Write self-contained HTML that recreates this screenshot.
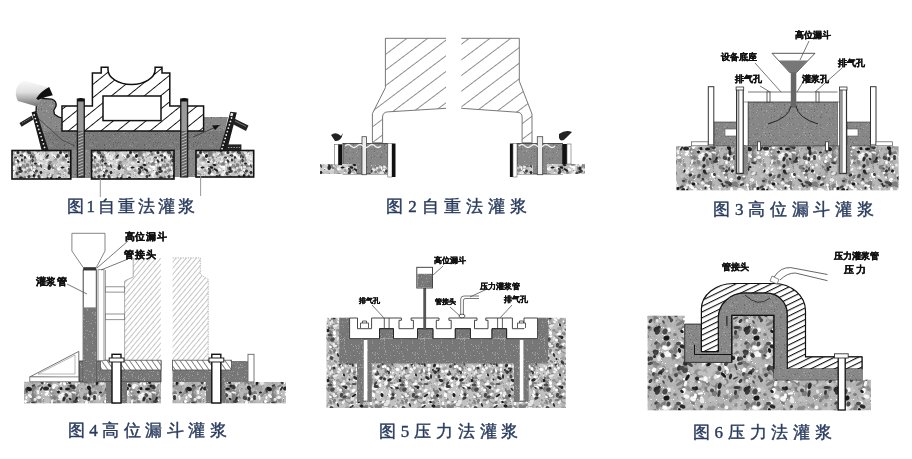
<!DOCTYPE html>
<html><head><meta charset="utf-8"><style>
html,body{margin:0;padding:0;background:#fff;}
#wrap{position:relative;width:912px;height:459px;overflow:hidden;background:#fff;filter:blur(0.6px);}
.cap{position:absolute;font-family:"Liberation Serif",serif;color:#2a3c5e;font-weight:normal;-webkit-text-stroke:0.4px #2a3c5e;white-space:nowrap;line-height:1;display:flex;justify-content:space-between;}
.cap span{display:inline-block}
.lab{position:absolute;font-family:"Liberation Sans",sans-serif;color:#111;font-weight:bold;-webkit-text-stroke:0.3px #111;white-space:nowrap;line-height:1;}
</style></head><body><div id="wrap">
<svg width="912" height="459" viewBox="0 0 912 459" style="position:absolute;left:0;top:0"><defs><pattern id="con" patternUnits="userSpaceOnUse" width="70" height="50"><rect width="70" height="50" fill="#cfcfcf"/><path fill="#eee" d="M16 15h1v1h-1zM28 28h1v1h-1zM0 10h1v1h-1zM54 13h1v1h-1zM23 15h1v1h-1zM42 21h1v1h-1zM49 48h1v1h-1zM42 4h1v1h-1zM51 16h1v1h-1zM25 34h1v1h-1zM61 21h1v1h-1zM46 19h1v1h-1zM2 48h1v1h-1zM35 42h1v1h-1zM32 4h1v1h-1zM10 23h1v1h-1zM56 49h1v1h-1zM45 18h1v1h-1zM23 49h1v1h-1zM18 36h1v1h-1zM34 1h1v1h-1zM29 6h1v1h-1zM42 1h1v1h-1zM49 49h1v1h-1zM28 34h1v1h-1zM64 48h1v1h-1zM56 24h1v1h-1zM69 46h1v1h-1zM30 30h1v1h-1zM12 26h1v1h-1zM28 36h1v1h-1zM56 15h1v1h-1zM42 38h1v1h-1zM29 6h1v1h-1zM51 12h1v1h-1zM64 44h1v1h-1zM30 31h1v1h-1zM16 14h1v1h-1zM52 42h1v1h-1zM21 39h1v1h-1zM62 14h1v1h-1zM38 39h1v1h-1zM23 14h1v1h-1zM20 48h1v1h-1zM64 38h1v1h-1zM41 45h1v1h-1zM56 39h1v1h-1zM46 12h1v1h-1zM38 25h1v1h-1zM52 39h1v1h-1zM39 23h1v1h-1zM6 7h1v1h-1zM46 30h1v1h-1zM42 6h1v1h-1zM13 27h1v1h-1zM28 25h1v1h-1zM58 6h1v1h-1zM36 21h1v1h-1z"/><path fill="#999" d="M32 43h1v1h-1zM4 2h1v1h-1zM50 16h1v1h-1zM29 28h1v1h-1zM53 6h1v1h-1zM8 21h1v1h-1zM21 44h1v1h-1zM45 5h1v1h-1zM13 8h1v1h-1zM57 12h1v1h-1zM5 11h1v1h-1zM31 3h1v1h-1zM20 27h1v1h-1zM65 25h1v1h-1zM23 33h1v1h-1zM44 40h1v1h-1zM64 10h1v1h-1zM54 13h1v1h-1zM37 2h1v1h-1zM66 25h1v1h-1zM28 40h1v1h-1zM27 23h1v1h-1zM65 6h1v1h-1zM23 39h1v1h-1zM37 29h1v1h-1zM9 5h1v1h-1zM19 24h1v1h-1zM43 46h1v1h-1zM20 36h1v1h-1zM29 26h1v1h-1zM43 43h1v1h-1zM62 10h1v1h-1zM62 7h1v1h-1zM38 35h1v1h-1zM35 34h1v1h-1zM63 24h1v1h-1zM13 10h1v1h-1zM44 2h1v1h-1zM49 38h1v1h-1zM15 20h1v1h-1zM28 3h1v1h-1zM21 1h1v1h-1zM66 4h1v1h-1zM30 24h1v1h-1zM64 7h1v1h-1zM41 32h1v1h-1zM64 8h1v1h-1zM30 13h1v1h-1zM53 16h1v1h-1zM28 19h1v1h-1zM15 3h1v1h-1zM64 12h1v1h-1zM69 19h1v1h-1zM45 39h1v1h-1zM13 14h1v1h-1zM54 5h1v1h-1zM28 11h1v1h-1zM19 27h1v1h-1zM40 9h1v1h-1zM57 42h1v1h-1zM6 41h1v1h-1zM5 4h1v1h-1zM39 4h1v1h-1zM9 32h1v1h-1zM41 5h1v1h-1zM65 7h1v1h-1zM22 39h1v1h-1zM58 31h1v1h-1zM36 29h1v1h-1zM66 31h1v1h-1zM20 45h1v1h-1zM53 18h1v1h-1zM56 1h1v1h-1zM27 28h1v1h-1zM24 7h1v1h-1zM55 36h1v1h-1zM62 44h1v1h-1z"/><path fill="#fff" d="M42 39h1v1h-1zM46 23h1v1h-1zM54 20h1v1h-1zM17 30h1v1h-1zM8 26h1v1h-1zM17 35h1v1h-1zM2 1h1v1h-1zM49 40h1v1h-1zM18 1h1v1h-1zM50 48h1v1h-1zM50 29h1v1h-1zM63 49h1v1h-1zM38 40h1v1h-1zM24 21h1v1h-1zM64 31h1v1h-1zM63 16h1v1h-1zM7 28h1v1h-1zM49 32h1v1h-1zM32 38h1v1h-1zM27 21h1v1h-1zM69 40h1v1h-1zM63 2h1v1h-1zM66 33h1v1h-1zM45 1h1v1h-1zM53 19h1v1h-1zM25 8h1v1h-1zM57 7h1v1h-1zM44 18h1v1h-1zM44 0h1v1h-1zM26 5h1v1h-1zM15 33h1v1h-1zM64 22h1v1h-1zM63 12h1v1h-1zM28 17h1v1h-1zM33 37h1v1h-1zM22 10h1v1h-1zM61 21h1v1h-1zM11 42h1v1h-1zM50 24h1v1h-1zM14 31h1v1h-1zM14 37h1v1h-1zM18 9h1v1h-1zM14 17h1v1h-1zM18 27h1v1h-1zM40 35h1v1h-1zM6 44h1v1h-1zM38 3h1v1h-1zM12 37h1v1h-1zM42 38h1v1h-1z"/><path fill="#888" d="M32 28h1v1h-1zM43 9h1v1h-1zM44 30h1v1h-1zM33 49h1v1h-1zM22 1h1v1h-1zM49 1h1v1h-1zM54 21h1v1h-1zM34 29h1v1h-1zM14 48h1v1h-1zM29 45h1v1h-1zM68 6h1v1h-1zM52 3h1v1h-1zM6 7h1v1h-1zM8 13h1v1h-1zM49 23h1v1h-1zM2 30h1v1h-1zM35 31h1v1h-1zM58 6h1v1h-1zM19 11h1v1h-1zM48 10h1v1h-1zM18 36h1v1h-1zM44 45h1v1h-1zM56 47h1v1h-1zM24 4h1v1h-1zM36 34h1v1h-1zM5 27h1v1h-1zM64 40h1v1h-1zM24 45h1v1h-1zM37 5h1v1h-1zM9 4h1v1h-1zM7 42h1v1h-1zM61 45h1v1h-1zM54 41h1v1h-1zM37 19h1v1h-1zM45 35h1v1h-1zM8 12h1v1h-1zM27 47h1v1h-1zM33 8h1v1h-1zM38 30h1v1h-1zM41 32h1v1h-1zM31 33h1v1h-1zM44 19h1v1h-1zM25 17h1v1h-1zM59 38h1v1h-1zM40 41h1v1h-1zM52 18h1v1h-1zM12 4h1v1h-1zM30 36h1v1h-1zM54 26h1v1h-1zM24 0h1v1h-1zM1 5h1v1h-1zM33 25h1v1h-1zM38 41h1v1h-1zM60 24h1v1h-1zM61 45h1v1h-1zM3 21h1v1h-1zM7 20h1v1h-1zM46 1h1v1h-1zM21 17h1v1h-1zM22 14h1v1h-1zM51 17h1v1h-1zM13 20h1v1h-1zM2 49h1v1h-1zM28 4h1v1h-1zM54 41h1v1h-1zM46 5h1v1h-1zM54 7h1v1h-1zM64 28h1v1h-1zM53 24h1v1h-1zM59 43h1v1h-1zM43 22h1v1h-1zM61 49h1v1h-1z"/><path fill="#aaa" d="M68 33h1v1h-1zM46 31h1v1h-1zM31 42h1v1h-1zM36 1h1v1h-1zM56 9h1v1h-1zM0 43h1v1h-1zM13 50h1v1h-1zM15 13h1v1h-1zM44 6h1v1h-1zM11 31h1v1h-1zM39 43h1v1h-1zM37 47h1v1h-1zM60 29h1v1h-1zM59 4h1v1h-1zM10 31h1v1h-1zM62 19h1v1h-1zM22 42h1v1h-1zM39 33h1v1h-1zM30 2h1v1h-1zM6 11h1v1h-1zM39 42h1v1h-1zM45 26h1v1h-1zM18 34h1v1h-1zM15 43h1v1h-1zM36 20h1v1h-1zM41 43h1v1h-1zM18 10h1v1h-1zM38 43h1v1h-1zM45 26h1v1h-1zM3 28h1v1h-1zM26 46h1v1h-1zM40 10h1v1h-1zM9 16h1v1h-1zM69 1h1v1h-1zM18 45h1v1h-1zM38 21h1v1h-1zM31 32h1v1h-1zM66 21h1v1h-1zM28 16h1v1h-1zM20 33h1v1h-1zM42 6h1v1h-1zM29 39h1v1h-1zM35 15h1v1h-1zM56 22h1v1h-1zM26 33h1v1h-1zM5 4h1v1h-1zM22 46h1v1h-1zM38 42h1v1h-1zM59 21h1v1h-1zM47 25h1v1h-1zM56 4h1v1h-1zM58 44h1v1h-1zM22 19h1v1h-1zM64 17h1v1h-1zM56 19h1v1h-1zM56 36h1v1h-1zM10 45h1v1h-1zM9 37h1v1h-1zM33 48h1v1h-1zM22 20h1v1h-1zM34 46h1v1h-1zM38 18h1v1h-1zM49 47h1v1h-1zM9 45h1v1h-1zM29 2h1v1h-1zM33 21h1v1h-1zM63 26h1v1h-1zM9 22h1v1h-1z"/><path fill="#ddd" d="M13 26h1v1h-1zM21 5h1v1h-1zM27 48h1v1h-1zM13 25h1v1h-1zM5 10h1v1h-1zM21 9h1v1h-1zM69 33h1v1h-1zM5 27h1v1h-1zM3 47h1v1h-1zM43 4h1v1h-1zM51 19h1v1h-1zM12 45h1v1h-1zM27 26h1v1h-1zM19 30h1v1h-1zM45 28h1v1h-1zM31 31h1v1h-1zM19 17h1v1h-1zM6 47h1v1h-1zM51 41h1v1h-1zM33 50h1v1h-1zM66 25h1v1h-1zM14 11h1v1h-1zM43 5h1v1h-1zM62 1h1v1h-1zM41 7h1v1h-1zM13 23h1v1h-1zM23 4h1v1h-1zM20 6h1v1h-1zM1 18h1v1h-1zM40 50h1v1h-1zM65 33h1v1h-1zM52 3h1v1h-1zM3 5h1v1h-1zM42 32h1v1h-1zM43 36h1v1h-1zM13 12h1v1h-1zM23 27h1v1h-1zM58 9h1v1h-1zM6 15h1v1h-1zM26 6h1v1h-1zM31 30h1v1h-1zM32 11h1v1h-1zM58 1h1v1h-1zM40 48h1v1h-1zM63 4h1v1h-1zM46 5h1v1h-1zM64 21h1v1h-1zM45 26h1v1h-1zM15 12h1v1h-1zM64 47h1v1h-1zM6 13h1v1h-1zM37 44h1v1h-1zM55 21h1v1h-1zM21 23h1v1h-1zM60 42h1v1h-1zM44 47h1v1h-1zM1 20h1v1h-1zM69 26h1v1h-1zM32 6h1v1h-1zM32 20h1v1h-1zM10 38h1v1h-1zM63 31h1v1h-1zM40 17h1v1h-1zM22 3h1v1h-1z"/><g fill="#8f8f8f"><ellipse cx="29.5" cy="40.5" rx="2.5" ry="1.5" transform="rotate(40,29.5,40.5)"/><ellipse cx="7" cy="39.5" rx="2" ry="2" transform="rotate(22,7,39.5)"/><ellipse cx="57" cy="20" rx="2" ry="1" transform="rotate(64,57,20)"/><ellipse cx="14" cy="31.5" rx="2.5" ry="1" transform="rotate(34,14,31.5)"/><ellipse cx="-1.5" cy="-5" rx="1.5" ry="1" transform="rotate(33,-1.5,-5)"/><ellipse cx="-1.5" cy="45" rx="1.5" ry="1" transform="rotate(33,-1.5,45)"/><ellipse cx="68.5" cy="-5" rx="1.5" ry="1" transform="rotate(33,68.5,-5)"/><ellipse cx="68.5" cy="45" rx="1.5" ry="1" transform="rotate(33,68.5,45)"/><ellipse cx="32.5" cy="4" rx="1.5" ry="1.5" transform="rotate(165,32.5,4)"/><ellipse cx="32.5" cy="54" rx="1.5" ry="1.5" transform="rotate(165,32.5,54)"/><ellipse cx="42.5" cy="30.5" rx="2" ry="1.5" transform="rotate(145,42.5,30.5)"/><ellipse cx="18" cy="8" rx="2.5" ry="1.5" transform="rotate(124,18,8)"/><ellipse cx="34.5" cy="38" rx="1.5" ry="1.5" transform="rotate(178,34.5,38)"/><ellipse cx="-0.5" cy="34" rx="1.5" ry="1" transform="rotate(155,-0.5,34)"/><ellipse cx="69.5" cy="34" rx="1.5" ry="1" transform="rotate(155,69.5,34)"/><ellipse cx="36" cy="28.5" rx="1.5" ry="1" transform="rotate(117,36,28.5)"/><ellipse cx="10.5" cy="-3" rx="2.5" ry="1.5" transform="rotate(65,10.5,-3)"/><ellipse cx="10.5" cy="47" rx="2.5" ry="1.5" transform="rotate(65,10.5,47)"/><ellipse cx="46" cy="3.5" rx="2" ry="1" transform="rotate(154,46,3.5)"/><ellipse cx="46" cy="53.5" rx="2" ry="1" transform="rotate(154,46,53.5)"/><ellipse cx="24" cy="-5" rx="2.5" ry="1" transform="rotate(6,24,-5)"/><ellipse cx="24" cy="45" rx="2.5" ry="1" transform="rotate(6,24,45)"/><ellipse cx="62" cy="34.5" rx="1.5" ry="1" transform="rotate(143,62,34.5)"/><ellipse cx="38.5" cy="28" rx="1" ry="1.5" transform="rotate(27,38.5,28)"/><ellipse cx="-0.5" cy="22" rx="2.5" ry="1" transform="rotate(150,-0.5,22)"/><ellipse cx="69.5" cy="22" rx="2.5" ry="1" transform="rotate(150,69.5,22)"/><ellipse cx="21.5" cy="25.5" rx="1.5" ry="2" transform="rotate(2,21.5,25.5)"/><ellipse cx="58" cy="40" rx="3" ry="1" transform="rotate(92,58,40)"/><ellipse cx="61.5" cy="3.5" rx="1.5" ry="1.5" transform="rotate(89,61.5,3.5)"/><ellipse cx="61.5" cy="53.5" rx="1.5" ry="1.5" transform="rotate(89,61.5,53.5)"/><ellipse cx="-3" cy="11" rx="2" ry="1.5" transform="rotate(52,-3,11)"/><ellipse cx="67" cy="11" rx="2" ry="1.5" transform="rotate(52,67,11)"/><ellipse cx="14.5" cy="10.5" rx="1.5" ry="1.5" transform="rotate(138,14.5,10.5)"/><ellipse cx="34.5" cy="6" rx="2.5" ry="2" transform="rotate(22,34.5,6)"/><ellipse cx="34.5" cy="56" rx="2.5" ry="2" transform="rotate(22,34.5,56)"/><ellipse cx="7.5" cy="33" rx="1.5" ry="1.5" transform="rotate(82,7.5,33)"/><ellipse cx="26" cy="36" rx="2" ry="1.5" transform="rotate(120,26,36)"/><ellipse cx="54.5" cy="6" rx="1" ry="1.5" transform="rotate(84,54.5,6)"/><ellipse cx="54.5" cy="56" rx="1" ry="1.5" transform="rotate(84,54.5,56)"/><ellipse cx="7.5" cy="20.5" rx="3" ry="1.5" transform="rotate(101,7.5,20.5)"/><ellipse cx="21" cy="25.5" rx="2" ry="1" transform="rotate(22,21,25.5)"/><ellipse cx="4" cy="11" rx="2" ry="1.5" transform="rotate(81,4,11)"/><ellipse cx="74" cy="11" rx="2" ry="1.5" transform="rotate(81,74,11)"/><ellipse cx="2" cy="5.5" rx="2.5" ry="1.5" transform="rotate(54,2,5.5)"/><ellipse cx="2" cy="55.5" rx="2.5" ry="1.5" transform="rotate(54,2,55.5)"/><ellipse cx="72" cy="5.5" rx="2.5" ry="1.5" transform="rotate(54,72,5.5)"/><ellipse cx="72" cy="55.5" rx="2.5" ry="1.5" transform="rotate(54,72,55.5)"/><ellipse cx="-2.5" cy="34.5" rx="1.5" ry="1.5" transform="rotate(151,-2.5,34.5)"/><ellipse cx="67.5" cy="34.5" rx="1.5" ry="1.5" transform="rotate(151,67.5,34.5)"/><ellipse cx="22" cy="25" rx="2.5" ry="1" transform="rotate(93,22,25)"/><ellipse cx="23" cy="16" rx="2.5" ry="1.5" transform="rotate(147,23,16)"/><ellipse cx="44.5" cy="1" rx="2.5" ry="1.5" transform="rotate(168,44.5,1)"/><ellipse cx="44.5" cy="51" rx="2.5" ry="1.5" transform="rotate(168,44.5,51)"/><ellipse cx="57.5" cy="24" rx="2" ry="2" transform="rotate(60,57.5,24)"/><ellipse cx="8" cy="43.5" rx="1.5" ry="1" transform="rotate(17,8,43.5)"/><ellipse cx="55" cy="11" rx="2" ry="1.5" transform="rotate(36,55,11)"/><ellipse cx="-2.5" cy="10" rx="2" ry="1" transform="rotate(66,-2.5,10)"/><ellipse cx="67.5" cy="10" rx="2" ry="1" transform="rotate(66,67.5,10)"/><ellipse cx="35" cy="10" rx="2" ry="1.5" transform="rotate(127,35,10)"/><ellipse cx="43" cy="30.5" rx="1.5" ry="1.5" transform="rotate(168,43,30.5)"/><ellipse cx="58" cy="34.5" rx="2" ry="1.5" transform="rotate(94,58,34.5)"/><ellipse cx="24.5" cy="11" rx="2.5" ry="1" transform="rotate(71,24.5,11)"/><ellipse cx="23" cy="36.5" rx="2.5" ry="1.5" transform="rotate(121,23,36.5)"/><ellipse cx="39.5" cy="-3" rx="3" ry="1.5" transform="rotate(12,39.5,-3)"/><ellipse cx="39.5" cy="47" rx="3" ry="1.5" transform="rotate(12,39.5,47)"/><ellipse cx="62" cy="36.5" rx="2" ry="1" transform="rotate(171,62,36.5)"/><ellipse cx="-5.5" cy="7.5" rx="3" ry="1.5" transform="rotate(157,-5.5,7.5)"/><ellipse cx="64.5" cy="7.5" rx="3" ry="1.5" transform="rotate(157,64.5,7.5)"/><ellipse cx="31" cy="40" rx="1.5" ry="1.5" transform="rotate(47,31,40)"/><ellipse cx="56" cy="25" rx="2" ry="1" transform="rotate(118,56,25)"/><ellipse cx="28.5" cy="35" rx="2" ry="1.5" transform="rotate(61,28.5,35)"/><ellipse cx="32.5" cy="4.5" rx="2" ry="1.5" transform="rotate(90,32.5,4.5)"/><ellipse cx="32.5" cy="54.5" rx="2" ry="1.5" transform="rotate(90,32.5,54.5)"/><ellipse cx="56" cy="9" rx="1.5" ry="1" transform="rotate(147,56,9)"/><ellipse cx="17.5" cy="10" rx="1.5" ry="1" transform="rotate(105,17.5,10)"/><ellipse cx="29" cy="20.5" rx="2" ry="2" transform="rotate(42,29,20.5)"/><ellipse cx="4.5" cy="-1" rx="1.5" ry="1" transform="rotate(171,4.5,-1)"/><ellipse cx="4.5" cy="49" rx="1.5" ry="1" transform="rotate(171,4.5,49)"/><ellipse cx="74.5" cy="-1" rx="1.5" ry="1" transform="rotate(171,74.5,-1)"/><ellipse cx="74.5" cy="49" rx="1.5" ry="1" transform="rotate(171,74.5,49)"/><ellipse cx="59.5" cy="24.5" rx="1.5" ry="2" transform="rotate(106,59.5,24.5)"/><ellipse cx="46" cy="33.5" rx="2" ry="1" transform="rotate(78,46,33.5)"/><ellipse cx="40.5" cy="12.5" rx="2" ry="1.5" transform="rotate(127,40.5,12.5)"/><ellipse cx="58" cy="19" rx="2" ry="1.5" transform="rotate(49,58,19)"/></g><g fill="#a0a0a0"><ellipse cx="48.5" cy="26.5" rx="1.5" ry="1" transform="rotate(43,48.5,26.5)"/><ellipse cx="21.5" cy="41" rx="1.5" ry="1" transform="rotate(173,21.5,41)"/><ellipse cx="55.5" cy="18.5" rx="2.5" ry="1.5" transform="rotate(119,55.5,18.5)"/><ellipse cx="-1" cy="9.5" rx="2.5" ry="1" transform="rotate(32,-1,9.5)"/><ellipse cx="69" cy="9.5" rx="2.5" ry="1" transform="rotate(32,69,9.5)"/><ellipse cx="16.5" cy="22" rx="2.5" ry="1.5" transform="rotate(139,16.5,22)"/><ellipse cx="18" cy="27" rx="2" ry="1" transform="rotate(153,18,27)"/><ellipse cx="42" cy="35.5" rx="2.5" ry="1" transform="rotate(103,42,35.5)"/><ellipse cx="5" cy="-4.5" rx="2" ry="1.5" transform="rotate(102,5,-4.5)"/><ellipse cx="5" cy="45.5" rx="2" ry="1.5" transform="rotate(102,5,45.5)"/><ellipse cx="75" cy="-4.5" rx="2" ry="1.5" transform="rotate(102,75,-4.5)"/><ellipse cx="75" cy="45.5" rx="2" ry="1.5" transform="rotate(102,75,45.5)"/><ellipse cx="22" cy="23.5" rx="2.5" ry="2" transform="rotate(126,22,23.5)"/><ellipse cx="16" cy="12.5" rx="1.5" ry="1.5" transform="rotate(99,16,12.5)"/><ellipse cx="54.5" cy="11" rx="1.5" ry="1.5" transform="rotate(63,54.5,11)"/><ellipse cx="15.5" cy="-3.5" rx="2.5" ry="1" transform="rotate(36,15.5,-3.5)"/><ellipse cx="15.5" cy="46.5" rx="2.5" ry="1" transform="rotate(36,15.5,46.5)"/><ellipse cx="22" cy="36" rx="2.5" ry="2" transform="rotate(125,22,36)"/><ellipse cx="25.5" cy="33.5" rx="2" ry="1" transform="rotate(90,25.5,33.5)"/><ellipse cx="17.5" cy="31.5" rx="2.5" ry="1" transform="rotate(66,17.5,31.5)"/><ellipse cx="16" cy="9" rx="2" ry="2" transform="rotate(2,16,9)"/><ellipse cx="19" cy="13.5" rx="2.5" ry="1" transform="rotate(45,19,13.5)"/><ellipse cx="12" cy="3.5" rx="2.5" ry="1.5" transform="rotate(79,12,3.5)"/><ellipse cx="12" cy="53.5" rx="2.5" ry="1.5" transform="rotate(79,12,53.5)"/><ellipse cx="27.5" cy="31" rx="3" ry="1" transform="rotate(138,27.5,31)"/><ellipse cx="43" cy="41.5" rx="1.5" ry="1" transform="rotate(45,43,41.5)"/><ellipse cx="21.5" cy="10.5" rx="1.5" ry="1" transform="rotate(63,21.5,10.5)"/><ellipse cx="51.5" cy="15.5" rx="3" ry="1" transform="rotate(133,51.5,15.5)"/><ellipse cx="52.5" cy="-5" rx="1.5" ry="2" transform="rotate(20,52.5,-5)"/><ellipse cx="52.5" cy="45" rx="1.5" ry="2" transform="rotate(20,52.5,45)"/><ellipse cx="59.5" cy="31" rx="1.5" ry="2" transform="rotate(162,59.5,31)"/><ellipse cx="9" cy="6" rx="2" ry="1" transform="rotate(169,9,6)"/><ellipse cx="9" cy="56" rx="2" ry="1" transform="rotate(169,9,56)"/><ellipse cx="32" cy="25.5" rx="2" ry="1.5" transform="rotate(169,32,25.5)"/><ellipse cx="20.5" cy="34.5" rx="1.5" ry="1" transform="rotate(121,20.5,34.5)"/><ellipse cx="26" cy="7" rx="2.5" ry="1" transform="rotate(71,26,7)"/><ellipse cx="43" cy="43" rx="2" ry="1" transform="rotate(173,43,43)"/><ellipse cx="11" cy="13.5" rx="2.5" ry="2" transform="rotate(73,11,13.5)"/><ellipse cx="3" cy="-4" rx="1.5" ry="1" transform="rotate(144,3,-4)"/><ellipse cx="3" cy="46" rx="1.5" ry="1" transform="rotate(144,3,46)"/><ellipse cx="73" cy="-4" rx="1.5" ry="1" transform="rotate(144,73,-4)"/><ellipse cx="73" cy="46" rx="1.5" ry="1" transform="rotate(144,73,46)"/><ellipse cx="34.5" cy="22.5" rx="2" ry="1" transform="rotate(175,34.5,22.5)"/><ellipse cx="-4" cy="7.5" rx="2.5" ry="1.5" transform="rotate(70,-4,7.5)"/><ellipse cx="66" cy="7.5" rx="2.5" ry="1.5" transform="rotate(70,66,7.5)"/><ellipse cx="18" cy="11" rx="1.5" ry="1.5" transform="rotate(49,18,11)"/><ellipse cx="7.5" cy="15" rx="3" ry="1" transform="rotate(54,7.5,15)"/><ellipse cx="41" cy="26.5" rx="2.5" ry="1.5" transform="rotate(60,41,26.5)"/><ellipse cx="-5" cy="20.5" rx="1.5" ry="1.5" transform="rotate(36,-5,20.5)"/><ellipse cx="65" cy="20.5" rx="1.5" ry="1.5" transform="rotate(36,65,20.5)"/><ellipse cx="48" cy="25" rx="1.5" ry="1.5" transform="rotate(79,48,25)"/><ellipse cx="26" cy="18" rx="3" ry="1" transform="rotate(164,26,18)"/><ellipse cx="35" cy="19" rx="2.5" ry="1" transform="rotate(12,35,19)"/><ellipse cx="11" cy="24.5" rx="1.5" ry="1" transform="rotate(41,11,24.5)"/><ellipse cx="10" cy="35.5" rx="1.5" ry="1" transform="rotate(170,10,35.5)"/><ellipse cx="5.5" cy="15.5" rx="2.5" ry="1.5" transform="rotate(137,5.5,15.5)"/><ellipse cx="75.5" cy="15.5" rx="2.5" ry="1.5" transform="rotate(137,75.5,15.5)"/><ellipse cx="-1.5" cy="1" rx="2" ry="1" transform="rotate(137,-1.5,1)"/><ellipse cx="-1.5" cy="51" rx="2" ry="1" transform="rotate(137,-1.5,51)"/><ellipse cx="68.5" cy="1" rx="2" ry="1" transform="rotate(137,68.5,1)"/><ellipse cx="68.5" cy="51" rx="2" ry="1" transform="rotate(137,68.5,51)"/><ellipse cx="29" cy="27" rx="1.5" ry="2" transform="rotate(83,29,27)"/><ellipse cx="15.5" cy="35.5" rx="2.5" ry="1.5" transform="rotate(7,15.5,35.5)"/><ellipse cx="63" cy="12.5" rx="3" ry="1.5" transform="rotate(97,63,12.5)"/><ellipse cx="1" cy="3.5" rx="2" ry="1" transform="rotate(70,1,3.5)"/><ellipse cx="1" cy="53.5" rx="2" ry="1" transform="rotate(70,1,53.5)"/><ellipse cx="71" cy="3.5" rx="2" ry="1" transform="rotate(70,71,3.5)"/><ellipse cx="71" cy="53.5" rx="2" ry="1" transform="rotate(70,71,53.5)"/><ellipse cx="61" cy="9.5" rx="1.5" ry="1" transform="rotate(6,61,9.5)"/><ellipse cx="-0.5" cy="10" rx="1.5" ry="1.5" transform="rotate(164,-0.5,10)"/><ellipse cx="69.5" cy="10" rx="1.5" ry="1.5" transform="rotate(164,69.5,10)"/><ellipse cx="17.5" cy="9" rx="1.5" ry="1.5" transform="rotate(21,17.5,9)"/><ellipse cx="15" cy="35" rx="1.5" ry="1.5" transform="rotate(126,15,35)"/><ellipse cx="42.5" cy="-0.5" rx="1.5" ry="1.5" transform="rotate(40,42.5,-0.5)"/><ellipse cx="42.5" cy="49.5" rx="1.5" ry="1.5" transform="rotate(40,42.5,49.5)"/><ellipse cx="45.5" cy="-4" rx="2.5" ry="1" transform="rotate(142,45.5,-4)"/><ellipse cx="45.5" cy="46" rx="2.5" ry="1" transform="rotate(142,45.5,46)"/><ellipse cx="-6" cy="34" rx="2" ry="1.5" transform="rotate(31,-6,34)"/><ellipse cx="64" cy="34" rx="2" ry="1.5" transform="rotate(31,64,34)"/><ellipse cx="21" cy="0.5" rx="2" ry="1" transform="rotate(66,21,0.5)"/><ellipse cx="21" cy="50.5" rx="2" ry="1" transform="rotate(66,21,50.5)"/><ellipse cx="35.5" cy="23.5" rx="2" ry="1.5" transform="rotate(95,35.5,23.5)"/></g><g fill="#b3b3b3"><ellipse cx="61.5" cy="10" rx="2.5" ry="1" transform="rotate(155,61.5,10)"/><ellipse cx="23.5" cy="-2" rx="2" ry="1" transform="rotate(140,23.5,-2)"/><ellipse cx="23.5" cy="48" rx="2" ry="1" transform="rotate(140,23.5,48)"/><ellipse cx="8.5" cy="34.5" rx="2.5" ry="1.5" transform="rotate(48,8.5,34.5)"/><ellipse cx="42" cy="14" rx="2.5" ry="1" transform="rotate(45,42,14)"/><ellipse cx="3.5" cy="14" rx="2" ry="1.5" transform="rotate(171,3.5,14)"/><ellipse cx="73.5" cy="14" rx="2" ry="1.5" transform="rotate(171,73.5,14)"/><ellipse cx="1.5" cy="16" rx="1.5" ry="1.5" transform="rotate(69,1.5,16)"/><ellipse cx="71.5" cy="16" rx="1.5" ry="1.5" transform="rotate(69,71.5,16)"/><ellipse cx="15" cy="2" rx="2" ry="1.5" transform="rotate(4,15,2)"/><ellipse cx="15" cy="52" rx="2" ry="1.5" transform="rotate(4,15,52)"/><ellipse cx="8.5" cy="24.5" rx="2.5" ry="1" transform="rotate(88,8.5,24.5)"/><ellipse cx="36.5" cy="37" rx="2.5" ry="1.5" transform="rotate(163,36.5,37)"/><ellipse cx="49" cy="27.5" rx="1" ry="1" transform="rotate(126,49,27.5)"/><ellipse cx="63.5" cy="-4.5" rx="2" ry="1.5" transform="rotate(49,63.5,-4.5)"/><ellipse cx="63.5" cy="45.5" rx="2" ry="1.5" transform="rotate(49,63.5,45.5)"/><ellipse cx="33" cy="16.5" rx="1" ry="1" transform="rotate(46,33,16.5)"/><ellipse cx="19" cy="25" rx="1" ry="1.5" transform="rotate(85,19,25)"/><ellipse cx="11" cy="31" rx="2" ry="1" transform="rotate(88,11,31)"/><ellipse cx="-6" cy="37" rx="3" ry="1.5" transform="rotate(158,-6,37)"/><ellipse cx="64" cy="37" rx="3" ry="1.5" transform="rotate(158,64,37)"/><ellipse cx="52" cy="13.5" rx="1.5" ry="1.5" transform="rotate(29,52,13.5)"/><ellipse cx="38" cy="40" rx="1.5" ry="1" transform="rotate(26,38,40)"/><ellipse cx="10" cy="31.5" rx="1.5" ry="1.5" transform="rotate(49,10,31.5)"/><ellipse cx="53.5" cy="13" rx="2.5" ry="1.5" transform="rotate(44,53.5,13)"/><ellipse cx="10" cy="16" rx="2" ry="1" transform="rotate(130,10,16)"/><ellipse cx="54.5" cy="-5.5" rx="1.5" ry="1" transform="rotate(146,54.5,-5.5)"/><ellipse cx="54.5" cy="44.5" rx="1.5" ry="1" transform="rotate(146,54.5,44.5)"/><ellipse cx="3" cy="2.5" rx="2" ry="1" transform="rotate(58,3,2.5)"/><ellipse cx="3" cy="52.5" rx="2" ry="1" transform="rotate(58,3,52.5)"/><ellipse cx="73" cy="2.5" rx="2" ry="1" transform="rotate(58,73,2.5)"/><ellipse cx="73" cy="52.5" rx="2" ry="1" transform="rotate(58,73,52.5)"/><ellipse cx="56" cy="7.5" rx="1.5" ry="1" transform="rotate(66,56,7.5)"/><ellipse cx="14" cy="3.5" rx="2" ry="1.5" transform="rotate(48,14,3.5)"/><ellipse cx="14" cy="53.5" rx="2" ry="1.5" transform="rotate(48,14,53.5)"/><ellipse cx="15.5" cy="32" rx="1.5" ry="1.5" transform="rotate(66,15.5,32)"/><ellipse cx="38.5" cy="20" rx="1.5" ry="1" transform="rotate(40,38.5,20)"/><ellipse cx="25" cy="-2.5" rx="2" ry="1.5" transform="rotate(94,25,-2.5)"/><ellipse cx="25" cy="47.5" rx="2" ry="1.5" transform="rotate(94,25,47.5)"/><ellipse cx="28.5" cy="-1.5" rx="2" ry="2" transform="rotate(1,28.5,-1.5)"/><ellipse cx="28.5" cy="48.5" rx="2" ry="2" transform="rotate(1,28.5,48.5)"/><ellipse cx="15" cy="29.5" rx="2.5" ry="1.5" transform="rotate(145,15,29.5)"/><ellipse cx="28" cy="14.5" rx="1.5" ry="2" transform="rotate(122,28,14.5)"/><ellipse cx="0" cy="24.5" rx="1.5" ry="1" transform="rotate(71,0,24.5)"/><ellipse cx="70" cy="24.5" rx="1.5" ry="1" transform="rotate(71,70,24.5)"/><ellipse cx="56" cy="22.5" rx="2.5" ry="1.5" transform="rotate(162,56,22.5)"/><ellipse cx="7.5" cy="37" rx="2" ry="1" transform="rotate(30,7.5,37)"/><ellipse cx="59.5" cy="2" rx="2" ry="1.5" transform="rotate(126,59.5,2)"/><ellipse cx="59.5" cy="52" rx="2" ry="1.5" transform="rotate(126,59.5,52)"/><ellipse cx="11.5" cy="9.5" rx="3" ry="1" transform="rotate(30,11.5,9.5)"/><ellipse cx="25.5" cy="-2.5" rx="1.5" ry="1.5" transform="rotate(129,25.5,-2.5)"/><ellipse cx="25.5" cy="47.5" rx="1.5" ry="1.5" transform="rotate(129,25.5,47.5)"/><ellipse cx="7.5" cy="18" rx="2.5" ry="1.5" transform="rotate(31,7.5,18)"/><ellipse cx="17.5" cy="6.5" rx="1.5" ry="1" transform="rotate(87,17.5,6.5)"/><ellipse cx="48.5" cy="1.5" rx="2.5" ry="1" transform="rotate(169,48.5,1.5)"/><ellipse cx="48.5" cy="51.5" rx="2.5" ry="1" transform="rotate(169,48.5,51.5)"/><ellipse cx="29.5" cy="33.5" rx="3" ry="1" transform="rotate(42,29.5,33.5)"/><ellipse cx="35" cy="-3.5" rx="2.5" ry="1.5" transform="rotate(116,35,-3.5)"/><ellipse cx="35" cy="46.5" rx="2.5" ry="1.5" transform="rotate(116,35,46.5)"/><ellipse cx="-1.5" cy="-4" rx="2.5" ry="1.5" transform="rotate(123,-1.5,-4)"/><ellipse cx="-1.5" cy="46" rx="2.5" ry="1.5" transform="rotate(123,-1.5,46)"/><ellipse cx="68.5" cy="-4" rx="2.5" ry="1.5" transform="rotate(123,68.5,-4)"/><ellipse cx="68.5" cy="46" rx="2.5" ry="1.5" transform="rotate(123,68.5,46)"/><ellipse cx="-4.5" cy="32" rx="2.5" ry="1" transform="rotate(12,-4.5,32)"/><ellipse cx="65.5" cy="32" rx="2.5" ry="1" transform="rotate(12,65.5,32)"/><ellipse cx="19" cy="9.5" rx="2.5" ry="2" transform="rotate(117,19,9.5)"/><ellipse cx="23" cy="2.5" rx="2" ry="1.5" transform="rotate(5,23,2.5)"/><ellipse cx="23" cy="52.5" rx="2" ry="1.5" transform="rotate(5,23,52.5)"/><ellipse cx="24" cy="21.5" rx="2" ry="1.5" transform="rotate(16,24,21.5)"/><ellipse cx="58.5" cy="19.5" rx="2.5" ry="1.5" transform="rotate(106,58.5,19.5)"/><ellipse cx="9.5" cy="39" rx="2.5" ry="2" transform="rotate(58,9.5,39)"/><ellipse cx="3.5" cy="23" rx="2" ry="1" transform="rotate(100,3.5,23)"/><ellipse cx="73.5" cy="23" rx="2" ry="1" transform="rotate(100,73.5,23)"/><ellipse cx="24.5" cy="38" rx="1.5" ry="1.5" transform="rotate(14,24.5,38)"/><ellipse cx="18.5" cy="24.5" rx="1" ry="1.5" transform="rotate(125,18.5,24.5)"/><ellipse cx="59" cy="35" rx="2.5" ry="1.5" transform="rotate(5,59,35)"/><ellipse cx="54.5" cy="11" rx="1.5" ry="1" transform="rotate(4,54.5,11)"/><ellipse cx="56" cy="22" rx="1.5" ry="1.5" transform="rotate(129,56,22)"/></g><g fill="#7d7d7d"><ellipse cx="20.5" cy="36.5" rx="1.5" ry="1.5" transform="rotate(4,20.5,36.5)"/><ellipse cx="32" cy="15.5" rx="1.5" ry="1.5" transform="rotate(58,32,15.5)"/><ellipse cx="-1" cy="1.5" rx="2.5" ry="1" transform="rotate(83,-1,1.5)"/><ellipse cx="-1" cy="51.5" rx="2.5" ry="1" transform="rotate(83,-1,51.5)"/><ellipse cx="69" cy="1.5" rx="2.5" ry="1" transform="rotate(83,69,1.5)"/><ellipse cx="69" cy="51.5" rx="2.5" ry="1" transform="rotate(83,69,51.5)"/><ellipse cx="4" cy="3" rx="2.5" ry="1" transform="rotate(140,4,3)"/><ellipse cx="4" cy="53" rx="2.5" ry="1" transform="rotate(140,4,53)"/><ellipse cx="74" cy="3" rx="2.5" ry="1" transform="rotate(140,74,3)"/><ellipse cx="74" cy="53" rx="2.5" ry="1" transform="rotate(140,74,53)"/><ellipse cx="52" cy="26.5" rx="2.5" ry="1" transform="rotate(107,52,26.5)"/><ellipse cx="54.5" cy="38.5" rx="2" ry="1.5" transform="rotate(90,54.5,38.5)"/><ellipse cx="0" cy="20.5" rx="1.5" ry="1.5" transform="rotate(95,0,20.5)"/><ellipse cx="70" cy="20.5" rx="1.5" ry="1.5" transform="rotate(95,70,20.5)"/><ellipse cx="25.5" cy="17" rx="2" ry="1" transform="rotate(177,25.5,17)"/><ellipse cx="-5.5" cy="9" rx="2.5" ry="1" transform="rotate(155,-5.5,9)"/><ellipse cx="64.5" cy="9" rx="2.5" ry="1" transform="rotate(155,64.5,9)"/><ellipse cx="33.5" cy="20" rx="2.5" ry="1.5" transform="rotate(107,33.5,20)"/><ellipse cx="18" cy="44" rx="1.5" ry="1.5" transform="rotate(120,18,44)"/><ellipse cx="3" cy="7.5" rx="1.5" ry="1" transform="rotate(107,3,7.5)"/><ellipse cx="73" cy="7.5" rx="1.5" ry="1" transform="rotate(107,73,7.5)"/><ellipse cx="33.5" cy="34.5" rx="2" ry="1" transform="rotate(93,33.5,34.5)"/><ellipse cx="46.5" cy="7.5" rx="1.5" ry="1.5" transform="rotate(37,46.5,7.5)"/><ellipse cx="-3" cy="43.5" rx="2" ry="1" transform="rotate(42,-3,43.5)"/><ellipse cx="67" cy="43.5" rx="2" ry="1" transform="rotate(42,67,43.5)"/><ellipse cx="44" cy="31" rx="2" ry="1" transform="rotate(74,44,31)"/><ellipse cx="16" cy="34" rx="1" ry="1.5" transform="rotate(42,16,34)"/><ellipse cx="8" cy="22.5" rx="2" ry="1" transform="rotate(139,8,22.5)"/><ellipse cx="61" cy="2.5" rx="2" ry="1.5" transform="rotate(46,61,2.5)"/><ellipse cx="61" cy="52.5" rx="2" ry="1.5" transform="rotate(46,61,52.5)"/><ellipse cx="-0.5" cy="6" rx="1" ry="1.5" transform="rotate(59,-0.5,6)"/><ellipse cx="69.5" cy="6" rx="1" ry="1.5" transform="rotate(59,69.5,6)"/><ellipse cx="0.5" cy="17" rx="2.5" ry="2" transform="rotate(25,0.5,17)"/><ellipse cx="70.5" cy="17" rx="2.5" ry="2" transform="rotate(25,70.5,17)"/><ellipse cx="56" cy="41.5" rx="3" ry="1" transform="rotate(138,56,41.5)"/><ellipse cx="7.5" cy="-0.5" rx="2.5" ry="1" transform="rotate(77,7.5,-0.5)"/><ellipse cx="7.5" cy="49.5" rx="2.5" ry="1" transform="rotate(77,7.5,49.5)"/><ellipse cx="61.5" cy="39" rx="1" ry="1.5" transform="rotate(95,61.5,39)"/><ellipse cx="64" cy="3" rx="2" ry="1.5" transform="rotate(111,64,3)"/><ellipse cx="64" cy="53" rx="2" ry="1.5" transform="rotate(111,64,53)"/><ellipse cx="35.5" cy="28.5" rx="2.5" ry="1.5" transform="rotate(21,35.5,28.5)"/><ellipse cx="50" cy="12.5" rx="2" ry="1.5" transform="rotate(145,50,12.5)"/><ellipse cx="13.5" cy="14" rx="1.5" ry="1.5" transform="rotate(116,13.5,14)"/><ellipse cx="37.5" cy="16" rx="3" ry="1.5" transform="rotate(172,37.5,16)"/><ellipse cx="0.5" cy="3.5" rx="2.5" ry="1.5" transform="rotate(37,0.5,3.5)"/><ellipse cx="0.5" cy="53.5" rx="2.5" ry="1.5" transform="rotate(37,0.5,53.5)"/><ellipse cx="70.5" cy="3.5" rx="2.5" ry="1.5" transform="rotate(37,70.5,3.5)"/><ellipse cx="70.5" cy="53.5" rx="2.5" ry="1.5" transform="rotate(37,70.5,53.5)"/><ellipse cx="47" cy="8" rx="1.5" ry="1.5" transform="rotate(13,47,8)"/><ellipse cx="47" cy="30.5" rx="3" ry="2" transform="rotate(175,47,30.5)"/><ellipse cx="30.5" cy="11.5" rx="1.5" ry="1" transform="rotate(97,30.5,11.5)"/><ellipse cx="46" cy="39.5" rx="2" ry="1.5" transform="rotate(168,46,39.5)"/><ellipse cx="-3" cy="35" rx="2.5" ry="1.5" transform="rotate(142,-3,35)"/><ellipse cx="67" cy="35" rx="2.5" ry="1.5" transform="rotate(142,67,35)"/><ellipse cx="35.5" cy="15.5" rx="1.5" ry="1.5" transform="rotate(63,35.5,15.5)"/><ellipse cx="27.5" cy="15" rx="2" ry="1.5" transform="rotate(39,27.5,15)"/><ellipse cx="18" cy="18.5" rx="2" ry="1" transform="rotate(77,18,18.5)"/><ellipse cx="23.5" cy="6" rx="2" ry="1" transform="rotate(56,23.5,6)"/><ellipse cx="23.5" cy="56" rx="2" ry="1" transform="rotate(56,23.5,56)"/><ellipse cx="12" cy="4" rx="1.5" ry="1.5" transform="rotate(123,12,4)"/><ellipse cx="12" cy="54" rx="1.5" ry="1.5" transform="rotate(123,12,54)"/><ellipse cx="47" cy="-3.5" rx="2.5" ry="1" transform="rotate(89,47,-3.5)"/><ellipse cx="47" cy="46.5" rx="2.5" ry="1" transform="rotate(89,47,46.5)"/><ellipse cx="57.5" cy="32.5" rx="2.5" ry="1.5" transform="rotate(68,57.5,32.5)"/><ellipse cx="40" cy="42" rx="2" ry="1.5" transform="rotate(64,40,42)"/><ellipse cx="30.5" cy="31" rx="3" ry="1.5" transform="rotate(101,30.5,31)"/><ellipse cx="0" cy="3.5" rx="3" ry="1.5" transform="rotate(143,0,3.5)"/><ellipse cx="0" cy="53.5" rx="3" ry="1.5" transform="rotate(143,0,53.5)"/><ellipse cx="70" cy="3.5" rx="3" ry="1.5" transform="rotate(143,70,3.5)"/><ellipse cx="70" cy="53.5" rx="3" ry="1.5" transform="rotate(143,70,53.5)"/><ellipse cx="32" cy="30" rx="2" ry="1" transform="rotate(152,32,30)"/><ellipse cx="3" cy="20" rx="2.5" ry="1" transform="rotate(148,3,20)"/><ellipse cx="73" cy="20" rx="2.5" ry="1" transform="rotate(148,73,20)"/><ellipse cx="11.5" cy="-1.5" rx="2.5" ry="1.5" transform="rotate(61,11.5,-1.5)"/><ellipse cx="11.5" cy="48.5" rx="2.5" ry="1.5" transform="rotate(61,11.5,48.5)"/><ellipse cx="24.5" cy="28" rx="2.5" ry="1.5" transform="rotate(90,24.5,28)"/><ellipse cx="19.5" cy="22" rx="2.5" ry="1" transform="rotate(15,19.5,22)"/><ellipse cx="-3" cy="33" rx="2" ry="1.5" transform="rotate(85,-3,33)"/><ellipse cx="67" cy="33" rx="2" ry="1.5" transform="rotate(85,67,33)"/><ellipse cx="45.5" cy="37.5" rx="2" ry="1" transform="rotate(120,45.5,37.5)"/><ellipse cx="55" cy="43.5" rx="2.5" ry="1.5" transform="rotate(102,55,43.5)"/><ellipse cx="16" cy="31" rx="1.5" ry="1" transform="rotate(21,16,31)"/><ellipse cx="-2.5" cy="38.5" rx="1.5" ry="1.5" transform="rotate(60,-2.5,38.5)"/><ellipse cx="67.5" cy="38.5" rx="1.5" ry="1.5" transform="rotate(60,67.5,38.5)"/><ellipse cx="51" cy="16" rx="2" ry="1.5" transform="rotate(138,51,16)"/><ellipse cx="38.5" cy="0" rx="2" ry="1.5" transform="rotate(84,38.5,0)"/><ellipse cx="38.5" cy="50" rx="2" ry="1.5" transform="rotate(84,38.5,50)"/><ellipse cx="28.5" cy="4.5" rx="1.5" ry="1.5" transform="rotate(102,28.5,4.5)"/><ellipse cx="28.5" cy="54.5" rx="1.5" ry="1.5" transform="rotate(102,28.5,54.5)"/><ellipse cx="23.5" cy="1" rx="2.5" ry="1.5" transform="rotate(150,23.5,1)"/><ellipse cx="23.5" cy="51" rx="2.5" ry="1.5" transform="rotate(150,23.5,51)"/><ellipse cx="25.5" cy="22" rx="1.5" ry="1.5" transform="rotate(82,25.5,22)"/><ellipse cx="32" cy="19" rx="3" ry="1.5" transform="rotate(162,32,19)"/><ellipse cx="37.5" cy="-1" rx="2.5" ry="1" transform="rotate(62,37.5,-1)"/><ellipse cx="37.5" cy="49" rx="2.5" ry="1" transform="rotate(62,37.5,49)"/><ellipse cx="53" cy="17" rx="1.5" ry="2" transform="rotate(172,53,17)"/><ellipse cx="54" cy="16" rx="2" ry="1" transform="rotate(154,54,16)"/><ellipse cx="-4" cy="1" rx="2" ry="1.5" transform="rotate(58,-4,1)"/><ellipse cx="-4" cy="51" rx="2" ry="1.5" transform="rotate(58,-4,51)"/><ellipse cx="66" cy="1" rx="2" ry="1.5" transform="rotate(58,66,1)"/><ellipse cx="66" cy="51" rx="2" ry="1.5" transform="rotate(58,66,51)"/><ellipse cx="12.5" cy="13.5" rx="2.5" ry="1" transform="rotate(120,12.5,13.5)"/></g><g fill="#c0c0c0"><ellipse cx="61.5" cy="0" rx="2.5" ry="1" transform="rotate(132,61.5,0)"/><ellipse cx="61.5" cy="50" rx="2.5" ry="1" transform="rotate(132,61.5,50)"/><ellipse cx="58.5" cy="17.5" rx="1.5" ry="1.5" transform="rotate(85,58.5,17.5)"/><ellipse cx="55" cy="26" rx="2.5" ry="1.5" transform="rotate(91,55,26)"/><ellipse cx="43.5" cy="2.5" rx="2.5" ry="1.5" transform="rotate(77,43.5,2.5)"/><ellipse cx="43.5" cy="52.5" rx="2.5" ry="1.5" transform="rotate(77,43.5,52.5)"/><ellipse cx="29.5" cy="4" rx="3" ry="1.5" transform="rotate(6,29.5,4)"/><ellipse cx="29.5" cy="54" rx="3" ry="1.5" transform="rotate(6,29.5,54)"/><ellipse cx="41" cy="-0.5" rx="2" ry="1.5" transform="rotate(133,41,-0.5)"/><ellipse cx="41" cy="49.5" rx="2" ry="1.5" transform="rotate(133,41,49.5)"/><ellipse cx="9.5" cy="26" rx="1.5" ry="1" transform="rotate(64,9.5,26)"/><ellipse cx="39.5" cy="13" rx="1.5" ry="1.5" transform="rotate(120,39.5,13)"/><ellipse cx="61.5" cy="19" rx="1.5" ry="1" transform="rotate(164,61.5,19)"/><ellipse cx="0" cy="27.5" rx="2.5" ry="1" transform="rotate(153,0,27.5)"/><ellipse cx="70" cy="27.5" rx="2.5" ry="1" transform="rotate(153,70,27.5)"/><ellipse cx="59" cy="41.5" rx="2" ry="1.5" transform="rotate(102,59,41.5)"/><ellipse cx="3.5" cy="35.5" rx="1.5" ry="1" transform="rotate(21,3.5,35.5)"/><ellipse cx="73.5" cy="35.5" rx="1.5" ry="1" transform="rotate(21,73.5,35.5)"/><ellipse cx="61.5" cy="21.5" rx="2.5" ry="1" transform="rotate(27,61.5,21.5)"/><ellipse cx="34" cy="20.5" rx="2" ry="1" transform="rotate(145,34,20.5)"/><ellipse cx="-4" cy="27" rx="1.5" ry="1" transform="rotate(121,-4,27)"/><ellipse cx="66" cy="27" rx="1.5" ry="1" transform="rotate(121,66,27)"/><ellipse cx="28" cy="35.5" rx="2.5" ry="1" transform="rotate(45,28,35.5)"/><ellipse cx="44" cy="22.5" rx="1.5" ry="1.5" transform="rotate(56,44,22.5)"/><ellipse cx="6.5" cy="16.5" rx="1.5" ry="1.5" transform="rotate(133,6.5,16.5)"/><ellipse cx="30" cy="0.5" rx="2" ry="1" transform="rotate(90,30,0.5)"/><ellipse cx="30" cy="50.5" rx="2" ry="1" transform="rotate(90,30,50.5)"/><ellipse cx="59" cy="38" rx="1.5" ry="1" transform="rotate(4,59,38)"/><ellipse cx="30.5" cy="23.5" rx="2" ry="1" transform="rotate(151,30.5,23.5)"/><ellipse cx="40" cy="26" rx="2" ry="1.5" transform="rotate(6,40,26)"/><ellipse cx="26.5" cy="41" rx="2.5" ry="2" transform="rotate(126,26.5,41)"/><ellipse cx="47.5" cy="22.5" rx="2" ry="1.5" transform="rotate(168,47.5,22.5)"/><ellipse cx="41.5" cy="43.5" rx="1.5" ry="1" transform="rotate(70,41.5,43.5)"/><ellipse cx="56.5" cy="25" rx="2" ry="1" transform="rotate(26,56.5,25)"/><ellipse cx="56" cy="5.5" rx="2" ry="1" transform="rotate(133,56,5.5)"/><ellipse cx="56" cy="55.5" rx="2" ry="1" transform="rotate(133,56,55.5)"/><ellipse cx="23" cy="24.5" rx="2.5" ry="2" transform="rotate(118,23,24.5)"/><ellipse cx="-1.5" cy="-3.5" rx="2" ry="1" transform="rotate(17,-1.5,-3.5)"/><ellipse cx="-1.5" cy="46.5" rx="2" ry="1" transform="rotate(17,-1.5,46.5)"/><ellipse cx="68.5" cy="-3.5" rx="2" ry="1" transform="rotate(17,68.5,-3.5)"/><ellipse cx="68.5" cy="46.5" rx="2" ry="1" transform="rotate(17,68.5,46.5)"/><ellipse cx="46.5" cy="27.5" rx="1.5" ry="1" transform="rotate(20,46.5,27.5)"/><ellipse cx="23" cy="35" rx="1.5" ry="1.5" transform="rotate(42,23,35)"/><ellipse cx="27" cy="6" rx="2" ry="1.5" transform="rotate(34,27,6)"/><ellipse cx="27" cy="56" rx="2" ry="1.5" transform="rotate(34,27,56)"/><ellipse cx="42.5" cy="27" rx="2" ry="1.5" transform="rotate(132,42.5,27)"/><ellipse cx="54.5" cy="13" rx="2.5" ry="1" transform="rotate(10,54.5,13)"/><ellipse cx="16.5" cy="22.5" rx="2.5" ry="2" transform="rotate(67,16.5,22.5)"/><ellipse cx="19" cy="36.5" rx="1.5" ry="1.5" transform="rotate(159,19,36.5)"/><ellipse cx="-4" cy="33" rx="2.5" ry="1" transform="rotate(13,-4,33)"/><ellipse cx="66" cy="33" rx="2.5" ry="1" transform="rotate(13,66,33)"/><ellipse cx="10" cy="20.5" rx="2.5" ry="2" transform="rotate(26,10,20.5)"/><ellipse cx="38" cy="22" rx="1.5" ry="1.5" transform="rotate(122,38,22)"/><ellipse cx="60" cy="-3.5" rx="2" ry="1.5" transform="rotate(4,60,-3.5)"/><ellipse cx="60" cy="46.5" rx="2" ry="1.5" transform="rotate(4,60,46.5)"/><ellipse cx="55" cy="16.5" rx="2" ry="1" transform="rotate(43,55,16.5)"/><ellipse cx="40" cy="28.5" rx="1.5" ry="1" transform="rotate(4,40,28.5)"/><ellipse cx="8.5" cy="16" rx="1.5" ry="1.5" transform="rotate(105,8.5,16)"/><ellipse cx="-2.5" cy="32" rx="2" ry="1.5" transform="rotate(19,-2.5,32)"/><ellipse cx="67.5" cy="32" rx="2" ry="1.5" transform="rotate(19,67.5,32)"/><ellipse cx="17.5" cy="37" rx="1.5" ry="1.5" transform="rotate(30,17.5,37)"/><ellipse cx="47.5" cy="31" rx="2.5" ry="1.5" transform="rotate(160,47.5,31)"/><ellipse cx="-1" cy="14.5" rx="2.5" ry="1" transform="rotate(31,-1,14.5)"/><ellipse cx="69" cy="14.5" rx="2.5" ry="1" transform="rotate(31,69,14.5)"/><ellipse cx="48" cy="33" rx="2" ry="1.5" transform="rotate(72,48,33)"/><ellipse cx="56" cy="12.5" rx="2" ry="1" transform="rotate(163,56,12.5)"/><ellipse cx="4" cy="3.5" rx="1.5" ry="1" transform="rotate(155,4,3.5)"/><ellipse cx="4" cy="53.5" rx="1.5" ry="1" transform="rotate(155,4,53.5)"/><ellipse cx="74" cy="3.5" rx="1.5" ry="1" transform="rotate(155,74,3.5)"/><ellipse cx="74" cy="53.5" rx="1.5" ry="1" transform="rotate(155,74,53.5)"/><ellipse cx="61" cy="15.5" rx="2.5" ry="1.5" transform="rotate(33,61,15.5)"/><ellipse cx="4.5" cy="5" rx="1.5" ry="1.5" transform="rotate(127,4.5,5)"/><ellipse cx="4.5" cy="55" rx="1.5" ry="1.5" transform="rotate(127,4.5,55)"/><ellipse cx="74.5" cy="5" rx="1.5" ry="1.5" transform="rotate(127,74.5,5)"/><ellipse cx="74.5" cy="55" rx="1.5" ry="1.5" transform="rotate(127,74.5,55)"/><ellipse cx="24" cy="-2" rx="2.5" ry="1.5" transform="rotate(53,24,-2)"/><ellipse cx="24" cy="48" rx="2.5" ry="1.5" transform="rotate(53,24,48)"/><ellipse cx="30" cy="24" rx="2" ry="1.5" transform="rotate(75,30,24)"/><ellipse cx="12.5" cy="-0.5" rx="1.5" ry="2" transform="rotate(111,12.5,-0.5)"/><ellipse cx="12.5" cy="49.5" rx="1.5" ry="2" transform="rotate(111,12.5,49.5)"/><ellipse cx="35" cy="39" rx="2.5" ry="1" transform="rotate(44,35,39)"/><ellipse cx="61" cy="31" rx="2.5" ry="1.5" transform="rotate(16,61,31)"/><ellipse cx="62" cy="3.5" rx="1.5" ry="1.5" transform="rotate(41,62,3.5)"/><ellipse cx="62" cy="53.5" rx="1.5" ry="1.5" transform="rotate(41,62,53.5)"/><ellipse cx="46.5" cy="14.5" rx="2" ry="1" transform="rotate(145,46.5,14.5)"/><ellipse cx="38" cy="20" rx="2.5" ry="1.5" transform="rotate(73,38,20)"/><ellipse cx="50.5" cy="2.5" rx="1.5" ry="1.5" transform="rotate(125,50.5,2.5)"/><ellipse cx="50.5" cy="52.5" rx="1.5" ry="1.5" transform="rotate(125,50.5,52.5)"/><ellipse cx="42" cy="43" rx="1.5" ry="1" transform="rotate(11,42,43)"/><ellipse cx="8" cy="42.5" rx="2" ry="1" transform="rotate(84,8,42.5)"/></g><g fill="#f5f5f5"><ellipse cx="38" cy="25.5" rx="2" ry="1" transform="rotate(56,38,25.5)"/><ellipse cx="37" cy="5.5" rx="2" ry="1.5" transform="rotate(156,37,5.5)"/><ellipse cx="37" cy="55.5" rx="2" ry="1.5" transform="rotate(156,37,55.5)"/><ellipse cx="31.5" cy="-0.5" rx="1.5" ry="1" transform="rotate(161,31.5,-0.5)"/><ellipse cx="31.5" cy="49.5" rx="1.5" ry="1" transform="rotate(161,31.5,49.5)"/><ellipse cx="41" cy="8.5" rx="2" ry="1.5" transform="rotate(84,41,8.5)"/><ellipse cx="-2" cy="12" rx="2" ry="1.5" transform="rotate(50,-2,12)"/><ellipse cx="68" cy="12" rx="2" ry="1.5" transform="rotate(50,68,12)"/><ellipse cx="17.5" cy="35" rx="2" ry="1.5" transform="rotate(69,17.5,35)"/><ellipse cx="0.5" cy="20.5" rx="1" ry="1" transform="rotate(106,0.5,20.5)"/><ellipse cx="70.5" cy="20.5" rx="1" ry="1" transform="rotate(106,70.5,20.5)"/><ellipse cx="39.5" cy="12" rx="2" ry="0.5" transform="rotate(34,39.5,12)"/><ellipse cx="9" cy="19" rx="1.5" ry="1" transform="rotate(41,9,19)"/><ellipse cx="53.5" cy="36" rx="2" ry="1" transform="rotate(9,53.5,36)"/><ellipse cx="3.5" cy="42.5" rx="2" ry="0.5" transform="rotate(108,3.5,42.5)"/><ellipse cx="73.5" cy="42.5" rx="2" ry="0.5" transform="rotate(108,73.5,42.5)"/><ellipse cx="52.5" cy="5" rx="1" ry="1.5" transform="rotate(1,52.5,5)"/><ellipse cx="52.5" cy="55" rx="1" ry="1.5" transform="rotate(1,52.5,55)"/><ellipse cx="-5.5" cy="5.5" rx="1" ry="1" transform="rotate(118,-5.5,5.5)"/><ellipse cx="-5.5" cy="55.5" rx="1" ry="1" transform="rotate(118,-5.5,55.5)"/><ellipse cx="64.5" cy="5.5" rx="1" ry="1" transform="rotate(118,64.5,5.5)"/><ellipse cx="64.5" cy="55.5" rx="1" ry="1" transform="rotate(118,64.5,55.5)"/><ellipse cx="10" cy="20" rx="1" ry="1.5" transform="rotate(102,10,20)"/><ellipse cx="32.5" cy="23.5" rx="1" ry="1" transform="rotate(121,32.5,23.5)"/><ellipse cx="47" cy="36.5" rx="1.5" ry="1" transform="rotate(159,47,36.5)"/><ellipse cx="15" cy="22" rx="1.5" ry="1.5" transform="rotate(153,15,22)"/><ellipse cx="34" cy="20" rx="1.5" ry="1.5" transform="rotate(86,34,20)"/><ellipse cx="27" cy="-4.5" rx="1" ry="1" transform="rotate(131,27,-4.5)"/><ellipse cx="27" cy="45.5" rx="1" ry="1" transform="rotate(131,27,45.5)"/><ellipse cx="11" cy="16.5" rx="2" ry="1" transform="rotate(33,11,16.5)"/><ellipse cx="12.5" cy="24.5" rx="1.5" ry="1.5" transform="rotate(55,12.5,24.5)"/><ellipse cx="36" cy="27.5" rx="1" ry="1" transform="rotate(51,36,27.5)"/><ellipse cx="26.5" cy="6" rx="1.5" ry="1.5" transform="rotate(26,26.5,6)"/><ellipse cx="26.5" cy="56" rx="1.5" ry="1.5" transform="rotate(26,26.5,56)"/><ellipse cx="33.5" cy="10.5" rx="2" ry="1" transform="rotate(103,33.5,10.5)"/><ellipse cx="-2" cy="18" rx="2" ry="1" transform="rotate(166,-2,18)"/><ellipse cx="68" cy="18" rx="2" ry="1" transform="rotate(166,68,18)"/><ellipse cx="24" cy="31.5" rx="1.5" ry="1" transform="rotate(32,24,31.5)"/><ellipse cx="28.5" cy="8" rx="1.5" ry="1.5" transform="rotate(179,28.5,8)"/><ellipse cx="53" cy="32.5" rx="2" ry="1.5" transform="rotate(85,53,32.5)"/><ellipse cx="40" cy="39.5" rx="1" ry="1" transform="rotate(149,40,39.5)"/><ellipse cx="60.5" cy="-2" rx="1" ry="1" transform="rotate(140,60.5,-2)"/><ellipse cx="60.5" cy="48" rx="1" ry="1" transform="rotate(140,60.5,48)"/><ellipse cx="14" cy="23" rx="2" ry="0.5" transform="rotate(46,14,23)"/><ellipse cx="41.5" cy="28.5" rx="1.5" ry="1.5" transform="rotate(97,41.5,28.5)"/><ellipse cx="58.5" cy="19" rx="2" ry="1.5" transform="rotate(29,58.5,19)"/><ellipse cx="11.5" cy="11.5" rx="2" ry="1" transform="rotate(162,11.5,11.5)"/><ellipse cx="27" cy="18" rx="1" ry="1" transform="rotate(6,27,18)"/><ellipse cx="58.5" cy="1.5" rx="1.5" ry="1" transform="rotate(57,58.5,1.5)"/><ellipse cx="58.5" cy="51.5" rx="1.5" ry="1" transform="rotate(57,58.5,51.5)"/><ellipse cx="1" cy="38.5" rx="2" ry="1.5" transform="rotate(42,1,38.5)"/><ellipse cx="71" cy="38.5" rx="2" ry="1.5" transform="rotate(42,71,38.5)"/><ellipse cx="14" cy="19" rx="1" ry="1.5" transform="rotate(85,14,19)"/><ellipse cx="31.5" cy="18" rx="2" ry="1" transform="rotate(85,31.5,18)"/><ellipse cx="47.5" cy="10" rx="2" ry="1" transform="rotate(162,47.5,10)"/><ellipse cx="5" cy="12.5" rx="1.5" ry="1" transform="rotate(132,5,12.5)"/><ellipse cx="75" cy="12.5" rx="1.5" ry="1" transform="rotate(132,75,12.5)"/><ellipse cx="6.5" cy="31" rx="2" ry="1" transform="rotate(1,6.5,31)"/><ellipse cx="37.5" cy="28" rx="1.5" ry="1" transform="rotate(160,37.5,28)"/><ellipse cx="-3.5" cy="-3" rx="1" ry="1" transform="rotate(119,-3.5,-3)"/><ellipse cx="-3.5" cy="47" rx="1" ry="1" transform="rotate(119,-3.5,47)"/><ellipse cx="66.5" cy="-3" rx="1" ry="1" transform="rotate(119,66.5,-3)"/><ellipse cx="66.5" cy="47" rx="1" ry="1" transform="rotate(119,66.5,47)"/><ellipse cx="42" cy="35" rx="1" ry="1" transform="rotate(134,42,35)"/></g><g fill="#ffffff"><ellipse cx="20" cy="15" rx="1.5" ry="0.5" transform="rotate(70,20,15)"/><ellipse cx="-0.5" cy="-4" rx="1" ry="1" transform="rotate(150,-0.5,-4)"/><ellipse cx="-0.5" cy="46" rx="1" ry="1" transform="rotate(150,-0.5,46)"/><ellipse cx="69.5" cy="-4" rx="1" ry="1" transform="rotate(150,69.5,-4)"/><ellipse cx="69.5" cy="46" rx="1" ry="1" transform="rotate(150,69.5,46)"/><ellipse cx="1" cy="11" rx="1" ry="0.5" transform="rotate(118,1,11)"/><ellipse cx="71" cy="11" rx="1" ry="0.5" transform="rotate(118,71,11)"/><ellipse cx="23.5" cy="-2" rx="1" ry="1.5" transform="rotate(101,23.5,-2)"/><ellipse cx="23.5" cy="48" rx="1" ry="1.5" transform="rotate(101,23.5,48)"/><ellipse cx="56" cy="7" rx="1" ry="1" transform="rotate(36,56,7)"/><ellipse cx="45" cy="-1" rx="2" ry="1.5" transform="rotate(145,45,-1)"/><ellipse cx="45" cy="49" rx="2" ry="1.5" transform="rotate(145,45,49)"/><ellipse cx="44.5" cy="31" rx="1" ry="1" transform="rotate(168,44.5,31)"/><ellipse cx="-1.5" cy="33.5" rx="1.5" ry="1.5" transform="rotate(113,-1.5,33.5)"/><ellipse cx="68.5" cy="33.5" rx="1.5" ry="1.5" transform="rotate(113,68.5,33.5)"/><ellipse cx="13.5" cy="17" rx="2" ry="1" transform="rotate(2,13.5,17)"/><ellipse cx="20.5" cy="14.5" rx="1" ry="1.5" transform="rotate(120,20.5,14.5)"/><ellipse cx="52.5" cy="39" rx="2" ry="1" transform="rotate(126,52.5,39)"/><ellipse cx="60.5" cy="17" rx="1.5" ry="1" transform="rotate(45,60.5,17)"/><ellipse cx="30.5" cy="29" rx="2" ry="1" transform="rotate(38,30.5,29)"/><ellipse cx="-2.5" cy="10" rx="1" ry="0.5" transform="rotate(111,-2.5,10)"/><ellipse cx="67.5" cy="10" rx="1" ry="0.5" transform="rotate(111,67.5,10)"/><ellipse cx="24.5" cy="4.5" rx="2" ry="1.5" transform="rotate(126,24.5,4.5)"/><ellipse cx="24.5" cy="54.5" rx="2" ry="1.5" transform="rotate(126,24.5,54.5)"/><ellipse cx="47.5" cy="-1.5" rx="2" ry="1" transform="rotate(52,47.5,-1.5)"/><ellipse cx="47.5" cy="48.5" rx="2" ry="1" transform="rotate(52,47.5,48.5)"/><ellipse cx="29.5" cy="30" rx="1.5" ry="1" transform="rotate(137,29.5,30)"/><ellipse cx="29.5" cy="8" rx="1" ry="0.5" transform="rotate(82,29.5,8)"/><ellipse cx="15.5" cy="3" rx="1" ry="1" transform="rotate(92,15.5,3)"/><ellipse cx="15.5" cy="53" rx="1" ry="1" transform="rotate(92,15.5,53)"/><ellipse cx="55.5" cy="39" rx="1" ry="1.5" transform="rotate(78,55.5,39)"/><ellipse cx="54.5" cy="6" rx="1.5" ry="1" transform="rotate(45,54.5,6)"/><ellipse cx="56" cy="34" rx="1.5" ry="1.5" transform="rotate(152,56,34)"/><ellipse cx="8.5" cy="4" rx="1.5" ry="0.5" transform="rotate(143,8.5,4)"/><ellipse cx="8.5" cy="54" rx="1.5" ry="0.5" transform="rotate(143,8.5,54)"/><ellipse cx="32.5" cy="24.5" rx="1.5" ry="1" transform="rotate(57,32.5,24.5)"/><ellipse cx="39.5" cy="14" rx="1.5" ry="1.5" transform="rotate(140,39.5,14)"/><ellipse cx="0" cy="27.5" rx="2" ry="0.5" transform="rotate(17,0,27.5)"/><ellipse cx="70" cy="27.5" rx="2" ry="0.5" transform="rotate(17,70,27.5)"/><ellipse cx="49" cy="43.5" rx="1.5" ry="1.5" transform="rotate(89,49,43.5)"/><ellipse cx="63.5" cy="4.5" rx="2" ry="1" transform="rotate(51,63.5,4.5)"/><ellipse cx="63.5" cy="54.5" rx="2" ry="1" transform="rotate(51,63.5,54.5)"/><ellipse cx="4" cy="34.5" rx="1.5" ry="1" transform="rotate(111,4,34.5)"/><ellipse cx="74" cy="34.5" rx="1.5" ry="1" transform="rotate(111,74,34.5)"/><ellipse cx="-5.5" cy="30" rx="2" ry="1" transform="rotate(173,-5.5,30)"/><ellipse cx="64.5" cy="30" rx="2" ry="1" transform="rotate(173,64.5,30)"/><ellipse cx="20.5" cy="-4.5" rx="1.5" ry="0.5" transform="rotate(145,20.5,-4.5)"/><ellipse cx="20.5" cy="45.5" rx="1.5" ry="0.5" transform="rotate(145,20.5,45.5)"/><ellipse cx="20.5" cy="1" rx="1.5" ry="1" transform="rotate(121,20.5,1)"/><ellipse cx="20.5" cy="51" rx="1.5" ry="1" transform="rotate(121,20.5,51)"/><ellipse cx="2" cy="24" rx="2" ry="1" transform="rotate(4,2,24)"/><ellipse cx="72" cy="24" rx="2" ry="1" transform="rotate(4,72,24)"/><ellipse cx="-3.5" cy="8" rx="1" ry="1.5" transform="rotate(101,-3.5,8)"/><ellipse cx="66.5" cy="8" rx="1" ry="1.5" transform="rotate(101,66.5,8)"/><ellipse cx="26.5" cy="34.5" rx="2" ry="1" transform="rotate(140,26.5,34.5)"/><ellipse cx="51" cy="3" rx="1.5" ry="0.5" transform="rotate(168,51,3)"/><ellipse cx="51" cy="53" rx="1.5" ry="0.5" transform="rotate(168,51,53)"/><ellipse cx="17.5" cy="8.5" rx="1.5" ry="1" transform="rotate(104,17.5,8.5)"/><ellipse cx="16" cy="12" rx="1.5" ry="1" transform="rotate(83,16,12)"/><ellipse cx="12" cy="37" rx="1" ry="1.5" transform="rotate(21,12,37)"/></g><g fill="#e8e8e8"><ellipse cx="20" cy="9.5" rx="2" ry="1.5" transform="rotate(156,20,9.5)"/><ellipse cx="26" cy="-3" rx="1.5" ry="1" transform="rotate(16,26,-3)"/><ellipse cx="26" cy="47" rx="1.5" ry="1" transform="rotate(16,26,47)"/><ellipse cx="-4.5" cy="32.5" rx="2" ry="1.5" transform="rotate(146,-4.5,32.5)"/><ellipse cx="65.5" cy="32.5" rx="2" ry="1.5" transform="rotate(146,65.5,32.5)"/><ellipse cx="13" cy="40" rx="1" ry="1" transform="rotate(40,13,40)"/><ellipse cx="61.5" cy="33" rx="1.5" ry="1" transform="rotate(70,61.5,33)"/><ellipse cx="2" cy="-1" rx="1.5" ry="1" transform="rotate(67,2,-1)"/><ellipse cx="2" cy="49" rx="1.5" ry="1" transform="rotate(67,2,49)"/><ellipse cx="72" cy="-1" rx="1.5" ry="1" transform="rotate(67,72,-1)"/><ellipse cx="72" cy="49" rx="1.5" ry="1" transform="rotate(67,72,49)"/><ellipse cx="45" cy="30.5" rx="1" ry="1.5" transform="rotate(37,45,30.5)"/><ellipse cx="43" cy="-5" rx="1.5" ry="1" transform="rotate(43,43,-5)"/><ellipse cx="43" cy="45" rx="1.5" ry="1" transform="rotate(43,43,45)"/><ellipse cx="16" cy="9" rx="1.5" ry="0.5" transform="rotate(81,16,9)"/><ellipse cx="12" cy="8.5" rx="1.5" ry="1" transform="rotate(96,12,8.5)"/><ellipse cx="60.5" cy="18" rx="2" ry="1.5" transform="rotate(109,60.5,18)"/><ellipse cx="62.5" cy="14" rx="1.5" ry="1" transform="rotate(42,62.5,14)"/><ellipse cx="31.5" cy="43" rx="1" ry="1" transform="rotate(178,31.5,43)"/><ellipse cx="42.5" cy="27" rx="1.5" ry="1" transform="rotate(47,42.5,27)"/><ellipse cx="0" cy="0" rx="1.5" ry="1" transform="rotate(0,0,0)"/><ellipse cx="0" cy="50" rx="1.5" ry="1" transform="rotate(0,0,50)"/><ellipse cx="70" cy="0" rx="1.5" ry="1" transform="rotate(0,70,0)"/><ellipse cx="70" cy="50" rx="1.5" ry="1" transform="rotate(0,70,50)"/><ellipse cx="44.5" cy="3.5" rx="1" ry="1" transform="rotate(129,44.5,3.5)"/><ellipse cx="44.5" cy="53.5" rx="1" ry="1" transform="rotate(129,44.5,53.5)"/><ellipse cx="22" cy="37" rx="2" ry="1" transform="rotate(83,22,37)"/><ellipse cx="59" cy="27.5" rx="2" ry="1" transform="rotate(35,59,27.5)"/><ellipse cx="4" cy="5" rx="1.5" ry="1.5" transform="rotate(6,4,5)"/><ellipse cx="4" cy="55" rx="1.5" ry="1.5" transform="rotate(6,4,55)"/><ellipse cx="74" cy="5" rx="1.5" ry="1.5" transform="rotate(6,74,5)"/><ellipse cx="74" cy="55" rx="1.5" ry="1.5" transform="rotate(6,74,55)"/><ellipse cx="18" cy="23" rx="2" ry="0.5" transform="rotate(151,18,23)"/><ellipse cx="2" cy="11.5" rx="1" ry="0.5" transform="rotate(5,2,11.5)"/><ellipse cx="72" cy="11.5" rx="1" ry="0.5" transform="rotate(5,72,11.5)"/><ellipse cx="35.5" cy="3" rx="1.5" ry="1.5" transform="rotate(24,35.5,3)"/><ellipse cx="35.5" cy="53" rx="1.5" ry="1.5" transform="rotate(24,35.5,53)"/><ellipse cx="20.5" cy="23" rx="2" ry="1" transform="rotate(91,20.5,23)"/><ellipse cx="49" cy="26.5" rx="2" ry="1" transform="rotate(173,49,26.5)"/><ellipse cx="9.5" cy="7" rx="2" ry="0.5" transform="rotate(160,9.5,7)"/><ellipse cx="23.5" cy="7" rx="1" ry="0.5" transform="rotate(140,23.5,7)"/><ellipse cx="23.5" cy="20" rx="2" ry="1.5" transform="rotate(166,23.5,20)"/><ellipse cx="63" cy="39.5" rx="1.5" ry="1" transform="rotate(7,63,39.5)"/><ellipse cx="41.5" cy="13" rx="2" ry="1.5" transform="rotate(44,41.5,13)"/><ellipse cx="34.5" cy="32" rx="1.5" ry="1" transform="rotate(66,34.5,32)"/><ellipse cx="42.5" cy="6.5" rx="1.5" ry="1" transform="rotate(126,42.5,6.5)"/><ellipse cx="27" cy="28.5" rx="1" ry="1.5" transform="rotate(174,27,28.5)"/><ellipse cx="37.5" cy="39" rx="1" ry="0.5" transform="rotate(88,37.5,39)"/><ellipse cx="33" cy="10" rx="1.5" ry="1" transform="rotate(52,33,10)"/><ellipse cx="36.5" cy="43.5" rx="2" ry="1.5" transform="rotate(145,36.5,43.5)"/><ellipse cx="45.5" cy="33.5" rx="1" ry="1" transform="rotate(137,45.5,33.5)"/><ellipse cx="30.5" cy="23" rx="1.5" ry="1" transform="rotate(84,30.5,23)"/><ellipse cx="-3.5" cy="44" rx="2" ry="1" transform="rotate(175,-3.5,44)"/><ellipse cx="66.5" cy="44" rx="2" ry="1" transform="rotate(175,66.5,44)"/><ellipse cx="14" cy="40" rx="1" ry="1" transform="rotate(22,14,40)"/><ellipse cx="54" cy="15.5" rx="1" ry="1.5" transform="rotate(49,54,15.5)"/><ellipse cx="37.5" cy="8" rx="1.5" ry="1.5" transform="rotate(75,37.5,8)"/><ellipse cx="34.5" cy="17" rx="1.5" ry="1.5" transform="rotate(135,34.5,17)"/><ellipse cx="62.5" cy="36.5" rx="1.5" ry="1" transform="rotate(121,62.5,36.5)"/><ellipse cx="58.5" cy="26" rx="2" ry="1.5" transform="rotate(178,58.5,26)"/><ellipse cx="8" cy="31.5" rx="1.5" ry="1" transform="rotate(148,8,31.5)"/><ellipse cx="9" cy="27.5" rx="1" ry="1" transform="rotate(90,9,27.5)"/><ellipse cx="33" cy="22" rx="2" ry="1.5" transform="rotate(107,33,22)"/><ellipse cx="46" cy="14.5" rx="1" ry="1.5" transform="rotate(118,46,14.5)"/><ellipse cx="63" cy="13" rx="2" ry="1.5" transform="rotate(18,63,13)"/><ellipse cx="40.5" cy="6.5" rx="2" ry="1.5" transform="rotate(63,40.5,6.5)"/><ellipse cx="59.5" cy="41" rx="1" ry="1.5" transform="rotate(102,59.5,41)"/><ellipse cx="58.5" cy="2" rx="2" ry="1" transform="rotate(11,58.5,2)"/><ellipse cx="58.5" cy="52" rx="2" ry="1" transform="rotate(11,58.5,52)"/></g><g fill="#1a1a1a"><ellipse cx="32.5" cy="10.5" rx="2" ry="1" transform="rotate(81,32.5,10.5)"/><ellipse cx="51" cy="30.5" rx="1.5" ry="1" transform="rotate(64,51,30.5)"/><ellipse cx="59.5" cy="27.5" rx="1.5" ry="1" transform="rotate(9,59.5,27.5)"/><ellipse cx="63" cy="31.5" rx="2" ry="1.5" transform="rotate(128,63,31.5)"/><ellipse cx="52" cy="37" rx="1.5" ry="1" transform="rotate(17,52,37)"/><ellipse cx="24" cy="-1" rx="1.5" ry="1" transform="rotate(35,24,-1)"/><ellipse cx="24" cy="49" rx="1.5" ry="1" transform="rotate(35,24,49)"/><ellipse cx="35.5" cy="13.5" rx="1.5" ry="1" transform="rotate(177,35.5,13.5)"/><ellipse cx="62" cy="-4" rx="2" ry="1" transform="rotate(46,62,-4)"/><ellipse cx="62" cy="46" rx="2" ry="1" transform="rotate(46,62,46)"/><ellipse cx="34" cy="25.5" rx="1.5" ry="1.5" transform="rotate(124,34,25.5)"/><ellipse cx="6" cy="20" rx="2.5" ry="1" transform="rotate(37,6,20)"/><ellipse cx="76" cy="20" rx="2.5" ry="1" transform="rotate(37,76,20)"/><ellipse cx="52.5" cy="-1" rx="1" ry="1" transform="rotate(106,52.5,-1)"/><ellipse cx="52.5" cy="49" rx="1" ry="1" transform="rotate(106,52.5,49)"/><ellipse cx="49.5" cy="16.5" rx="2.5" ry="1" transform="rotate(70,49.5,16.5)"/><ellipse cx="4.5" cy="15" rx="2" ry="1" transform="rotate(8,4.5,15)"/><ellipse cx="74.5" cy="15" rx="2" ry="1" transform="rotate(8,74.5,15)"/><ellipse cx="-1.5" cy="12" rx="1.5" ry="1" transform="rotate(11,-1.5,12)"/><ellipse cx="68.5" cy="12" rx="1.5" ry="1" transform="rotate(11,68.5,12)"/><ellipse cx="57" cy="37" rx="1.5" ry="1" transform="rotate(154,57,37)"/><ellipse cx="-3.5" cy="6" rx="2" ry="1.5" transform="rotate(112,-3.5,6)"/><ellipse cx="66.5" cy="6" rx="2" ry="1.5" transform="rotate(112,66.5,6)"/><ellipse cx="9.5" cy="25.5" rx="1" ry="1" transform="rotate(118,9.5,25.5)"/><ellipse cx="42.5" cy="43.5" rx="1" ry="1" transform="rotate(100,42.5,43.5)"/><ellipse cx="1.5" cy="17.5" rx="2" ry="1" transform="rotate(17,1.5,17.5)"/><ellipse cx="71.5" cy="17.5" rx="2" ry="1" transform="rotate(17,71.5,17.5)"/><ellipse cx="62.5" cy="17.5" rx="2" ry="1" transform="rotate(172,62.5,17.5)"/><ellipse cx="21.5" cy="5.5" rx="2" ry="1" transform="rotate(7,21.5,5.5)"/><ellipse cx="21.5" cy="55.5" rx="2" ry="1" transform="rotate(7,21.5,55.5)"/><ellipse cx="13.5" cy="33.5" rx="1.5" ry="1" transform="rotate(161,13.5,33.5)"/><ellipse cx="9.5" cy="40.5" rx="2" ry="1.5" transform="rotate(53,9.5,40.5)"/></g><g fill="#2a2a2a"><ellipse cx="57.5" cy="29.5" rx="2" ry="1.5" transform="rotate(24,57.5,29.5)"/><ellipse cx="-3" cy="40.5" rx="1.5" ry="0.5" transform="rotate(178,-3,40.5)"/><ellipse cx="67" cy="40.5" rx="1.5" ry="0.5" transform="rotate(178,67,40.5)"/><ellipse cx="49" cy="18" rx="2" ry="1.5" transform="rotate(73,49,18)"/><ellipse cx="60.5" cy="37" rx="1" ry="1.5" transform="rotate(10,60.5,37)"/><ellipse cx="18" cy="11" rx="2" ry="1" transform="rotate(54,18,11)"/><ellipse cx="47.5" cy="6" rx="2" ry="1" transform="rotate(130,47.5,6)"/><ellipse cx="47.5" cy="56" rx="2" ry="1" transform="rotate(130,47.5,56)"/><ellipse cx="2" cy="30.5" rx="1" ry="1.5" transform="rotate(157,2,30.5)"/><ellipse cx="72" cy="30.5" rx="1" ry="1.5" transform="rotate(157,72,30.5)"/><ellipse cx="-6" cy="-4" rx="1" ry="1" transform="rotate(97,-6,-4)"/><ellipse cx="-6" cy="46" rx="1" ry="1" transform="rotate(97,-6,46)"/><ellipse cx="64" cy="-4" rx="1" ry="1" transform="rotate(97,64,-4)"/><ellipse cx="64" cy="46" rx="1" ry="1" transform="rotate(97,64,46)"/><ellipse cx="60.5" cy="2.5" rx="1.5" ry="1.5" transform="rotate(171,60.5,2.5)"/><ellipse cx="60.5" cy="52.5" rx="1.5" ry="1.5" transform="rotate(171,60.5,52.5)"/><ellipse cx="37.5" cy="35.5" rx="2" ry="1" transform="rotate(171,37.5,35.5)"/><ellipse cx="8" cy="32" rx="1" ry="1" transform="rotate(25,8,32)"/><ellipse cx="41" cy="22.5" rx="1.5" ry="1.5" transform="rotate(72,41,22.5)"/><ellipse cx="47.5" cy="40.5" rx="2.5" ry="1.5" transform="rotate(88,47.5,40.5)"/><ellipse cx="22" cy="10" rx="1.5" ry="1" transform="rotate(80,22,10)"/><ellipse cx="21" cy="27.5" rx="2" ry="1" transform="rotate(178,21,27.5)"/><ellipse cx="18" cy="2.5" rx="1.5" ry="1.5" transform="rotate(101,18,2.5)"/><ellipse cx="18" cy="52.5" rx="1.5" ry="1.5" transform="rotate(101,18,52.5)"/><ellipse cx="51" cy="28" rx="1" ry="1.5" transform="rotate(47,51,28)"/><ellipse cx="58" cy="41.5" rx="2" ry="1.5" transform="rotate(176,58,41.5)"/><ellipse cx="33" cy="-2" rx="2" ry="1.5" transform="rotate(110,33,-2)"/><ellipse cx="33" cy="48" rx="2" ry="1.5" transform="rotate(110,33,48)"/><ellipse cx="51.5" cy="29.5" rx="2" ry="1" transform="rotate(175,51.5,29.5)"/><ellipse cx="20" cy="18.5" rx="2" ry="1.5" transform="rotate(78,20,18.5)"/><ellipse cx="25" cy="7.5" rx="1.5" ry="1" transform="rotate(91,25,7.5)"/></g><g fill="#3a3a3a"><ellipse cx="-0.5" cy="22.5" rx="2" ry="1.5" transform="rotate(122,-0.5,22.5)"/><ellipse cx="69.5" cy="22.5" rx="2" ry="1.5" transform="rotate(122,69.5,22.5)"/><ellipse cx="-0.5" cy="19.5" rx="2" ry="1" transform="rotate(49,-0.5,19.5)"/><ellipse cx="69.5" cy="19.5" rx="2" ry="1" transform="rotate(49,69.5,19.5)"/><ellipse cx="36.5" cy="21" rx="1.5" ry="1.5" transform="rotate(124,36.5,21)"/><ellipse cx="58" cy="5.5" rx="1.5" ry="1" transform="rotate(79,58,5.5)"/><ellipse cx="58" cy="55.5" rx="1.5" ry="1" transform="rotate(79,58,55.5)"/><ellipse cx="29" cy="26.5" rx="1.5" ry="1.5" transform="rotate(50,29,26.5)"/><ellipse cx="15.5" cy="7.5" rx="1.5" ry="1" transform="rotate(5,15.5,7.5)"/><ellipse cx="7" cy="26.5" rx="1.5" ry="1.5" transform="rotate(10,7,26.5)"/><ellipse cx="8.5" cy="42.5" rx="2.5" ry="1" transform="rotate(40,8.5,42.5)"/><ellipse cx="20.5" cy="21.5" rx="2.5" ry="1.5" transform="rotate(156,20.5,21.5)"/><ellipse cx="11" cy="1" rx="1.5" ry="1.5" transform="rotate(104,11,1)"/><ellipse cx="11" cy="51" rx="1.5" ry="1.5" transform="rotate(104,11,51)"/><ellipse cx="33" cy="7" rx="1.5" ry="1" transform="rotate(91,33,7)"/></g><g fill="#4a4a4a"><ellipse cx="4" cy="-0.5" rx="1.5" ry="1.5" transform="rotate(137,4,-0.5)"/><ellipse cx="4" cy="49.5" rx="1.5" ry="1.5" transform="rotate(137,4,49.5)"/><ellipse cx="74" cy="-0.5" rx="1.5" ry="1.5" transform="rotate(137,74,-0.5)"/><ellipse cx="74" cy="49.5" rx="1.5" ry="1.5" transform="rotate(137,74,49.5)"/><ellipse cx="11" cy="-0.5" rx="2" ry="1" transform="rotate(165,11,-0.5)"/><ellipse cx="11" cy="49.5" rx="2" ry="1" transform="rotate(165,11,49.5)"/><ellipse cx="60.5" cy="30.5" rx="1" ry="1.5" transform="rotate(65,60.5,30.5)"/><ellipse cx="-1" cy="29.5" rx="2" ry="1.5" transform="rotate(153,-1,29.5)"/><ellipse cx="69" cy="29.5" rx="2" ry="1.5" transform="rotate(153,69,29.5)"/><ellipse cx="58" cy="6.5" rx="2" ry="1.5" transform="rotate(152,58,6.5)"/><ellipse cx="34.5" cy="22.5" rx="2" ry="0.5" transform="rotate(48,34.5,22.5)"/><ellipse cx="38.5" cy="-6" rx="1" ry="1" transform="rotate(55,38.5,-6)"/><ellipse cx="38.5" cy="44" rx="1" ry="1" transform="rotate(55,38.5,44)"/><ellipse cx="22.5" cy="42.5" rx="1.5" ry="1" transform="rotate(145,22.5,42.5)"/><ellipse cx="31" cy="6" rx="2" ry="1" transform="rotate(104,31,6)"/><ellipse cx="29" cy="2.5" rx="2.5" ry="1.5" transform="rotate(22,29,2.5)"/><ellipse cx="29" cy="52.5" rx="2.5" ry="1.5" transform="rotate(22,29,52.5)"/><ellipse cx="17" cy="23.5" rx="2" ry="1.5" transform="rotate(62,17,23.5)"/><ellipse cx="39" cy="27" rx="2.5" ry="1.5" transform="rotate(66,39,27)"/><ellipse cx="33" cy="10.5" rx="1" ry="1.5" transform="rotate(74,33,10.5)"/><ellipse cx="41" cy="16" rx="2" ry="1" transform="rotate(68,41,16)"/><ellipse cx="60.5" cy="36" rx="1" ry="1" transform="rotate(41,60.5,36)"/><ellipse cx="47.5" cy="28" rx="1.5" ry="1" transform="rotate(99,47.5,28)"/><ellipse cx="22" cy="5.5" rx="1" ry="1" transform="rotate(169,22,5.5)"/><ellipse cx="22" cy="55.5" rx="1" ry="1" transform="rotate(169,22,55.5)"/><ellipse cx="0.5" cy="33" rx="2" ry="1" transform="rotate(32,0.5,33)"/><ellipse cx="70.5" cy="33" rx="2" ry="1" transform="rotate(32,70.5,33)"/></g></pattern><pattern id="con2" patternUnits="userSpaceOnUse" width="80" height="60"><rect width="80" height="60" fill="#b8b8b8"/><path fill="#eee" d="M74 57h1v1h-1zM36 1h1v1h-1zM79 30h1v1h-1zM62 12h1v1h-1zM16 7h1v1h-1zM22 35h1v1h-1zM21 6h1v1h-1zM76 13h1v1h-1zM8 10h1v1h-1zM20 57h1v1h-1zM27 41h1v1h-1zM24 54h1v1h-1zM1 2h1v1h-1zM38 24h1v1h-1zM64 3h1v1h-1zM58 9h1v1h-1zM43 7h1v1h-1zM64 7h1v1h-1zM24 58h1v1h-1zM6 5h1v1h-1zM61 25h1v1h-1zM51 8h1v1h-1zM45 59h1v1h-1zM23 43h1v1h-1zM67 12h1v1h-1zM9 26h1v1h-1zM30 2h1v1h-1zM62 20h1v1h-1zM64 55h1v1h-1zM70 57h1v1h-1zM58 44h1v1h-1zM9 4h1v1h-1zM69 21h1v1h-1zM43 38h1v1h-1zM53 11h1v1h-1zM24 12h1v1h-1zM72 4h1v1h-1zM0 4h1v1h-1zM57 48h1v1h-1zM40 37h1v1h-1zM34 39h1v1h-1zM72 13h1v1h-1zM34 7h1v1h-1zM21 23h1v1h-1zM62 23h1v1h-1zM6 4h1v1h-1zM18 36h1v1h-1zM37 30h1v1h-1zM55 21h1v1h-1zM76 42h1v1h-1zM64 13h1v1h-1zM54 26h1v1h-1zM40 16h1v1h-1zM66 51h1v1h-1zM31 54h1v1h-1zM72 47h1v1h-1zM4 14h1v1h-1zM25 54h1v1h-1zM2 17h1v1h-1zM48 47h1v1h-1zM11 53h1v1h-1zM25 34h1v1h-1zM78 16h1v1h-1zM29 22h1v1h-1zM3 49h1v1h-1zM13 28h1v1h-1zM43 10h1v1h-1zM72 7h1v1h-1zM79 35h1v1h-1zM47 41h1v1h-1zM56 44h1v1h-1zM9 42h1v1h-1zM39 28h1v1h-1zM41 18h1v1h-1zM2 0h1v1h-1zM69 42h1v1h-1zM79 30h1v1h-1zM16 15h1v1h-1zM6 31h1v1h-1zM64 52h1v1h-1zM5 9h1v1h-1zM77 48h1v1h-1zM39 2h1v1h-1zM34 6h1v1h-1zM78 51h1v1h-1zM69 48h1v1h-1zM26 45h1v1h-1zM49 15h1v1h-1zM15 32h1v1h-1zM48 11h1v1h-1zM57 25h1v1h-1zM5 8h1v1h-1z"/><path fill="#999" d="M42 8h1v1h-1zM51 11h1v1h-1zM72 27h1v1h-1zM57 50h1v1h-1zM47 57h1v1h-1zM33 1h1v1h-1zM0 23h1v1h-1zM17 16h1v1h-1zM22 22h1v1h-1zM50 47h1v1h-1zM73 39h1v1h-1zM2 21h1v1h-1zM79 45h1v1h-1zM53 32h1v1h-1zM3 18h1v1h-1zM51 49h1v1h-1zM12 41h1v1h-1zM66 11h1v1h-1zM39 44h1v1h-1zM60 12h1v1h-1zM48 54h1v1h-1zM8 35h1v1h-1zM61 6h1v1h-1zM47 59h1v1h-1zM21 57h1v1h-1zM73 60h1v1h-1zM3 39h1v1h-1zM62 33h1v1h-1zM22 48h1v1h-1zM20 31h1v1h-1zM63 7h1v1h-1zM14 50h1v1h-1zM77 25h1v1h-1zM61 53h1v1h-1zM22 46h1v1h-1zM7 15h1v1h-1zM25 47h1v1h-1zM72 10h1v1h-1zM42 52h1v1h-1zM3 48h1v1h-1zM76 12h1v1h-1zM69 47h1v1h-1zM77 58h1v1h-1zM15 32h1v1h-1zM46 55h1v1h-1zM57 55h1v1h-1zM43 16h1v1h-1zM48 24h1v1h-1zM15 52h1v1h-1zM80 45h1v1h-1zM6 34h1v1h-1zM22 7h1v1h-1zM6 25h1v1h-1zM30 35h1v1h-1zM41 12h1v1h-1zM30 36h1v1h-1zM37 17h1v1h-1zM4 56h1v1h-1zM20 48h1v1h-1zM33 52h1v1h-1zM7 26h1v1h-1zM63 29h1v1h-1zM69 33h1v1h-1zM4 58h1v1h-1zM22 46h1v1h-1zM2 13h1v1h-1zM36 35h1v1h-1zM53 14h1v1h-1zM6 51h1v1h-1zM37 46h1v1h-1zM12 47h1v1h-1zM46 2h1v1h-1zM31 49h1v1h-1zM20 2h1v1h-1zM47 22h1v1h-1zM53 0h1v1h-1zM10 12h1v1h-1zM59 26h1v1h-1zM12 42h1v1h-1zM27 39h1v1h-1zM20 44h1v1h-1zM11 37h1v1h-1zM18 35h1v1h-1zM9 38h1v1h-1zM32 4h1v1h-1z"/><path fill="#fff" d="M41 44h1v1h-1zM30 17h1v1h-1zM39 2h1v1h-1zM43 49h1v1h-1zM49 3h1v1h-1zM9 38h1v1h-1zM64 59h1v1h-1zM48 17h1v1h-1zM33 48h1v1h-1zM38 33h1v1h-1zM55 56h1v1h-1zM48 35h1v1h-1zM60 56h1v1h-1zM10 23h1v1h-1zM74 22h1v1h-1zM54 59h1v1h-1zM52 51h1v1h-1zM53 7h1v1h-1zM68 5h1v1h-1zM16 30h1v1h-1zM36 3h1v1h-1zM3 56h1v1h-1zM53 39h1v1h-1zM6 29h1v1h-1zM53 51h1v1h-1zM15 52h1v1h-1zM72 22h1v1h-1zM10 1h1v1h-1zM71 0h1v1h-1zM10 44h1v1h-1zM44 10h1v1h-1zM29 12h1v1h-1zM67 42h1v1h-1zM60 56h1v1h-1zM36 6h1v1h-1zM27 45h1v1h-1zM77 41h1v1h-1zM70 12h1v1h-1zM3 45h1v1h-1zM16 32h1v1h-1zM25 16h1v1h-1zM12 25h1v1h-1zM60 8h1v1h-1zM56 1h1v1h-1zM51 35h1v1h-1zM61 43h1v1h-1zM26 60h1v1h-1zM66 50h1v1h-1zM19 27h1v1h-1zM8 49h1v1h-1zM72 38h1v1h-1zM63 9h1v1h-1zM38 0h1v1h-1zM78 40h1v1h-1zM62 20h1v1h-1zM26 51h1v1h-1zM49 2h1v1h-1zM42 20h1v1h-1zM71 52h1v1h-1zM47 23h1v1h-1zM22 17h1v1h-1zM13 36h1v1h-1zM59 32h1v1h-1zM12 44h1v1h-1zM41 33h1v1h-1zM29 10h1v1h-1zM2 15h1v1h-1zM72 23h1v1h-1zM50 45h1v1h-1zM61 9h1v1h-1zM69 5h1v1h-1zM40 24h1v1h-1zM38 58h1v1h-1zM68 48h1v1h-1zM62 20h1v1h-1zM41 29h1v1h-1zM52 32h1v1h-1zM35 25h1v1h-1zM21 24h1v1h-1zM80 36h1v1h-1zM55 24h1v1h-1zM44 42h1v1h-1zM79 31h1v1h-1zM9 3h1v1h-1zM40 51h1v1h-1zM74 14h1v1h-1zM21 59h1v1h-1zM21 46h1v1h-1z"/><path fill="#888" d="M1 18h1v1h-1zM76 32h1v1h-1zM60 21h1v1h-1zM37 12h1v1h-1zM36 21h1v1h-1zM60 33h1v1h-1zM77 44h1v1h-1zM19 34h1v1h-1zM18 4h1v1h-1zM30 1h1v1h-1zM77 20h1v1h-1zM43 41h1v1h-1zM40 7h1v1h-1zM79 17h1v1h-1zM69 12h1v1h-1zM43 52h1v1h-1zM66 2h1v1h-1zM43 13h1v1h-1zM32 22h1v1h-1zM62 59h1v1h-1zM67 23h1v1h-1zM20 44h1v1h-1zM60 49h1v1h-1zM21 17h1v1h-1zM54 7h1v1h-1zM12 38h1v1h-1zM32 40h1v1h-1zM59 36h1v1h-1zM57 3h1v1h-1zM18 59h1v1h-1zM26 46h1v1h-1zM46 45h1v1h-1zM58 51h1v1h-1zM73 51h1v1h-1zM68 59h1v1h-1zM75 58h1v1h-1zM68 42h1v1h-1zM68 49h1v1h-1zM4 52h1v1h-1zM50 23h1v1h-1zM36 40h1v1h-1zM69 36h1v1h-1zM51 57h1v1h-1zM14 43h1v1h-1zM57 37h1v1h-1zM80 44h1v1h-1zM28 13h1v1h-1zM73 23h1v1h-1zM9 34h1v1h-1zM65 25h1v1h-1zM4 22h1v1h-1zM1 60h1v1h-1zM24 3h1v1h-1zM32 42h1v1h-1zM70 8h1v1h-1zM69 8h1v1h-1zM71 52h1v1h-1zM40 35h1v1h-1zM49 16h1v1h-1zM62 21h1v1h-1zM43 39h1v1h-1zM13 23h1v1h-1zM50 29h1v1h-1zM60 5h1v1h-1zM21 26h1v1h-1zM58 57h1v1h-1zM66 43h1v1h-1zM72 46h1v1h-1zM1 45h1v1h-1zM40 10h1v1h-1zM22 13h1v1h-1zM40 42h1v1h-1zM20 20h1v1h-1zM1 28h1v1h-1zM27 42h1v1h-1zM28 35h1v1h-1zM39 31h1v1h-1zM37 17h1v1h-1zM69 52h1v1h-1zM16 12h1v1h-1zM5 11h1v1h-1zM61 49h1v1h-1zM62 29h1v1h-1zM61 1h1v1h-1zM77 22h1v1h-1zM31 57h1v1h-1zM29 25h1v1h-1zM41 6h1v1h-1z"/><path fill="#aaa" d="M21 1h1v1h-1zM47 39h1v1h-1zM17 44h1v1h-1zM61 22h1v1h-1zM23 58h1v1h-1zM43 40h1v1h-1zM34 34h1v1h-1zM33 46h1v1h-1zM22 36h1v1h-1zM58 11h1v1h-1zM29 59h1v1h-1zM15 1h1v1h-1zM38 43h1v1h-1zM34 49h1v1h-1zM77 32h1v1h-1zM60 36h1v1h-1zM73 56h1v1h-1zM18 40h1v1h-1zM78 7h1v1h-1zM3 16h1v1h-1zM21 56h1v1h-1zM65 46h1v1h-1zM28 35h1v1h-1zM11 8h1v1h-1zM42 32h1v1h-1zM67 16h1v1h-1zM37 10h1v1h-1zM63 20h1v1h-1zM59 9h1v1h-1zM51 1h1v1h-1zM12 18h1v1h-1zM22 33h1v1h-1zM51 37h1v1h-1zM71 47h1v1h-1zM14 1h1v1h-1zM72 50h1v1h-1zM78 41h1v1h-1zM27 33h1v1h-1zM68 46h1v1h-1zM60 17h1v1h-1zM9 59h1v1h-1zM73 3h1v1h-1zM42 30h1v1h-1zM46 15h1v1h-1zM46 2h1v1h-1zM44 40h1v1h-1zM37 55h1v1h-1zM15 48h1v1h-1zM65 27h1v1h-1zM45 27h1v1h-1zM19 5h1v1h-1zM20 20h1v1h-1zM48 11h1v1h-1zM31 28h1v1h-1zM65 0h1v1h-1zM67 31h1v1h-1zM58 13h1v1h-1zM28 28h1v1h-1zM52 31h1v1h-1zM64 41h1v1h-1zM52 40h1v1h-1zM55 45h1v1h-1zM33 50h1v1h-1zM40 19h1v1h-1zM19 40h1v1h-1zM48 43h1v1h-1zM61 2h1v1h-1zM58 9h1v1h-1zM68 54h1v1h-1zM68 1h1v1h-1zM54 58h1v1h-1zM18 31h1v1h-1zM12 23h1v1h-1zM32 10h1v1h-1zM69 43h1v1h-1zM70 49h1v1h-1zM46 41h1v1h-1zM27 13h1v1h-1zM12 50h1v1h-1zM79 33h1v1h-1zM23 27h1v1h-1zM40 19h1v1h-1zM62 6h1v1h-1zM67 35h1v1h-1zM58 30h1v1h-1zM74 57h1v1h-1zM33 27h1v1h-1zM76 29h1v1h-1zM31 51h1v1h-1zM6 30h1v1h-1zM38 1h1v1h-1zM72 33h1v1h-1zM59 56h1v1h-1zM2 15h1v1h-1zM70 22h1v1h-1zM77 9h1v1h-1z"/><path fill="#ddd" d="M7 28h1v1h-1zM39 47h1v1h-1zM26 9h1v1h-1zM36 2h1v1h-1zM55 58h1v1h-1zM45 39h1v1h-1zM65 54h1v1h-1zM65 4h1v1h-1zM60 24h1v1h-1zM2 39h1v1h-1zM34 5h1v1h-1zM3 53h1v1h-1zM20 59h1v1h-1zM59 24h1v1h-1zM3 7h1v1h-1zM37 40h1v1h-1zM28 13h1v1h-1zM34 2h1v1h-1zM74 59h1v1h-1zM31 58h1v1h-1zM34 41h1v1h-1zM58 57h1v1h-1zM46 60h1v1h-1zM1 55h1v1h-1zM53 41h1v1h-1zM28 12h1v1h-1zM55 6h1v1h-1zM76 38h1v1h-1zM51 31h1v1h-1zM7 38h1v1h-1zM79 9h1v1h-1zM34 45h1v1h-1zM30 19h1v1h-1zM17 0h1v1h-1zM0 22h1v1h-1zM46 31h1v1h-1zM26 29h1v1h-1zM51 40h1v1h-1zM43 23h1v1h-1zM65 22h1v1h-1zM20 28h1v1h-1zM55 6h1v1h-1zM25 40h1v1h-1zM28 23h1v1h-1zM31 8h1v1h-1zM50 5h1v1h-1zM59 52h1v1h-1zM10 13h1v1h-1zM25 1h1v1h-1zM27 35h1v1h-1zM28 59h1v1h-1zM34 54h1v1h-1zM15 17h1v1h-1zM60 27h1v1h-1zM48 33h1v1h-1zM78 26h1v1h-1zM42 39h1v1h-1zM75 29h1v1h-1zM5 8h1v1h-1zM68 20h1v1h-1zM69 22h1v1h-1zM29 7h1v1h-1zM51 1h1v1h-1zM14 11h1v1h-1zM24 5h1v1h-1zM65 6h1v1h-1zM1 12h1v1h-1zM1 45h1v1h-1zM64 50h1v1h-1zM37 33h1v1h-1zM19 58h1v1h-1zM49 28h1v1h-1zM66 58h1v1h-1zM24 12h1v1h-1zM61 35h1v1h-1zM36 37h1v1h-1zM32 55h1v1h-1zM47 39h1v1h-1zM28 46h1v1h-1zM15 53h1v1h-1zM0 57h1v1h-1zM0 9h1v1h-1zM79 56h1v1h-1zM71 28h1v1h-1z"/><g fill="#8f8f8f"><ellipse cx="71.5" cy="40.5" rx="3" ry="2" transform="rotate(43,71.5,40.5)"/><ellipse cx="24.5" cy="20.5" rx="2" ry="1" transform="rotate(174,24.5,20.5)"/><ellipse cx="44" cy="0.5" rx="3" ry="2" transform="rotate(79,44,0.5)"/><ellipse cx="44" cy="60.5" rx="3" ry="2" transform="rotate(79,44,60.5)"/><ellipse cx="12.5" cy="16.5" rx="2.5" ry="1.5" transform="rotate(107,12.5,16.5)"/><ellipse cx="43.5" cy="-1" rx="2" ry="1.5" transform="rotate(132,43.5,-1)"/><ellipse cx="43.5" cy="59" rx="2" ry="1.5" transform="rotate(132,43.5,59)"/><ellipse cx="22.5" cy="34.5" rx="3" ry="1.5" transform="rotate(129,22.5,34.5)"/><ellipse cx="-3.5" cy="25.5" rx="2.5" ry="2" transform="rotate(10,-3.5,25.5)"/><ellipse cx="76.5" cy="25.5" rx="2.5" ry="2" transform="rotate(10,76.5,25.5)"/><ellipse cx="3" cy="12" rx="2.5" ry="1.5" transform="rotate(50,3,12)"/><ellipse cx="83" cy="12" rx="2.5" ry="1.5" transform="rotate(50,83,12)"/><ellipse cx="10.5" cy="24.5" rx="2.5" ry="1.5" transform="rotate(133,10.5,24.5)"/><ellipse cx="13.5" cy="20" rx="2.5" ry="1" transform="rotate(154,13.5,20)"/><ellipse cx="29.5" cy="13.5" rx="2" ry="1.5" transform="rotate(56,29.5,13.5)"/><ellipse cx="5.5" cy="23.5" rx="2.5" ry="1.5" transform="rotate(82,5.5,23.5)"/><ellipse cx="85.5" cy="23.5" rx="2.5" ry="1.5" transform="rotate(82,85.5,23.5)"/><ellipse cx="25.5" cy="31" rx="3.5" ry="1.5" transform="rotate(124,25.5,31)"/><ellipse cx="14" cy="19.5" rx="2.5" ry="2.5" transform="rotate(140,14,19.5)"/><ellipse cx="26.5" cy="31.5" rx="3" ry="1.5" transform="rotate(113,26.5,31.5)"/><ellipse cx="32.5" cy="53" rx="2.5" ry="2" transform="rotate(73,32.5,53)"/><ellipse cx="72.5" cy="54" rx="2.5" ry="1" transform="rotate(47,72.5,54)"/><ellipse cx="67.5" cy="7" rx="2" ry="2" transform="rotate(39,67.5,7)"/><ellipse cx="7.5" cy="51.5" rx="2" ry="2" transform="rotate(143,7.5,51.5)"/><ellipse cx="-2.5" cy="31.5" rx="2" ry="2" transform="rotate(65,-2.5,31.5)"/><ellipse cx="77.5" cy="31.5" rx="2" ry="2" transform="rotate(65,77.5,31.5)"/><ellipse cx="55" cy="37" rx="2.5" ry="2" transform="rotate(16,55,37)"/><ellipse cx="33.5" cy="5" rx="3" ry="1.5" transform="rotate(150,33.5,5)"/><ellipse cx="33.5" cy="65" rx="3" ry="1.5" transform="rotate(150,33.5,65)"/><ellipse cx="48" cy="9" rx="3" ry="1" transform="rotate(110,48,9)"/><ellipse cx="70.5" cy="24" rx="2.5" ry="1" transform="rotate(71,70.5,24)"/><ellipse cx="8.5" cy="45" rx="1.5" ry="2" transform="rotate(147,8.5,45)"/><ellipse cx="59" cy="53.5" rx="2.5" ry="2" transform="rotate(32,59,53.5)"/><ellipse cx="21" cy="12.5" rx="1.5" ry="2" transform="rotate(177,21,12.5)"/><ellipse cx="56" cy="52.5" rx="1.5" ry="1.5" transform="rotate(88,56,52.5)"/><ellipse cx="35" cy="13" rx="3" ry="2" transform="rotate(179,35,13)"/><ellipse cx="23.5" cy="42" rx="3" ry="2" transform="rotate(33,23.5,42)"/><ellipse cx="51.5" cy="32.5" rx="3" ry="1.5" transform="rotate(37,51.5,32.5)"/><ellipse cx="36.5" cy="45.5" rx="2.5" ry="1.5" transform="rotate(79,36.5,45.5)"/><ellipse cx="23.5" cy="-5.5" rx="3.5" ry="1.5" transform="rotate(118,23.5,-5.5)"/><ellipse cx="23.5" cy="54.5" rx="3.5" ry="1.5" transform="rotate(118,23.5,54.5)"/><ellipse cx="39.5" cy="40" rx="2.5" ry="2" transform="rotate(35,39.5,40)"/><ellipse cx="63.5" cy="53.5" rx="2" ry="1.5" transform="rotate(32,63.5,53.5)"/><ellipse cx="19" cy="14" rx="2" ry="1.5" transform="rotate(106,19,14)"/><ellipse cx="11" cy="6.5" rx="3" ry="1" transform="rotate(9,11,6.5)"/><ellipse cx="6" cy="6" rx="2" ry="1.5" transform="rotate(174,6,6)"/><ellipse cx="86" cy="6" rx="2" ry="1.5" transform="rotate(174,86,6)"/><ellipse cx="35" cy="35" rx="2" ry="1" transform="rotate(62,35,35)"/><ellipse cx="23.5" cy="17.5" rx="2" ry="1.5" transform="rotate(178,23.5,17.5)"/><ellipse cx="73.5" cy="47.5" rx="2" ry="1" transform="rotate(75,73.5,47.5)"/><ellipse cx="67" cy="4" rx="2.5" ry="2" transform="rotate(64,67,4)"/><ellipse cx="67" cy="64" rx="2.5" ry="2" transform="rotate(64,67,64)"/><ellipse cx="30" cy="43" rx="1.5" ry="2.5" transform="rotate(175,30,43)"/><ellipse cx="-3" cy="38.5" rx="1.5" ry="1.5" transform="rotate(51,-3,38.5)"/><ellipse cx="77" cy="38.5" rx="1.5" ry="1.5" transform="rotate(51,77,38.5)"/><ellipse cx="65" cy="-4.5" rx="3.5" ry="2" transform="rotate(168,65,-4.5)"/><ellipse cx="65" cy="55.5" rx="3.5" ry="2" transform="rotate(168,65,55.5)"/><ellipse cx="1" cy="51" rx="2" ry="1.5" transform="rotate(179,1,51)"/><ellipse cx="81" cy="51" rx="2" ry="1.5" transform="rotate(179,81,51)"/><ellipse cx="38" cy="12" rx="3" ry="1.5" transform="rotate(40,38,12)"/><ellipse cx="50.5" cy="23" rx="2" ry="2" transform="rotate(30,50.5,23)"/><ellipse cx="20" cy="15.5" rx="2.5" ry="1.5" transform="rotate(74,20,15.5)"/><ellipse cx="42.5" cy="30" rx="3.5" ry="1.5" transform="rotate(35,42.5,30)"/><ellipse cx="66" cy="53.5" rx="3" ry="2" transform="rotate(120,66,53.5)"/><ellipse cx="14" cy="45" rx="3.5" ry="1.5" transform="rotate(95,14,45)"/><ellipse cx="4.5" cy="52.5" rx="3" ry="1" transform="rotate(57,4.5,52.5)"/><ellipse cx="84.5" cy="52.5" rx="3" ry="1" transform="rotate(57,84.5,52.5)"/><ellipse cx="59" cy="39" rx="2.5" ry="1.5" transform="rotate(165,59,39)"/><ellipse cx="29" cy="6" rx="3" ry="1.5" transform="rotate(69,29,6)"/><ellipse cx="3.5" cy="10" rx="2" ry="1" transform="rotate(66,3.5,10)"/><ellipse cx="83.5" cy="10" rx="2" ry="1" transform="rotate(66,83.5,10)"/><ellipse cx="72.5" cy="40" rx="2" ry="1" transform="rotate(11,72.5,40)"/><ellipse cx="4" cy="30" rx="3.5" ry="2" transform="rotate(174,4,30)"/><ellipse cx="84" cy="30" rx="3.5" ry="2" transform="rotate(174,84,30)"/><ellipse cx="70" cy="20.5" rx="2" ry="2" transform="rotate(31,70,20.5)"/><ellipse cx="-5" cy="21.5" rx="2.5" ry="1.5" transform="rotate(137,-5,21.5)"/><ellipse cx="75" cy="21.5" rx="2.5" ry="1.5" transform="rotate(137,75,21.5)"/><ellipse cx="53" cy="30" rx="3" ry="2" transform="rotate(31,53,30)"/><ellipse cx="72.5" cy="4.5" rx="2" ry="1.5" transform="rotate(180,72.5,4.5)"/><ellipse cx="72.5" cy="64.5" rx="2" ry="1.5" transform="rotate(180,72.5,64.5)"/><ellipse cx="5.5" cy="34.5" rx="2.5" ry="2" transform="rotate(133,5.5,34.5)"/><ellipse cx="85.5" cy="34.5" rx="2.5" ry="2" transform="rotate(133,85.5,34.5)"/><ellipse cx="3.5" cy="47.5" rx="3" ry="2" transform="rotate(114,3.5,47.5)"/><ellipse cx="83.5" cy="47.5" rx="3" ry="2" transform="rotate(114,83.5,47.5)"/><ellipse cx="40" cy="19.5" rx="2" ry="2.5" transform="rotate(111,40,19.5)"/><ellipse cx="35.5" cy="10.5" rx="2" ry="1.5" transform="rotate(177,35.5,10.5)"/><ellipse cx="51.5" cy="37.5" rx="2" ry="1.5" transform="rotate(36,51.5,37.5)"/><ellipse cx="53" cy="37" rx="2.5" ry="1.5" transform="rotate(122,53,37)"/><ellipse cx="5.5" cy="41" rx="1.5" ry="2" transform="rotate(130,5.5,41)"/><ellipse cx="85.5" cy="41" rx="1.5" ry="2" transform="rotate(130,85.5,41)"/><ellipse cx="45" cy="45" rx="2.5" ry="2" transform="rotate(51,45,45)"/></g><g fill="#a0a0a0"><ellipse cx="61" cy="50.5" rx="3" ry="2" transform="rotate(167,61,50.5)"/><ellipse cx="44.5" cy="30" rx="2" ry="2" transform="rotate(81,44.5,30)"/><ellipse cx="32.5" cy="31" rx="1.5" ry="2" transform="rotate(86,32.5,31)"/><ellipse cx="51" cy="-1" rx="2.5" ry="2" transform="rotate(24,51,-1)"/><ellipse cx="51" cy="59" rx="2.5" ry="2" transform="rotate(24,51,59)"/><ellipse cx="4.5" cy="39" rx="2" ry="2" transform="rotate(104,4.5,39)"/><ellipse cx="84.5" cy="39" rx="2" ry="2" transform="rotate(104,84.5,39)"/><ellipse cx="46" cy="8.5" rx="1.5" ry="2" transform="rotate(79,46,8.5)"/><ellipse cx="34" cy="50.5" rx="3" ry="1" transform="rotate(173,34,50.5)"/><ellipse cx="58.5" cy="19.5" rx="1.5" ry="2" transform="rotate(21,58.5,19.5)"/><ellipse cx="56.5" cy="45" rx="3" ry="1.5" transform="rotate(158,56.5,45)"/><ellipse cx="21.5" cy="7.5" rx="3" ry="1.5" transform="rotate(158,21.5,7.5)"/><ellipse cx="34.5" cy="4" rx="2.5" ry="1" transform="rotate(60,34.5,4)"/><ellipse cx="34.5" cy="64" rx="2.5" ry="1" transform="rotate(60,34.5,64)"/><ellipse cx="27.5" cy="47.5" rx="2" ry="2" transform="rotate(93,27.5,47.5)"/><ellipse cx="66" cy="54" rx="2.5" ry="2.5" transform="rotate(61,66,54)"/><ellipse cx="25" cy="-5.5" rx="3" ry="2.5" transform="rotate(132,25,-5.5)"/><ellipse cx="25" cy="54.5" rx="3" ry="2.5" transform="rotate(132,25,54.5)"/><ellipse cx="72.5" cy="4.5" rx="1.5" ry="1.5" transform="rotate(11,72.5,4.5)"/><ellipse cx="72.5" cy="64.5" rx="1.5" ry="1.5" transform="rotate(11,72.5,64.5)"/><ellipse cx="52" cy="52" rx="2" ry="1.5" transform="rotate(84,52,52)"/><ellipse cx="7" cy="0.5" rx="2.5" ry="1" transform="rotate(134,7,0.5)"/><ellipse cx="7" cy="60.5" rx="2.5" ry="1" transform="rotate(134,7,60.5)"/><ellipse cx="16.5" cy="27.5" rx="3" ry="2" transform="rotate(109,16.5,27.5)"/><ellipse cx="11" cy="41" rx="1.5" ry="2" transform="rotate(22,11,41)"/><ellipse cx="63" cy="37" rx="3" ry="2" transform="rotate(26,63,37)"/><ellipse cx="4" cy="43" rx="2.5" ry="1" transform="rotate(59,4,43)"/><ellipse cx="84" cy="43" rx="2.5" ry="1" transform="rotate(59,84,43)"/><ellipse cx="64" cy="34" rx="3" ry="1.5" transform="rotate(150,64,34)"/><ellipse cx="-3" cy="30.5" rx="2" ry="1.5" transform="rotate(134,-3,30.5)"/><ellipse cx="77" cy="30.5" rx="2" ry="1.5" transform="rotate(134,77,30.5)"/><ellipse cx="24" cy="-2.5" rx="2" ry="1" transform="rotate(141,24,-2.5)"/><ellipse cx="24" cy="57.5" rx="2" ry="1" transform="rotate(141,24,57.5)"/><ellipse cx="23.5" cy="2" rx="3" ry="2" transform="rotate(3,23.5,2)"/><ellipse cx="23.5" cy="62" rx="3" ry="2" transform="rotate(3,23.5,62)"/><ellipse cx="68.5" cy="4" rx="2" ry="1" transform="rotate(114,68.5,4)"/><ellipse cx="68.5" cy="64" rx="2" ry="1" transform="rotate(114,68.5,64)"/><ellipse cx="63" cy="-0.5" rx="1.5" ry="1" transform="rotate(120,63,-0.5)"/><ellipse cx="63" cy="59.5" rx="1.5" ry="1" transform="rotate(120,63,59.5)"/><ellipse cx="56.5" cy="7" rx="1.5" ry="2" transform="rotate(155,56.5,7)"/><ellipse cx="64" cy="7.5" rx="2.5" ry="2" transform="rotate(100,64,7.5)"/><ellipse cx="43.5" cy="31" rx="1.5" ry="1.5" transform="rotate(144,43.5,31)"/><ellipse cx="58.5" cy="43" rx="3.5" ry="2.5" transform="rotate(39,58.5,43)"/><ellipse cx="33.5" cy="22.5" rx="3" ry="1.5" transform="rotate(133,33.5,22.5)"/><ellipse cx="49.5" cy="12.5" rx="3" ry="2" transform="rotate(37,49.5,12.5)"/><ellipse cx="15.5" cy="-5.5" rx="2" ry="1.5" transform="rotate(160,15.5,-5.5)"/><ellipse cx="15.5" cy="54.5" rx="2" ry="1.5" transform="rotate(160,15.5,54.5)"/><ellipse cx="38.5" cy="18" rx="3" ry="2" transform="rotate(156,38.5,18)"/><ellipse cx="13.5" cy="27" rx="2.5" ry="1.5" transform="rotate(150,13.5,27)"/><ellipse cx="67.5" cy="-3" rx="3" ry="1.5" transform="rotate(129,67.5,-3)"/><ellipse cx="67.5" cy="57" rx="3" ry="1.5" transform="rotate(129,67.5,57)"/><ellipse cx="15.5" cy="-2.5" rx="1.5" ry="2" transform="rotate(3,15.5,-2.5)"/><ellipse cx="15.5" cy="57.5" rx="1.5" ry="2" transform="rotate(3,15.5,57.5)"/><ellipse cx="41.5" cy="12" rx="2.5" ry="1.5" transform="rotate(16,41.5,12)"/><ellipse cx="29.5" cy="19" rx="3.5" ry="1.5" transform="rotate(115,29.5,19)"/><ellipse cx="53" cy="31" rx="1.5" ry="2" transform="rotate(55,53,31)"/><ellipse cx="41" cy="-0.5" rx="2.5" ry="2" transform="rotate(23,41,-0.5)"/><ellipse cx="41" cy="59.5" rx="2.5" ry="2" transform="rotate(23,41,59.5)"/><ellipse cx="51" cy="25.5" rx="1.5" ry="1" transform="rotate(7,51,25.5)"/><ellipse cx="19.5" cy="29.5" rx="3" ry="2" transform="rotate(167,19.5,29.5)"/><ellipse cx="-3.5" cy="-4" rx="2" ry="1" transform="rotate(100,-3.5,-4)"/><ellipse cx="-3.5" cy="56" rx="2" ry="1" transform="rotate(100,-3.5,56)"/><ellipse cx="76.5" cy="-4" rx="2" ry="1" transform="rotate(100,76.5,-4)"/><ellipse cx="76.5" cy="56" rx="2" ry="1" transform="rotate(100,76.5,56)"/><ellipse cx="13" cy="39" rx="2" ry="1.5" transform="rotate(83,13,39)"/><ellipse cx="15" cy="26" rx="3.5" ry="1" transform="rotate(167,15,26)"/><ellipse cx="24" cy="23" rx="3" ry="2" transform="rotate(117,24,23)"/><ellipse cx="35" cy="31.5" rx="2.5" ry="2" transform="rotate(101,35,31.5)"/><ellipse cx="43.5" cy="4.5" rx="2" ry="1.5" transform="rotate(15,43.5,4.5)"/><ellipse cx="43.5" cy="64.5" rx="2" ry="1.5" transform="rotate(15,43.5,64.5)"/><ellipse cx="18.5" cy="0" rx="3" ry="1.5" transform="rotate(92,18.5,0)"/><ellipse cx="18.5" cy="60" rx="3" ry="1.5" transform="rotate(92,18.5,60)"/><ellipse cx="17" cy="-4.5" rx="2.5" ry="1.5" transform="rotate(108,17,-4.5)"/><ellipse cx="17" cy="55.5" rx="2.5" ry="1.5" transform="rotate(108,17,55.5)"/><ellipse cx="36.5" cy="14.5" rx="3" ry="1.5" transform="rotate(85,36.5,14.5)"/><ellipse cx="15" cy="53" rx="2.5" ry="1.5" transform="rotate(161,15,53)"/><ellipse cx="26" cy="39" rx="2.5" ry="1.5" transform="rotate(53,26,39)"/><ellipse cx="30" cy="36" rx="2.5" ry="1" transform="rotate(158,30,36)"/><ellipse cx="47.5" cy="4.5" rx="2.5" ry="1.5" transform="rotate(138,47.5,4.5)"/><ellipse cx="47.5" cy="64.5" rx="2.5" ry="1.5" transform="rotate(138,47.5,64.5)"/><ellipse cx="55.5" cy="33" rx="3" ry="1.5" transform="rotate(93,55.5,33)"/><ellipse cx="52.5" cy="4.5" rx="2" ry="2" transform="rotate(34,52.5,4.5)"/><ellipse cx="52.5" cy="64.5" rx="2" ry="2" transform="rotate(34,52.5,64.5)"/><ellipse cx="8" cy="12" rx="3" ry="1.5" transform="rotate(49,8,12)"/><ellipse cx="57.5" cy="14.5" rx="2" ry="1.5" transform="rotate(179,57.5,14.5)"/><ellipse cx="20.5" cy="28" rx="3" ry="1.5" transform="rotate(55,20.5,28)"/><ellipse cx="33" cy="54" rx="2" ry="2.5" transform="rotate(74,33,54)"/><ellipse cx="5" cy="1.5" rx="1.5" ry="1" transform="rotate(107,5,1.5)"/><ellipse cx="5" cy="61.5" rx="1.5" ry="1" transform="rotate(107,5,61.5)"/><ellipse cx="85" cy="1.5" rx="1.5" ry="1" transform="rotate(107,85,1.5)"/><ellipse cx="85" cy="61.5" rx="1.5" ry="1" transform="rotate(107,85,61.5)"/><ellipse cx="60" cy="-3" rx="1.5" ry="2.5" transform="rotate(3,60,-3)"/><ellipse cx="60" cy="57" rx="1.5" ry="2.5" transform="rotate(3,60,57)"/><ellipse cx="2" cy="21" rx="2.5" ry="2" transform="rotate(137,2,21)"/><ellipse cx="82" cy="21" rx="2.5" ry="2" transform="rotate(137,82,21)"/><ellipse cx="50.5" cy="54" rx="3" ry="2" transform="rotate(168,50.5,54)"/><ellipse cx="9" cy="53" rx="3.5" ry="1.5" transform="rotate(46,9,53)"/><ellipse cx="60" cy="14.5" rx="2.5" ry="2" transform="rotate(161,60,14.5)"/><ellipse cx="9.5" cy="50.5" rx="3" ry="1" transform="rotate(153,9.5,50.5)"/><ellipse cx="10" cy="32" rx="2.5" ry="1.5" transform="rotate(139,10,32)"/><ellipse cx="-1.5" cy="13.5" rx="3.5" ry="1.5" transform="rotate(56,-1.5,13.5)"/><ellipse cx="78.5" cy="13.5" rx="3.5" ry="1.5" transform="rotate(56,78.5,13.5)"/><ellipse cx="20.5" cy="53" rx="3.5" ry="1" transform="rotate(145,20.5,53)"/><ellipse cx="61" cy="6" rx="2" ry="1.5" transform="rotate(23,61,6)"/><ellipse cx="56.5" cy="49.5" rx="3" ry="1" transform="rotate(70,56.5,49.5)"/><ellipse cx="63" cy="46.5" rx="2.5" ry="1.5" transform="rotate(106,63,46.5)"/><ellipse cx="68" cy="43.5" rx="3" ry="2" transform="rotate(128,68,43.5)"/><ellipse cx="53" cy="14.5" rx="2.5" ry="2.5" transform="rotate(180,53,14.5)"/><ellipse cx="22.5" cy="-1.5" rx="2.5" ry="2" transform="rotate(100,22.5,-1.5)"/><ellipse cx="22.5" cy="58.5" rx="2.5" ry="2" transform="rotate(100,22.5,58.5)"/></g><g fill="#b3b3b3"><ellipse cx="1" cy="25" rx="3" ry="1" transform="rotate(7,1,25)"/><ellipse cx="81" cy="25" rx="3" ry="1" transform="rotate(7,81,25)"/><ellipse cx="23" cy="52" rx="3" ry="2" transform="rotate(91,23,52)"/><ellipse cx="47" cy="5.5" rx="3" ry="1.5" transform="rotate(122,47,5.5)"/><ellipse cx="47" cy="65.5" rx="3" ry="1.5" transform="rotate(122,47,65.5)"/><ellipse cx="59.5" cy="18" rx="2.5" ry="2" transform="rotate(41,59.5,18)"/><ellipse cx="63.5" cy="33.5" rx="1.5" ry="1.5" transform="rotate(113,63.5,33.5)"/><ellipse cx="41" cy="50.5" rx="2" ry="1.5" transform="rotate(44,41,50.5)"/><ellipse cx="30" cy="11" rx="2" ry="1.5" transform="rotate(146,30,11)"/><ellipse cx="26.5" cy="36.5" rx="3" ry="2" transform="rotate(8,26.5,36.5)"/><ellipse cx="29.5" cy="23.5" rx="2" ry="2" transform="rotate(98,29.5,23.5)"/><ellipse cx="35" cy="21.5" rx="3" ry="2" transform="rotate(105,35,21.5)"/><ellipse cx="13" cy="8.5" rx="2" ry="2" transform="rotate(156,13,8.5)"/><ellipse cx="44.5" cy="20" rx="3" ry="2" transform="rotate(98,44.5,20)"/><ellipse cx="26.5" cy="16" rx="3" ry="1" transform="rotate(174,26.5,16)"/><ellipse cx="4" cy="31" rx="3" ry="2" transform="rotate(21,4,31)"/><ellipse cx="84" cy="31" rx="3" ry="2" transform="rotate(21,84,31)"/><ellipse cx="11.5" cy="16" rx="3" ry="2" transform="rotate(76,11.5,16)"/><ellipse cx="4" cy="28.5" rx="1.5" ry="1" transform="rotate(107,4,28.5)"/><ellipse cx="84" cy="28.5" rx="1.5" ry="1" transform="rotate(107,84,28.5)"/><ellipse cx="2" cy="8.5" rx="2" ry="1" transform="rotate(19,2,8.5)"/><ellipse cx="82" cy="8.5" rx="2" ry="1" transform="rotate(19,82,8.5)"/><ellipse cx="39.5" cy="0" rx="3" ry="2" transform="rotate(73,39.5,0)"/><ellipse cx="39.5" cy="60" rx="3" ry="2" transform="rotate(73,39.5,60)"/><ellipse cx="47" cy="19" rx="2" ry="2" transform="rotate(98,47,19)"/><ellipse cx="35" cy="51" rx="2.5" ry="1" transform="rotate(11,35,51)"/><ellipse cx="1" cy="42.5" rx="1.5" ry="2" transform="rotate(76,1,42.5)"/><ellipse cx="81" cy="42.5" rx="1.5" ry="2" transform="rotate(76,81,42.5)"/><ellipse cx="-3.5" cy="49.5" rx="2" ry="1.5" transform="rotate(64,-3.5,49.5)"/><ellipse cx="76.5" cy="49.5" rx="2" ry="1.5" transform="rotate(64,76.5,49.5)"/><ellipse cx="57.5" cy="51.5" rx="3" ry="1.5" transform="rotate(99,57.5,51.5)"/><ellipse cx="30.5" cy="50" rx="2" ry="1.5" transform="rotate(168,30.5,50)"/><ellipse cx="62.5" cy="23.5" rx="3.5" ry="2" transform="rotate(179,62.5,23.5)"/><ellipse cx="65.5" cy="26" rx="3" ry="1.5" transform="rotate(163,65.5,26)"/><ellipse cx="67.5" cy="48.5" rx="3" ry="1.5" transform="rotate(45,67.5,48.5)"/><ellipse cx="3.5" cy="17.5" rx="2" ry="1.5" transform="rotate(154,3.5,17.5)"/><ellipse cx="83.5" cy="17.5" rx="2" ry="1.5" transform="rotate(154,83.5,17.5)"/><ellipse cx="16" cy="52.5" rx="3.5" ry="2" transform="rotate(1,16,52.5)"/><ellipse cx="36.5" cy="26" rx="2" ry="1" transform="rotate(92,36.5,26)"/><ellipse cx="16.5" cy="44.5" rx="3" ry="2" transform="rotate(79,16.5,44.5)"/><ellipse cx="69" cy="8.5" rx="3" ry="2" transform="rotate(157,69,8.5)"/><ellipse cx="21.5" cy="40.5" rx="2.5" ry="2" transform="rotate(131,21.5,40.5)"/><ellipse cx="40" cy="27" rx="3.5" ry="2" transform="rotate(37,40,27)"/><ellipse cx="-0.5" cy="3.5" rx="3.5" ry="2" transform="rotate(89,-0.5,3.5)"/><ellipse cx="-0.5" cy="63.5" rx="3.5" ry="2" transform="rotate(89,-0.5,63.5)"/><ellipse cx="79.5" cy="3.5" rx="3.5" ry="2" transform="rotate(89,79.5,3.5)"/><ellipse cx="79.5" cy="63.5" rx="3.5" ry="2" transform="rotate(89,79.5,63.5)"/><ellipse cx="6.5" cy="45.5" rx="3.5" ry="2" transform="rotate(174,6.5,45.5)"/><ellipse cx="40" cy="34.5" rx="1.5" ry="1" transform="rotate(118,40,34.5)"/><ellipse cx="11" cy="31" rx="3.5" ry="1" transform="rotate(68,11,31)"/><ellipse cx="2" cy="-5.5" rx="2.5" ry="1.5" transform="rotate(7,2,-5.5)"/><ellipse cx="2" cy="54.5" rx="2.5" ry="1.5" transform="rotate(7,2,54.5)"/><ellipse cx="82" cy="-5.5" rx="2.5" ry="1.5" transform="rotate(7,82,-5.5)"/><ellipse cx="82" cy="54.5" rx="2.5" ry="1.5" transform="rotate(7,82,54.5)"/><ellipse cx="28.5" cy="-1" rx="3.5" ry="1.5" transform="rotate(56,28.5,-1)"/><ellipse cx="28.5" cy="59" rx="3.5" ry="1.5" transform="rotate(56,28.5,59)"/><ellipse cx="11.5" cy="4" rx="3.5" ry="2" transform="rotate(175,11.5,4)"/><ellipse cx="11.5" cy="64" rx="3.5" ry="2" transform="rotate(175,11.5,64)"/><ellipse cx="61.5" cy="5.5" rx="3" ry="2" transform="rotate(176,61.5,5.5)"/><ellipse cx="61.5" cy="65.5" rx="3" ry="2" transform="rotate(176,61.5,65.5)"/><ellipse cx="-0.5" cy="14.5" rx="3.5" ry="2" transform="rotate(41,-0.5,14.5)"/><ellipse cx="79.5" cy="14.5" rx="3.5" ry="2" transform="rotate(41,79.5,14.5)"/><ellipse cx="41.5" cy="25.5" rx="2.5" ry="2" transform="rotate(180,41.5,25.5)"/><ellipse cx="36" cy="15.5" rx="3" ry="1" transform="rotate(167,36,15.5)"/><ellipse cx="14.5" cy="43" rx="2" ry="2" transform="rotate(19,14.5,43)"/><ellipse cx="3.5" cy="8.5" rx="1.5" ry="2" transform="rotate(119,3.5,8.5)"/><ellipse cx="83.5" cy="8.5" rx="1.5" ry="2" transform="rotate(119,83.5,8.5)"/><ellipse cx="-4" cy="11" rx="2.5" ry="2" transform="rotate(130,-4,11)"/><ellipse cx="76" cy="11" rx="2.5" ry="2" transform="rotate(130,76,11)"/><ellipse cx="36.5" cy="29.5" rx="2.5" ry="1.5" transform="rotate(167,36.5,29.5)"/><ellipse cx="36" cy="22" rx="2" ry="2" transform="rotate(18,36,22)"/><ellipse cx="28" cy="0" rx="3.5" ry="1.5" transform="rotate(55,28,0)"/><ellipse cx="28" cy="60" rx="3.5" ry="1.5" transform="rotate(55,28,60)"/><ellipse cx="56.5" cy="2.5" rx="3" ry="1.5" transform="rotate(145,56.5,2.5)"/><ellipse cx="56.5" cy="62.5" rx="3" ry="1.5" transform="rotate(145,56.5,62.5)"/><ellipse cx="73.5" cy="3.5" rx="1.5" ry="1" transform="rotate(148,73.5,3.5)"/><ellipse cx="73.5" cy="63.5" rx="1.5" ry="1" transform="rotate(148,73.5,63.5)"/><ellipse cx="70" cy="28.5" rx="2.5" ry="1.5" transform="rotate(87,70,28.5)"/><ellipse cx="66.5" cy="50" rx="2.5" ry="1.5" transform="rotate(93,66.5,50)"/><ellipse cx="71" cy="4.5" rx="2" ry="1" transform="rotate(58,71,4.5)"/><ellipse cx="71" cy="64.5" rx="2" ry="1" transform="rotate(58,71,64.5)"/><ellipse cx="36" cy="6" rx="2.5" ry="1" transform="rotate(72,36,6)"/><ellipse cx="36" cy="66" rx="2.5" ry="1" transform="rotate(72,36,66)"/><ellipse cx="72" cy="16.5" rx="2" ry="1.5" transform="rotate(149,72,16.5)"/><ellipse cx="26" cy="25" rx="1.5" ry="1.5" transform="rotate(122,26,25)"/></g><g fill="#7d7d7d"><ellipse cx="64" cy="20.5" rx="2.5" ry="1.5" transform="rotate(14,64,20.5)"/><ellipse cx="46.5" cy="20" rx="3" ry="1" transform="rotate(89,46.5,20)"/><ellipse cx="27.5" cy="45" rx="2.5" ry="2" transform="rotate(142,27.5,45)"/><ellipse cx="66.5" cy="53.5" rx="3" ry="1.5" transform="rotate(2,66.5,53.5)"/><ellipse cx="27.5" cy="11" rx="3.5" ry="1" transform="rotate(159,27.5,11)"/><ellipse cx="-1.5" cy="36.5" rx="3" ry="1" transform="rotate(44,-1.5,36.5)"/><ellipse cx="78.5" cy="36.5" rx="3" ry="1" transform="rotate(44,78.5,36.5)"/><ellipse cx="71" cy="4.5" rx="2.5" ry="1" transform="rotate(100,71,4.5)"/><ellipse cx="71" cy="64.5" rx="2.5" ry="1" transform="rotate(100,71,64.5)"/><ellipse cx="34" cy="41" rx="3.5" ry="2" transform="rotate(20,34,41)"/><ellipse cx="49.5" cy="2" rx="2" ry="1.5" transform="rotate(86,49.5,2)"/><ellipse cx="49.5" cy="62" rx="2" ry="1.5" transform="rotate(86,49.5,62)"/><ellipse cx="2" cy="0.5" rx="2.5" ry="1.5" transform="rotate(167,2,0.5)"/><ellipse cx="2" cy="60.5" rx="2.5" ry="1.5" transform="rotate(167,2,60.5)"/><ellipse cx="82" cy="0.5" rx="2.5" ry="1.5" transform="rotate(167,82,0.5)"/><ellipse cx="82" cy="60.5" rx="2.5" ry="1.5" transform="rotate(167,82,60.5)"/><ellipse cx="-2.5" cy="35.5" rx="3" ry="2" transform="rotate(130,-2.5,35.5)"/><ellipse cx="77.5" cy="35.5" rx="3" ry="2" transform="rotate(130,77.5,35.5)"/><ellipse cx="5.5" cy="39" rx="1.5" ry="1.5" transform="rotate(167,5.5,39)"/><ellipse cx="85.5" cy="39" rx="1.5" ry="1.5" transform="rotate(167,85.5,39)"/><ellipse cx="62.5" cy="12.5" rx="1.5" ry="2.5" transform="rotate(8,62.5,12.5)"/><ellipse cx="34" cy="41" rx="3" ry="1" transform="rotate(15,34,41)"/><ellipse cx="54" cy="-3.5" rx="2.5" ry="1.5" transform="rotate(115,54,-3.5)"/><ellipse cx="54" cy="56.5" rx="2.5" ry="1.5" transform="rotate(115,54,56.5)"/><ellipse cx="56.5" cy="4.5" rx="3" ry="2" transform="rotate(173,56.5,4.5)"/><ellipse cx="56.5" cy="64.5" rx="3" ry="2" transform="rotate(173,56.5,64.5)"/><ellipse cx="73.5" cy="34.5" rx="3" ry="1.5" transform="rotate(82,73.5,34.5)"/><ellipse cx="35.5" cy="53.5" rx="1.5" ry="2" transform="rotate(180,35.5,53.5)"/><ellipse cx="13.5" cy="20" rx="1.5" ry="1.5" transform="rotate(8,13.5,20)"/><ellipse cx="33" cy="27" rx="1.5" ry="2" transform="rotate(176,33,27)"/><ellipse cx="32" cy="34.5" rx="2.5" ry="2" transform="rotate(93,32,34.5)"/><ellipse cx="13.5" cy="5" rx="1.5" ry="1.5" transform="rotate(175,13.5,5)"/><ellipse cx="13.5" cy="65" rx="1.5" ry="1.5" transform="rotate(175,13.5,65)"/><ellipse cx="53.5" cy="43" rx="2.5" ry="1.5" transform="rotate(179,53.5,43)"/><ellipse cx="-6" cy="39" rx="2.5" ry="2" transform="rotate(81,-6,39)"/><ellipse cx="74" cy="39" rx="2.5" ry="2" transform="rotate(81,74,39)"/><ellipse cx="70.5" cy="29.5" rx="3" ry="2" transform="rotate(105,70.5,29.5)"/><ellipse cx="48" cy="17.5" rx="2.5" ry="1.5" transform="rotate(27,48,17.5)"/><ellipse cx="23" cy="46.5" rx="1.5" ry="2" transform="rotate(133,23,46.5)"/><ellipse cx="44.5" cy="30" rx="2" ry="1.5" transform="rotate(65,44.5,30)"/><ellipse cx="45.5" cy="0.5" rx="2" ry="1.5" transform="rotate(112,45.5,0.5)"/><ellipse cx="45.5" cy="60.5" rx="2" ry="1.5" transform="rotate(112,45.5,60.5)"/><ellipse cx="13" cy="26" rx="2" ry="1.5" transform="rotate(1,13,26)"/><ellipse cx="24" cy="-2" rx="2" ry="1.5" transform="rotate(158,24,-2)"/><ellipse cx="24" cy="58" rx="2" ry="1.5" transform="rotate(158,24,58)"/><ellipse cx="71" cy="16.5" rx="3" ry="2" transform="rotate(115,71,16.5)"/><ellipse cx="69" cy="26" rx="2" ry="1" transform="rotate(13,69,26)"/><ellipse cx="31.5" cy="30.5" rx="3.5" ry="2" transform="rotate(150,31.5,30.5)"/><ellipse cx="6.5" cy="6.5" rx="2.5" ry="2" transform="rotate(131,6.5,6.5)"/><ellipse cx="70.5" cy="8" rx="2" ry="1.5" transform="rotate(49,70.5,8)"/><ellipse cx="15" cy="33.5" rx="2.5" ry="2" transform="rotate(94,15,33.5)"/><ellipse cx="58.5" cy="41.5" rx="3" ry="1.5" transform="rotate(90,58.5,41.5)"/><ellipse cx="39.5" cy="26" rx="2.5" ry="1" transform="rotate(157,39.5,26)"/><ellipse cx="6" cy="-4" rx="2.5" ry="2.5" transform="rotate(12,6,-4)"/><ellipse cx="6" cy="56" rx="2.5" ry="2.5" transform="rotate(12,6,56)"/><ellipse cx="62.5" cy="1" rx="2" ry="2" transform="rotate(155,62.5,1)"/><ellipse cx="62.5" cy="61" rx="2" ry="2" transform="rotate(155,62.5,61)"/><ellipse cx="11.5" cy="33.5" rx="3" ry="1.5" transform="rotate(4,11.5,33.5)"/><ellipse cx="73" cy="32" rx="2.5" ry="2" transform="rotate(148,73,32)"/><ellipse cx="71" cy="17.5" rx="1.5" ry="1.5" transform="rotate(153,71,17.5)"/><ellipse cx="66" cy="22" rx="2" ry="2" transform="rotate(154,66,22)"/><ellipse cx="67.5" cy="42.5" rx="3.5" ry="1.5" transform="rotate(82,67.5,42.5)"/><ellipse cx="30" cy="33" rx="2.5" ry="2" transform="rotate(70,30,33)"/><ellipse cx="30" cy="11" rx="3" ry="1.5" transform="rotate(64,30,11)"/><ellipse cx="17.5" cy="24.5" rx="2.5" ry="1.5" transform="rotate(154,17.5,24.5)"/><ellipse cx="32.5" cy="37.5" rx="3" ry="2" transform="rotate(159,32.5,37.5)"/><ellipse cx="8" cy="23.5" rx="2.5" ry="1" transform="rotate(34,8,23.5)"/><ellipse cx="1.5" cy="47" rx="3" ry="2" transform="rotate(166,1.5,47)"/><ellipse cx="81.5" cy="47" rx="3" ry="2" transform="rotate(166,81.5,47)"/><ellipse cx="51.5" cy="43" rx="1.5" ry="1.5" transform="rotate(122,51.5,43)"/><ellipse cx="1.5" cy="5" rx="2" ry="1" transform="rotate(41,1.5,5)"/><ellipse cx="1.5" cy="65" rx="2" ry="1" transform="rotate(41,1.5,65)"/><ellipse cx="81.5" cy="5" rx="2" ry="1" transform="rotate(41,81.5,5)"/><ellipse cx="81.5" cy="65" rx="2" ry="1" transform="rotate(41,81.5,65)"/><ellipse cx="69.5" cy="3" rx="3" ry="2" transform="rotate(156,69.5,3)"/><ellipse cx="69.5" cy="63" rx="3" ry="2" transform="rotate(156,69.5,63)"/><ellipse cx="16.5" cy="6" rx="1.5" ry="2" transform="rotate(106,16.5,6)"/><ellipse cx="16.5" cy="66" rx="1.5" ry="2" transform="rotate(106,16.5,66)"/><ellipse cx="34" cy="7" rx="3.5" ry="2" transform="rotate(113,34,7)"/><ellipse cx="26" cy="50.5" rx="3" ry="1" transform="rotate(45,26,50.5)"/><ellipse cx="10" cy="5" rx="2" ry="1" transform="rotate(25,10,5)"/><ellipse cx="10" cy="65" rx="2" ry="1" transform="rotate(25,10,65)"/><ellipse cx="66" cy="35" rx="3" ry="1.5" transform="rotate(102,66,35)"/><ellipse cx="51" cy="30.5" rx="2" ry="1" transform="rotate(61,51,30.5)"/><ellipse cx="72.5" cy="42.5" rx="2" ry="2" transform="rotate(128,72.5,42.5)"/><ellipse cx="38.5" cy="15.5" rx="2.5" ry="1.5" transform="rotate(120,38.5,15.5)"/><ellipse cx="27" cy="43" rx="3.5" ry="1" transform="rotate(23,27,43)"/><ellipse cx="43" cy="28.5" rx="1.5" ry="1.5" transform="rotate(30,43,28.5)"/><ellipse cx="54.5" cy="38" rx="2" ry="2" transform="rotate(24,54.5,38)"/><ellipse cx="-2" cy="22" rx="2.5" ry="2" transform="rotate(78,-2,22)"/><ellipse cx="78" cy="22" rx="2.5" ry="2" transform="rotate(78,78,22)"/><ellipse cx="58" cy="29.5" rx="3" ry="1" transform="rotate(125,58,29.5)"/><ellipse cx="35" cy="27.5" rx="1.5" ry="2" transform="rotate(157,35,27.5)"/><ellipse cx="14.5" cy="3.5" rx="3.5" ry="2" transform="rotate(170,14.5,3.5)"/><ellipse cx="14.5" cy="63.5" rx="3.5" ry="2" transform="rotate(170,14.5,63.5)"/><ellipse cx="28" cy="7" rx="2.5" ry="1.5" transform="rotate(71,28,7)"/><ellipse cx="6.5" cy="47" rx="1.5" ry="1.5" transform="rotate(87,6.5,47)"/><ellipse cx="73" cy="37" rx="2" ry="1.5" transform="rotate(105,73,37)"/></g><g fill="#c0c0c0"><ellipse cx="37" cy="46" rx="2" ry="2" transform="rotate(6,37,46)"/><ellipse cx="30" cy="18" rx="3" ry="1" transform="rotate(167,30,18)"/><ellipse cx="9.5" cy="31" rx="3" ry="1" transform="rotate(80,9.5,31)"/><ellipse cx="35.5" cy="50" rx="2" ry="2" transform="rotate(63,35.5,50)"/><ellipse cx="13.5" cy="36" rx="2" ry="1" transform="rotate(173,13.5,36)"/><ellipse cx="43.5" cy="32" rx="3.5" ry="1.5" transform="rotate(67,43.5,32)"/><ellipse cx="24.5" cy="17" rx="3" ry="1.5" transform="rotate(50,24.5,17)"/><ellipse cx="66" cy="0" rx="3" ry="1" transform="rotate(44,66,0)"/><ellipse cx="66" cy="60" rx="3" ry="1" transform="rotate(44,66,60)"/><ellipse cx="9.5" cy="26.5" rx="2.5" ry="2" transform="rotate(152,9.5,26.5)"/><ellipse cx="47" cy="40.5" rx="3" ry="2.5" transform="rotate(63,47,40.5)"/><ellipse cx="34.5" cy="49.5" rx="2.5" ry="1.5" transform="rotate(105,34.5,49.5)"/><ellipse cx="31.5" cy="44.5" rx="3" ry="1.5" transform="rotate(79,31.5,44.5)"/><ellipse cx="22.5" cy="43.5" rx="3" ry="1" transform="rotate(55,22.5,43.5)"/><ellipse cx="21" cy="23" rx="3" ry="1.5" transform="rotate(25,21,23)"/><ellipse cx="-5.5" cy="22" rx="3" ry="2" transform="rotate(138,-5.5,22)"/><ellipse cx="74.5" cy="22" rx="3" ry="2" transform="rotate(138,74.5,22)"/><ellipse cx="23" cy="10" rx="2.5" ry="1.5" transform="rotate(71,23,10)"/><ellipse cx="-0.5" cy="51" rx="1.5" ry="1.5" transform="rotate(148,-0.5,51)"/><ellipse cx="79.5" cy="51" rx="1.5" ry="1.5" transform="rotate(148,79.5,51)"/><ellipse cx="4" cy="47.5" rx="2" ry="1.5" transform="rotate(132,4,47.5)"/><ellipse cx="84" cy="47.5" rx="2" ry="1.5" transform="rotate(132,84,47.5)"/><ellipse cx="-3.5" cy="48.5" rx="3" ry="2" transform="rotate(53,-3.5,48.5)"/><ellipse cx="76.5" cy="48.5" rx="3" ry="2" transform="rotate(53,76.5,48.5)"/><ellipse cx="1.5" cy="18.5" rx="2.5" ry="1.5" transform="rotate(27,1.5,18.5)"/><ellipse cx="81.5" cy="18.5" rx="2.5" ry="1.5" transform="rotate(27,81.5,18.5)"/><ellipse cx="54" cy="47.5" rx="3" ry="1.5" transform="rotate(35,54,47.5)"/><ellipse cx="69.5" cy="37" rx="2.5" ry="1.5" transform="rotate(6,69.5,37)"/><ellipse cx="7" cy="42.5" rx="3.5" ry="1" transform="rotate(75,7,42.5)"/><ellipse cx="48.5" cy="33.5" rx="2" ry="1" transform="rotate(31,48.5,33.5)"/><ellipse cx="21.5" cy="24" rx="3.5" ry="1" transform="rotate(166,21.5,24)"/><ellipse cx="42" cy="-3.5" rx="2" ry="2" transform="rotate(78,42,-3.5)"/><ellipse cx="42" cy="56.5" rx="2" ry="2" transform="rotate(78,42,56.5)"/><ellipse cx="67.5" cy="14" rx="3.5" ry="2" transform="rotate(94,67.5,14)"/><ellipse cx="49" cy="20" rx="1.5" ry="2" transform="rotate(83,49,20)"/><ellipse cx="58" cy="6.5" rx="3" ry="1.5" transform="rotate(33,58,6.5)"/><ellipse cx="62.5" cy="35" rx="3" ry="2" transform="rotate(85,62.5,35)"/><ellipse cx="66.5" cy="50.5" rx="2.5" ry="2" transform="rotate(94,66.5,50.5)"/><ellipse cx="56" cy="53.5" rx="3" ry="1" transform="rotate(165,56,53.5)"/><ellipse cx="30" cy="32" rx="2" ry="2" transform="rotate(136,30,32)"/><ellipse cx="47.5" cy="47" rx="3.5" ry="1.5" transform="rotate(89,47.5,47)"/><ellipse cx="-4" cy="12.5" rx="2.5" ry="1.5" transform="rotate(135,-4,12.5)"/><ellipse cx="76" cy="12.5" rx="2.5" ry="1.5" transform="rotate(135,76,12.5)"/><ellipse cx="17.5" cy="13.5" rx="3" ry="1.5" transform="rotate(97,17.5,13.5)"/><ellipse cx="3" cy="-1.5" rx="3.5" ry="2" transform="rotate(91,3,-1.5)"/><ellipse cx="3" cy="58.5" rx="3.5" ry="2" transform="rotate(91,3,58.5)"/><ellipse cx="83" cy="-1.5" rx="3.5" ry="2" transform="rotate(91,83,-1.5)"/><ellipse cx="83" cy="58.5" rx="3.5" ry="2" transform="rotate(91,83,58.5)"/><ellipse cx="22" cy="9.5" rx="2.5" ry="1.5" transform="rotate(67,22,9.5)"/><ellipse cx="62.5" cy="3" rx="2" ry="2" transform="rotate(61,62.5,3)"/><ellipse cx="62.5" cy="63" rx="2" ry="2" transform="rotate(61,62.5,63)"/><ellipse cx="48" cy="48.5" rx="3.5" ry="1.5" transform="rotate(177,48,48.5)"/><ellipse cx="7" cy="25.5" rx="2" ry="1.5" transform="rotate(101,7,25.5)"/><ellipse cx="-4" cy="9" rx="2" ry="1.5" transform="rotate(98,-4,9)"/><ellipse cx="76" cy="9" rx="2" ry="1.5" transform="rotate(98,76,9)"/><ellipse cx="60.5" cy="-6" rx="3" ry="1" transform="rotate(85,60.5,-6)"/><ellipse cx="60.5" cy="54" rx="3" ry="1" transform="rotate(85,60.5,54)"/><ellipse cx="26.5" cy="39.5" rx="2.5" ry="2" transform="rotate(86,26.5,39.5)"/><ellipse cx="67" cy="33" rx="3" ry="2" transform="rotate(21,67,33)"/><ellipse cx="-5" cy="-5.5" rx="1.5" ry="2" transform="rotate(51,-5,-5.5)"/><ellipse cx="-5" cy="54.5" rx="1.5" ry="2" transform="rotate(51,-5,54.5)"/><ellipse cx="75" cy="-5.5" rx="1.5" ry="2" transform="rotate(51,75,-5.5)"/><ellipse cx="75" cy="54.5" rx="1.5" ry="2" transform="rotate(51,75,54.5)"/><ellipse cx="18" cy="39" rx="3" ry="2" transform="rotate(45,18,39)"/><ellipse cx="54.5" cy="51" rx="2.5" ry="1.5" transform="rotate(17,54.5,51)"/><ellipse cx="-3" cy="-4.5" rx="2" ry="1.5" transform="rotate(136,-3,-4.5)"/><ellipse cx="-3" cy="55.5" rx="2" ry="1.5" transform="rotate(136,-3,55.5)"/><ellipse cx="77" cy="-4.5" rx="2" ry="1.5" transform="rotate(136,77,-4.5)"/><ellipse cx="77" cy="55.5" rx="2" ry="1.5" transform="rotate(136,77,55.5)"/><ellipse cx="43.5" cy="26.5" rx="3" ry="2" transform="rotate(88,43.5,26.5)"/><ellipse cx="44" cy="32.5" rx="1.5" ry="1.5" transform="rotate(165,44,32.5)"/><ellipse cx="9.5" cy="-4" rx="2" ry="2" transform="rotate(13,9.5,-4)"/><ellipse cx="9.5" cy="56" rx="2" ry="2" transform="rotate(13,9.5,56)"/><ellipse cx="30" cy="32.5" rx="2.5" ry="2" transform="rotate(73,30,32.5)"/><ellipse cx="47" cy="42.5" rx="2.5" ry="2" transform="rotate(75,47,42.5)"/><ellipse cx="0.5" cy="6.5" rx="2" ry="2" transform="rotate(135,0.5,6.5)"/><ellipse cx="80.5" cy="6.5" rx="2" ry="2" transform="rotate(135,80.5,6.5)"/><ellipse cx="32.5" cy="49.5" rx="2" ry="1.5" transform="rotate(12,32.5,49.5)"/><ellipse cx="9.5" cy="29.5" rx="1.5" ry="2" transform="rotate(37,9.5,29.5)"/><ellipse cx="43.5" cy="34.5" rx="2" ry="1.5" transform="rotate(32,43.5,34.5)"/><ellipse cx="-1.5" cy="35" rx="2" ry="1" transform="rotate(124,-1.5,35)"/><ellipse cx="78.5" cy="35" rx="2" ry="1" transform="rotate(124,78.5,35)"/><ellipse cx="46" cy="27.5" rx="3.5" ry="1.5" transform="rotate(94,46,27.5)"/><ellipse cx="17.5" cy="46.5" rx="3" ry="1" transform="rotate(4,17.5,46.5)"/><ellipse cx="5" cy="8.5" rx="2" ry="1.5" transform="rotate(51,5,8.5)"/><ellipse cx="85" cy="8.5" rx="2" ry="1.5" transform="rotate(51,85,8.5)"/><ellipse cx="-1.5" cy="53.5" rx="2" ry="1.5" transform="rotate(143,-1.5,53.5)"/><ellipse cx="78.5" cy="53.5" rx="2" ry="1.5" transform="rotate(143,78.5,53.5)"/><ellipse cx="9" cy="52.5" rx="2.5" ry="1" transform="rotate(7,9,52.5)"/><ellipse cx="31" cy="26" rx="2.5" ry="1.5" transform="rotate(154,31,26)"/><ellipse cx="2.5" cy="42" rx="2.5" ry="1.5" transform="rotate(126,2.5,42)"/><ellipse cx="82.5" cy="42" rx="2.5" ry="1.5" transform="rotate(126,82.5,42)"/><ellipse cx="71" cy="13.5" rx="1.5" ry="1.5" transform="rotate(0,71,13.5)"/><ellipse cx="25.5" cy="24.5" rx="1.5" ry="1.5" transform="rotate(161,25.5,24.5)"/></g><g fill="#f5f5f5"><ellipse cx="61" cy="36" rx="3" ry="2" transform="rotate(152,61,36)"/><ellipse cx="13.5" cy="19" rx="2" ry="1.5" transform="rotate(160,13.5,19)"/><ellipse cx="61" cy="36.5" rx="1.5" ry="1.5" transform="rotate(178,61,36.5)"/><ellipse cx="13" cy="19.5" rx="1.5" ry="1.5" transform="rotate(131,13,19.5)"/><ellipse cx="67" cy="6" rx="3" ry="1.5" transform="rotate(11,67,6)"/><ellipse cx="67" cy="66" rx="3" ry="1.5" transform="rotate(11,67,66)"/><ellipse cx="6" cy="-2.5" rx="1.5" ry="1" transform="rotate(82,6,-2.5)"/><ellipse cx="6" cy="57.5" rx="1.5" ry="1" transform="rotate(82,6,57.5)"/><ellipse cx="29" cy="15.5" rx="1.5" ry="1.5" transform="rotate(65,29,15.5)"/><ellipse cx="61" cy="23" rx="2.5" ry="1" transform="rotate(115,61,23)"/><ellipse cx="19.5" cy="9.5" rx="2.5" ry="1.5" transform="rotate(166,19.5,9.5)"/><ellipse cx="30" cy="36" rx="2.5" ry="1.5" transform="rotate(46,30,36)"/><ellipse cx="17.5" cy="20.5" rx="2" ry="2" transform="rotate(80,17.5,20.5)"/><ellipse cx="52" cy="42" rx="2.5" ry="1" transform="rotate(105,52,42)"/><ellipse cx="4" cy="53" rx="1.5" ry="1" transform="rotate(161,4,53)"/><ellipse cx="84" cy="53" rx="1.5" ry="1" transform="rotate(161,84,53)"/><ellipse cx="38" cy="31.5" rx="1.5" ry="1.5" transform="rotate(52,38,31.5)"/><ellipse cx="69" cy="9.5" rx="1.5" ry="2" transform="rotate(157,69,9.5)"/><ellipse cx="16" cy="21" rx="2.5" ry="1.5" transform="rotate(33,16,21)"/><ellipse cx="55" cy="10" rx="2.5" ry="1.5" transform="rotate(127,55,10)"/><ellipse cx="67.5" cy="21.5" rx="1" ry="1.5" transform="rotate(8,67.5,21.5)"/><ellipse cx="16.5" cy="23" rx="1.5" ry="2" transform="rotate(106,16.5,23)"/><ellipse cx="51" cy="6" rx="2" ry="2" transform="rotate(159,51,6)"/><ellipse cx="51" cy="66" rx="2" ry="2" transform="rotate(159,51,66)"/><ellipse cx="-1" cy="23" rx="1" ry="1" transform="rotate(83,-1,23)"/><ellipse cx="79" cy="23" rx="1" ry="1" transform="rotate(83,79,23)"/><ellipse cx="62.5" cy="3" rx="1.5" ry="1.5" transform="rotate(71,62.5,3)"/><ellipse cx="62.5" cy="63" rx="1.5" ry="1.5" transform="rotate(71,62.5,63)"/><ellipse cx="39" cy="37.5" rx="2" ry="1.5" transform="rotate(165,39,37.5)"/><ellipse cx="19.5" cy="37.5" rx="2.5" ry="1" transform="rotate(84,19.5,37.5)"/><ellipse cx="54.5" cy="25.5" rx="2.5" ry="1.5" transform="rotate(179,54.5,25.5)"/><ellipse cx="28" cy="8.5" rx="2.5" ry="1" transform="rotate(74,28,8.5)"/><ellipse cx="13" cy="47" rx="1.5" ry="1.5" transform="rotate(161,13,47)"/><ellipse cx="15" cy="19.5" rx="1.5" ry="1" transform="rotate(99,15,19.5)"/><ellipse cx="73.5" cy="32.5" rx="2.5" ry="1" transform="rotate(10,73.5,32.5)"/><ellipse cx="51.5" cy="31.5" rx="1" ry="1" transform="rotate(135,51.5,31.5)"/><ellipse cx="-0.5" cy="7.5" rx="1" ry="1.5" transform="rotate(120,-0.5,7.5)"/><ellipse cx="79.5" cy="7.5" rx="1" ry="1.5" transform="rotate(120,79.5,7.5)"/><ellipse cx="57.5" cy="15.5" rx="2" ry="1.5" transform="rotate(29,57.5,15.5)"/><ellipse cx="52" cy="49.5" rx="1" ry="2" transform="rotate(40,52,49.5)"/></g><g fill="#ffffff"><ellipse cx="14" cy="52" rx="1" ry="1.5" transform="rotate(145,14,52)"/><ellipse cx="35" cy="9.5" rx="2" ry="1.5" transform="rotate(88,35,9.5)"/><ellipse cx="11" cy="-0.5" rx="2" ry="1.5" transform="rotate(146,11,-0.5)"/><ellipse cx="11" cy="59.5" rx="2" ry="1.5" transform="rotate(146,11,59.5)"/><ellipse cx="73.5" cy="-3.5" rx="1.5" ry="1.5" transform="rotate(96,73.5,-3.5)"/><ellipse cx="73.5" cy="56.5" rx="1.5" ry="1.5" transform="rotate(96,73.5,56.5)"/><ellipse cx="52" cy="54" rx="1.5" ry="1.5" transform="rotate(177,52,54)"/><ellipse cx="11" cy="39" rx="2" ry="1.5" transform="rotate(178,11,39)"/><ellipse cx="32" cy="0" rx="1.5" ry="2" transform="rotate(119,32,0)"/><ellipse cx="32" cy="60" rx="1.5" ry="2" transform="rotate(119,32,60)"/><ellipse cx="60" cy="20.5" rx="2.5" ry="1.5" transform="rotate(39,60,20.5)"/><ellipse cx="52.5" cy="8" rx="2.5" ry="1" transform="rotate(29,52.5,8)"/><ellipse cx="11.5" cy="9.5" rx="2.5" ry="1.5" transform="rotate(89,11.5,9.5)"/><ellipse cx="6.5" cy="42.5" rx="1.5" ry="1.5" transform="rotate(112,6.5,42.5)"/><ellipse cx="24" cy="-3.5" rx="1.5" ry="1" transform="rotate(4,24,-3.5)"/><ellipse cx="24" cy="56.5" rx="1.5" ry="1" transform="rotate(4,24,56.5)"/><ellipse cx="47" cy="31.5" rx="2.5" ry="1" transform="rotate(15,47,31.5)"/><ellipse cx="65.5" cy="14" rx="1.5" ry="1" transform="rotate(135,65.5,14)"/><ellipse cx="43.5" cy="11" rx="2.5" ry="1" transform="rotate(25,43.5,11)"/><ellipse cx="72.5" cy="-5" rx="2.5" ry="1.5" transform="rotate(66,72.5,-5)"/><ellipse cx="72.5" cy="55" rx="2.5" ry="1.5" transform="rotate(66,72.5,55)"/><ellipse cx="44" cy="22.5" rx="1.5" ry="1.5" transform="rotate(53,44,22.5)"/><ellipse cx="26.5" cy="37.5" rx="1.5" ry="1" transform="rotate(104,26.5,37.5)"/><ellipse cx="64.5" cy="23.5" rx="2" ry="1.5" transform="rotate(64,64.5,23.5)"/><ellipse cx="-4" cy="20.5" rx="2.5" ry="1.5" transform="rotate(177,-4,20.5)"/><ellipse cx="76" cy="20.5" rx="2.5" ry="1.5" transform="rotate(177,76,20.5)"/><ellipse cx="58" cy="19.5" rx="2.5" ry="1.5" transform="rotate(70,58,19.5)"/><ellipse cx="25.5" cy="41.5" rx="1.5" ry="1.5" transform="rotate(73,25.5,41.5)"/><ellipse cx="53.5" cy="27.5" rx="1.5" ry="1.5" transform="rotate(171,53.5,27.5)"/><ellipse cx="61" cy="37" rx="2.5" ry="1" transform="rotate(140,61,37)"/><ellipse cx="46.5" cy="34" rx="2" ry="1.5" transform="rotate(143,46.5,34)"/><ellipse cx="55.5" cy="3.5" rx="1.5" ry="1.5" transform="rotate(127,55.5,3.5)"/><ellipse cx="55.5" cy="63.5" rx="1.5" ry="1.5" transform="rotate(127,55.5,63.5)"/><ellipse cx="27.5" cy="5" rx="1.5" ry="1.5" transform="rotate(6,27.5,5)"/><ellipse cx="27.5" cy="65" rx="1.5" ry="1.5" transform="rotate(6,27.5,65)"/><ellipse cx="38.5" cy="13.5" rx="1.5" ry="1" transform="rotate(56,38.5,13.5)"/><ellipse cx="22.5" cy="11" rx="1.5" ry="2" transform="rotate(30,22.5,11)"/><ellipse cx="46" cy="8.5" rx="1.5" ry="1" transform="rotate(148,46,8.5)"/><ellipse cx="61.5" cy="15.5" rx="2" ry="2" transform="rotate(16,61.5,15.5)"/><ellipse cx="8" cy="35.5" rx="1" ry="1.5" transform="rotate(160,8,35.5)"/><ellipse cx="63" cy="33.5" rx="1.5" ry="1" transform="rotate(12,63,33.5)"/></g><g fill="#e8e8e8"><ellipse cx="21" cy="20.5" rx="1.5" ry="1.5" transform="rotate(81,21,20.5)"/><ellipse cx="54.5" cy="12" rx="2" ry="1.5" transform="rotate(92,54.5,12)"/><ellipse cx="48.5" cy="48" rx="1" ry="1" transform="rotate(140,48.5,48)"/><ellipse cx="47" cy="51.5" rx="2.5" ry="2" transform="rotate(58,47,51.5)"/><ellipse cx="17.5" cy="-4" rx="1" ry="2" transform="rotate(154,17.5,-4)"/><ellipse cx="17.5" cy="56" rx="1" ry="2" transform="rotate(154,17.5,56)"/><ellipse cx="70" cy="16" rx="1.5" ry="1" transform="rotate(37,70,16)"/><ellipse cx="60" cy="39.5" rx="2.5" ry="1" transform="rotate(8,60,39.5)"/><ellipse cx="61.5" cy="37.5" rx="2.5" ry="1" transform="rotate(64,61.5,37.5)"/><ellipse cx="11" cy="1" rx="1" ry="1.5" transform="rotate(130,11,1)"/><ellipse cx="11" cy="61" rx="1" ry="1.5" transform="rotate(130,11,61)"/><ellipse cx="15" cy="35.5" rx="2.5" ry="1.5" transform="rotate(174,15,35.5)"/><ellipse cx="62" cy="13.5" rx="2.5" ry="1.5" transform="rotate(35,62,13.5)"/><ellipse cx="21.5" cy="2" rx="1.5" ry="1" transform="rotate(152,21.5,2)"/><ellipse cx="21.5" cy="62" rx="1.5" ry="1" transform="rotate(152,21.5,62)"/><ellipse cx="67" cy="33" rx="1.5" ry="1.5" transform="rotate(56,67,33)"/><ellipse cx="5.5" cy="40" rx="1.5" ry="1.5" transform="rotate(150,5.5,40)"/><ellipse cx="85.5" cy="40" rx="1.5" ry="1.5" transform="rotate(150,85.5,40)"/><ellipse cx="22" cy="22.5" rx="2.5" ry="2" transform="rotate(107,22,22.5)"/><ellipse cx="33.5" cy="53.5" rx="2.5" ry="1.5" transform="rotate(154,33.5,53.5)"/><ellipse cx="47.5" cy="5" rx="1.5" ry="1.5" transform="rotate(61,47.5,5)"/><ellipse cx="47.5" cy="65" rx="1.5" ry="1.5" transform="rotate(61,47.5,65)"/><ellipse cx="23" cy="23" rx="1.5" ry="1.5" transform="rotate(50,23,23)"/><ellipse cx="-4" cy="25" rx="3" ry="1.5" transform="rotate(118,-4,25)"/><ellipse cx="76" cy="25" rx="3" ry="1.5" transform="rotate(118,76,25)"/><ellipse cx="70" cy="34" rx="1.5" ry="1.5" transform="rotate(29,70,34)"/><ellipse cx="40.5" cy="28.5" rx="2" ry="1.5" transform="rotate(90,40.5,28.5)"/><ellipse cx="31.5" cy="-0.5" rx="1.5" ry="2" transform="rotate(58,31.5,-0.5)"/><ellipse cx="31.5" cy="59.5" rx="1.5" ry="2" transform="rotate(58,31.5,59.5)"/><ellipse cx="44.5" cy="7.5" rx="2.5" ry="1" transform="rotate(158,44.5,7.5)"/><ellipse cx="68.5" cy="49" rx="2" ry="1" transform="rotate(166,68.5,49)"/><ellipse cx="-1.5" cy="-4" rx="1.5" ry="1" transform="rotate(40,-1.5,-4)"/><ellipse cx="-1.5" cy="56" rx="1.5" ry="1" transform="rotate(40,-1.5,56)"/><ellipse cx="78.5" cy="-4" rx="1.5" ry="1" transform="rotate(40,78.5,-4)"/><ellipse cx="78.5" cy="56" rx="1.5" ry="1" transform="rotate(40,78.5,56)"/><ellipse cx="37" cy="5.5" rx="1.5" ry="1.5" transform="rotate(29,37,5.5)"/><ellipse cx="37" cy="65.5" rx="1.5" ry="1.5" transform="rotate(29,37,65.5)"/><ellipse cx="58.5" cy="30.5" rx="2" ry="1" transform="rotate(6,58.5,30.5)"/><ellipse cx="60" cy="48" rx="1.5" ry="1.5" transform="rotate(35,60,48)"/><ellipse cx="35" cy="39.5" rx="1.5" ry="1.5" transform="rotate(11,35,39.5)"/><ellipse cx="16.5" cy="45" rx="1.5" ry="1.5" transform="rotate(71,16.5,45)"/></g><g fill="#1a1a1a"><ellipse cx="59" cy="21" rx="2" ry="1.5" transform="rotate(166,59,21)"/><ellipse cx="14.5" cy="14" rx="2" ry="1.5" transform="rotate(114,14.5,14)"/><ellipse cx="43" cy="10.5" rx="2.5" ry="2" transform="rotate(134,43,10.5)"/><ellipse cx="71" cy="26" rx="1.5" ry="1.5" transform="rotate(146,71,26)"/><ellipse cx="29" cy="29" rx="3" ry="2" transform="rotate(20,29,29)"/><ellipse cx="12.5" cy="51" rx="1.5" ry="1.5" transform="rotate(103,12.5,51)"/><ellipse cx="38" cy="8.5" rx="1.5" ry="1.5" transform="rotate(173,38,8.5)"/><ellipse cx="20.5" cy="32.5" rx="1.5" ry="1" transform="rotate(173,20.5,32.5)"/><ellipse cx="30" cy="47" rx="1.5" ry="1" transform="rotate(1,30,47)"/><ellipse cx="70" cy="39" rx="1.5" ry="1" transform="rotate(36,70,39)"/><ellipse cx="46.5" cy="15.5" rx="1.5" ry="1.5" transform="rotate(81,46.5,15.5)"/><ellipse cx="44.5" cy="51" rx="1.5" ry="1" transform="rotate(108,44.5,51)"/><ellipse cx="58.5" cy="32" rx="1.5" ry="1.5" transform="rotate(104,58.5,32)"/><ellipse cx="64.5" cy="51.5" rx="2" ry="1.5" transform="rotate(62,64.5,51.5)"/><ellipse cx="-3.5" cy="38.5" rx="2" ry="1" transform="rotate(119,-3.5,38.5)"/><ellipse cx="76.5" cy="38.5" rx="2" ry="1" transform="rotate(119,76.5,38.5)"/><ellipse cx="9" cy="28" rx="2.5" ry="2" transform="rotate(57,9,28)"/><ellipse cx="61" cy="28.5" rx="1.5" ry="1.5" transform="rotate(37,61,28.5)"/><ellipse cx="67.5" cy="29" rx="2.5" ry="1.5" transform="rotate(176,67.5,29)"/><ellipse cx="53.5" cy="4" rx="2" ry="1.5" transform="rotate(7,53.5,4)"/><ellipse cx="53.5" cy="64" rx="2" ry="1.5" transform="rotate(7,53.5,64)"/><ellipse cx="3.5" cy="16" rx="2" ry="1" transform="rotate(72,3.5,16)"/><ellipse cx="83.5" cy="16" rx="2" ry="1" transform="rotate(72,83.5,16)"/><ellipse cx="47.5" cy="11" rx="2.5" ry="1" transform="rotate(76,47.5,11)"/><ellipse cx="17" cy="23" rx="1.5" ry="2" transform="rotate(13,17,23)"/></g><g fill="#2a2a2a"><ellipse cx="2.5" cy="4.5" rx="2" ry="1" transform="rotate(72,2.5,4.5)"/><ellipse cx="2.5" cy="64.5" rx="2" ry="1" transform="rotate(72,2.5,64.5)"/><ellipse cx="82.5" cy="4.5" rx="2" ry="1" transform="rotate(72,82.5,4.5)"/><ellipse cx="82.5" cy="64.5" rx="2" ry="1" transform="rotate(72,82.5,64.5)"/><ellipse cx="64" cy="46" rx="2" ry="1.5" transform="rotate(126,64,46)"/><ellipse cx="66.5" cy="18.5" rx="3" ry="1.5" transform="rotate(24,66.5,18.5)"/><ellipse cx="19" cy="-2" rx="2" ry="2" transform="rotate(13,19,-2)"/><ellipse cx="19" cy="58" rx="2" ry="2" transform="rotate(13,19,58)"/><ellipse cx="50.5" cy="-5" rx="1.5" ry="2" transform="rotate(62,50.5,-5)"/><ellipse cx="50.5" cy="55" rx="1.5" ry="2" transform="rotate(62,50.5,55)"/><ellipse cx="22.5" cy="16" rx="2.5" ry="1.5" transform="rotate(98,22.5,16)"/><ellipse cx="10" cy="32.5" rx="3" ry="1.5" transform="rotate(88,10,32.5)"/><ellipse cx="0" cy="0.5" rx="2.5" ry="1" transform="rotate(35,0,0.5)"/><ellipse cx="0" cy="60.5" rx="2.5" ry="1" transform="rotate(35,0,60.5)"/><ellipse cx="80" cy="0.5" rx="2.5" ry="1" transform="rotate(35,80,0.5)"/><ellipse cx="80" cy="60.5" rx="2.5" ry="1" transform="rotate(35,80,60.5)"/><ellipse cx="32" cy="17" rx="1.5" ry="2" transform="rotate(152,32,17)"/><ellipse cx="65.5" cy="8" rx="1.5" ry="1" transform="rotate(109,65.5,8)"/><ellipse cx="65.5" cy="52.5" rx="2" ry="1" transform="rotate(60,65.5,52.5)"/><ellipse cx="69.5" cy="22" rx="2" ry="1.5" transform="rotate(73,69.5,22)"/><ellipse cx="46" cy="28.5" rx="3" ry="2" transform="rotate(6,46,28.5)"/><ellipse cx="28" cy="49" rx="1.5" ry="2" transform="rotate(163,28,49)"/><ellipse cx="49.5" cy="25.5" rx="2" ry="1.5" transform="rotate(25,49.5,25.5)"/><ellipse cx="-3.5" cy="19.5" rx="2.5" ry="1" transform="rotate(45,-3.5,19.5)"/><ellipse cx="76.5" cy="19.5" rx="2.5" ry="1" transform="rotate(45,76.5,19.5)"/><ellipse cx="64" cy="39" rx="2.5" ry="1.5" transform="rotate(111,64,39)"/><ellipse cx="6.5" cy="51" rx="1.5" ry="1.5" transform="rotate(19,6.5,51)"/><ellipse cx="50" cy="16" rx="2.5" ry="1.5" transform="rotate(113,50,16)"/><ellipse cx="41.5" cy="28.5" rx="2.5" ry="1" transform="rotate(122,41.5,28.5)"/></g><g fill="#3a3a3a"><ellipse cx="22" cy="4.5" rx="2.5" ry="1" transform="rotate(157,22,4.5)"/><ellipse cx="22" cy="64.5" rx="2.5" ry="1" transform="rotate(157,22,64.5)"/><ellipse cx="42" cy="22" rx="2.5" ry="1.5" transform="rotate(64,42,22)"/><ellipse cx="14.5" cy="36.5" rx="1.5" ry="1.5" transform="rotate(115,14.5,36.5)"/><ellipse cx="61.5" cy="12" rx="1.5" ry="1" transform="rotate(64,61.5,12)"/><ellipse cx="-4.5" cy="41.5" rx="2.5" ry="1.5" transform="rotate(176,-4.5,41.5)"/><ellipse cx="75.5" cy="41.5" rx="2.5" ry="1.5" transform="rotate(176,75.5,41.5)"/><ellipse cx="37.5" cy="14.5" rx="2.5" ry="1.5" transform="rotate(165,37.5,14.5)"/><ellipse cx="14.5" cy="38.5" rx="1.5" ry="1.5" transform="rotate(115,14.5,38.5)"/><ellipse cx="33.5" cy="43" rx="2.5" ry="1" transform="rotate(11,33.5,43)"/><ellipse cx="-5.5" cy="-5.5" rx="1.5" ry="1.5" transform="rotate(168,-5.5,-5.5)"/><ellipse cx="-5.5" cy="54.5" rx="1.5" ry="1.5" transform="rotate(168,-5.5,54.5)"/><ellipse cx="74.5" cy="-5.5" rx="1.5" ry="1.5" transform="rotate(168,74.5,-5.5)"/><ellipse cx="74.5" cy="54.5" rx="1.5" ry="1.5" transform="rotate(168,74.5,54.5)"/><ellipse cx="73.5" cy="27" rx="2.5" ry="2" transform="rotate(46,73.5,27)"/><ellipse cx="43.5" cy="1" rx="1" ry="1.5" transform="rotate(103,43.5,1)"/><ellipse cx="43.5" cy="61" rx="1" ry="1.5" transform="rotate(103,43.5,61)"/><ellipse cx="8" cy="3" rx="2" ry="1" transform="rotate(6,8,3)"/><ellipse cx="8" cy="63" rx="2" ry="1" transform="rotate(6,8,63)"/><ellipse cx="30" cy="15.5" rx="1.5" ry="2" transform="rotate(177,30,15.5)"/><ellipse cx="63.5" cy="12" rx="1.5" ry="1" transform="rotate(18,63.5,12)"/><ellipse cx="33.5" cy="25.5" rx="2" ry="1" transform="rotate(162,33.5,25.5)"/><ellipse cx="68" cy="13.5" rx="2.5" ry="1.5" transform="rotate(136,68,13.5)"/><ellipse cx="10" cy="4" rx="2" ry="2" transform="rotate(51,10,4)"/><ellipse cx="10" cy="64" rx="2" ry="2" transform="rotate(51,10,64)"/><ellipse cx="63" cy="-1" rx="1.5" ry="1" transform="rotate(28,63,-1)"/><ellipse cx="63" cy="59" rx="1.5" ry="1" transform="rotate(28,63,59)"/><ellipse cx="40" cy="16" rx="1.5" ry="1.5" transform="rotate(114,40,16)"/><ellipse cx="9" cy="39" rx="2" ry="1.5" transform="rotate(112,9,39)"/><ellipse cx="26.5" cy="30.5" rx="2.5" ry="1" transform="rotate(73,26.5,30.5)"/><ellipse cx="4" cy="6" rx="1.5" ry="1" transform="rotate(137,4,6)"/><ellipse cx="84" cy="6" rx="1.5" ry="1" transform="rotate(137,84,6)"/></g><g fill="#4a4a4a"><ellipse cx="66.5" cy="35" rx="1.5" ry="2" transform="rotate(137,66.5,35)"/><ellipse cx="44" cy="14.5" rx="1.5" ry="2" transform="rotate(160,44,14.5)"/><ellipse cx="59" cy="-4" rx="2.5" ry="1.5" transform="rotate(128,59,-4)"/><ellipse cx="59" cy="56" rx="2.5" ry="1.5" transform="rotate(128,59,56)"/><ellipse cx="53" cy="18" rx="1.5" ry="1.5" transform="rotate(134,53,18)"/><ellipse cx="3.5" cy="48.5" rx="1.5" ry="1" transform="rotate(36,3.5,48.5)"/><ellipse cx="83.5" cy="48.5" rx="1.5" ry="1" transform="rotate(36,83.5,48.5)"/><ellipse cx="43" cy="16" rx="2" ry="1.5" transform="rotate(112,43,16)"/><ellipse cx="5" cy="38" rx="2.5" ry="2" transform="rotate(27,5,38)"/><ellipse cx="85" cy="38" rx="2.5" ry="2" transform="rotate(27,85,38)"/><ellipse cx="41.5" cy="7" rx="2.5" ry="1.5" transform="rotate(154,41.5,7)"/><ellipse cx="7.5" cy="2.5" rx="3" ry="1.5" transform="rotate(10,7.5,2.5)"/><ellipse cx="7.5" cy="62.5" rx="3" ry="1.5" transform="rotate(10,7.5,62.5)"/><ellipse cx="51" cy="18.5" rx="1.5" ry="2" transform="rotate(131,51,18.5)"/><ellipse cx="9" cy="49" rx="2" ry="1" transform="rotate(99,9,49)"/></g></pattern><pattern id="con5" patternUnits="userSpaceOnUse" width="90" height="60"><rect width="90" height="60" fill="#b4b4b4"/><path fill="#eee" d="M13 3h1v1h-1zM87 59h1v1h-1zM27 10h1v1h-1zM44 35h1v1h-1zM62 58h1v1h-1zM52 27h1v1h-1zM66 50h1v1h-1zM14 48h1v1h-1zM49 19h1v1h-1zM60 42h1v1h-1zM62 19h1v1h-1zM35 25h1v1h-1zM62 50h1v1h-1zM73 58h1v1h-1zM49 46h1v1h-1zM88 16h1v1h-1zM31 51h1v1h-1zM26 10h1v1h-1zM37 18h1v1h-1zM87 24h1v1h-1zM78 42h1v1h-1zM15 16h1v1h-1zM51 59h1v1h-1zM68 24h1v1h-1zM89 52h1v1h-1zM60 6h1v1h-1zM11 15h1v1h-1zM6 13h1v1h-1zM34 52h1v1h-1zM11 33h1v1h-1zM74 60h1v1h-1zM51 39h1v1h-1zM35 35h1v1h-1zM83 30h1v1h-1zM19 19h1v1h-1zM3 38h1v1h-1zM48 41h1v1h-1zM25 51h1v1h-1zM0 22h1v1h-1zM26 8h1v1h-1zM21 39h1v1h-1zM32 34h1v1h-1zM86 24h1v1h-1zM67 11h1v1h-1zM74 33h1v1h-1zM54 41h1v1h-1zM55 58h1v1h-1zM79 15h1v1h-1zM74 60h1v1h-1zM77 26h1v1h-1zM58 26h1v1h-1zM44 30h1v1h-1zM68 31h1v1h-1zM52 55h1v1h-1zM17 8h1v1h-1zM29 20h1v1h-1zM5 59h1v1h-1zM65 12h1v1h-1zM32 2h1v1h-1zM52 38h1v1h-1zM57 26h1v1h-1zM90 47h1v1h-1zM26 45h1v1h-1zM83 37h1v1h-1zM66 47h1v1h-1zM63 29h1v1h-1zM40 56h1v1h-1zM11 59h1v1h-1zM68 48h1v1h-1zM42 4h1v1h-1zM28 24h1v1h-1zM31 0h1v1h-1zM81 58h1v1h-1zM34 37h1v1h-1zM81 34h1v1h-1zM58 17h1v1h-1zM26 31h1v1h-1zM49 45h1v1h-1zM55 57h1v1h-1zM4 35h1v1h-1zM30 21h1v1h-1zM33 27h1v1h-1zM9 13h1v1h-1zM37 50h1v1h-1zM83 1h1v1h-1zM67 14h1v1h-1zM30 24h1v1h-1zM69 5h1v1h-1zM46 35h1v1h-1zM32 39h1v1h-1zM85 16h1v1h-1zM63 21h1v1h-1zM51 24h1v1h-1zM31 27h1v1h-1zM20 57h1v1h-1zM73 41h1v1h-1zM32 15h1v1h-1zM27 27h1v1h-1zM18 56h1v1h-1zM33 18h1v1h-1zM65 32h1v1h-1zM16 22h1v1h-1zM63 38h1v1h-1zM54 22h1v1h-1z"/><path fill="#999" d="M48 43h1v1h-1zM33 57h1v1h-1zM49 57h1v1h-1zM71 18h1v1h-1zM82 39h1v1h-1zM15 59h1v1h-1zM4 37h1v1h-1zM62 35h1v1h-1zM35 12h1v1h-1zM10 13h1v1h-1zM68 18h1v1h-1zM52 24h1v1h-1zM72 4h1v1h-1zM72 56h1v1h-1zM48 26h1v1h-1zM46 19h1v1h-1zM78 52h1v1h-1zM53 11h1v1h-1zM13 27h1v1h-1zM57 14h1v1h-1zM35 18h1v1h-1zM6 22h1v1h-1zM55 22h1v1h-1zM42 41h1v1h-1zM90 36h1v1h-1zM0 9h1v1h-1zM10 8h1v1h-1zM61 50h1v1h-1zM54 49h1v1h-1zM54 45h1v1h-1zM5 37h1v1h-1zM50 51h1v1h-1zM58 22h1v1h-1zM57 38h1v1h-1zM34 50h1v1h-1zM71 51h1v1h-1zM20 36h1v1h-1zM53 21h1v1h-1zM54 8h1v1h-1zM85 56h1v1h-1zM16 13h1v1h-1zM40 28h1v1h-1zM56 51h1v1h-1zM40 44h1v1h-1zM47 55h1v1h-1zM71 57h1v1h-1zM73 34h1v1h-1zM61 38h1v1h-1zM78 10h1v1h-1zM28 47h1v1h-1zM21 20h1v1h-1zM22 8h1v1h-1zM44 26h1v1h-1zM10 8h1v1h-1zM38 45h1v1h-1zM89 41h1v1h-1zM45 20h1v1h-1zM63 40h1v1h-1zM30 16h1v1h-1zM30 26h1v1h-1zM90 43h1v1h-1zM39 5h1v1h-1zM24 44h1v1h-1zM53 11h1v1h-1zM27 48h1v1h-1zM66 40h1v1h-1zM78 27h1v1h-1zM24 36h1v1h-1zM12 53h1v1h-1zM18 30h1v1h-1zM69 48h1v1h-1zM17 14h1v1h-1zM45 35h1v1h-1zM6 16h1v1h-1zM0 59h1v1h-1zM66 38h1v1h-1zM74 40h1v1h-1zM32 46h1v1h-1zM72 46h1v1h-1zM4 35h1v1h-1zM75 37h1v1h-1zM85 54h1v1h-1zM80 56h1v1h-1zM83 58h1v1h-1zM12 6h1v1h-1zM0 30h1v1h-1zM50 54h1v1h-1zM86 1h1v1h-1zM55 54h1v1h-1zM12 15h1v1h-1zM62 10h1v1h-1z"/><path fill="#fff" d="M74 29h1v1h-1zM43 39h1v1h-1zM86 40h1v1h-1zM10 12h1v1h-1zM11 12h1v1h-1zM71 57h1v1h-1zM70 45h1v1h-1zM28 35h1v1h-1zM43 50h1v1h-1zM29 18h1v1h-1zM88 17h1v1h-1zM34 33h1v1h-1zM61 31h1v1h-1zM13 3h1v1h-1zM74 44h1v1h-1zM5 52h1v1h-1zM58 28h1v1h-1zM40 40h1v1h-1zM6 39h1v1h-1zM68 6h1v1h-1zM18 31h1v1h-1zM29 51h1v1h-1zM2 3h1v1h-1zM51 14h1v1h-1zM26 39h1v1h-1zM7 9h1v1h-1zM54 40h1v1h-1zM59 29h1v1h-1zM32 57h1v1h-1zM5 24h1v1h-1zM67 32h1v1h-1zM27 26h1v1h-1zM3 12h1v1h-1zM6 50h1v1h-1zM34 50h1v1h-1zM29 49h1v1h-1zM73 42h1v1h-1zM35 3h1v1h-1zM63 21h1v1h-1zM60 24h1v1h-1zM73 31h1v1h-1zM29 42h1v1h-1zM3 18h1v1h-1zM90 56h1v1h-1zM7 50h1v1h-1zM90 29h1v1h-1zM49 14h1v1h-1zM42 20h1v1h-1zM37 56h1v1h-1zM88 47h1v1h-1zM59 50h1v1h-1zM24 57h1v1h-1zM23 51h1v1h-1zM48 3h1v1h-1zM41 16h1v1h-1zM75 42h1v1h-1zM81 56h1v1h-1zM27 51h1v1h-1zM12 15h1v1h-1zM89 32h1v1h-1zM41 21h1v1h-1zM17 42h1v1h-1zM77 25h1v1h-1zM12 54h1v1h-1zM50 39h1v1h-1zM19 9h1v1h-1zM80 21h1v1h-1zM46 59h1v1h-1zM19 6h1v1h-1zM90 29h1v1h-1zM2 19h1v1h-1zM35 40h1v1h-1zM43 53h1v1h-1zM10 34h1v1h-1zM17 20h1v1h-1zM60 25h1v1h-1zM36 35h1v1h-1zM17 49h1v1h-1zM58 33h1v1h-1zM32 54h1v1h-1zM43 33h1v1h-1zM63 45h1v1h-1zM40 15h1v1h-1zM15 13h1v1h-1zM59 31h1v1h-1zM11 27h1v1h-1zM39 4h1v1h-1zM61 56h1v1h-1zM27 34h1v1h-1zM3 51h1v1h-1zM12 32h1v1h-1zM28 31h1v1h-1zM24 4h1v1h-1zM14 44h1v1h-1zM28 10h1v1h-1zM62 6h1v1h-1zM39 31h1v1h-1z"/><path fill="#888" d="M1 7h1v1h-1zM8 1h1v1h-1zM31 12h1v1h-1zM32 12h1v1h-1zM3 44h1v1h-1zM59 13h1v1h-1zM30 20h1v1h-1zM23 46h1v1h-1zM31 1h1v1h-1zM55 19h1v1h-1zM38 8h1v1h-1zM33 24h1v1h-1zM80 42h1v1h-1zM16 2h1v1h-1zM19 53h1v1h-1zM22 51h1v1h-1zM66 46h1v1h-1zM7 30h1v1h-1zM40 29h1v1h-1zM21 60h1v1h-1zM79 25h1v1h-1zM50 47h1v1h-1zM31 58h1v1h-1zM24 47h1v1h-1zM72 33h1v1h-1zM43 9h1v1h-1zM79 21h1v1h-1zM44 12h1v1h-1zM69 43h1v1h-1zM9 28h1v1h-1zM58 12h1v1h-1zM72 57h1v1h-1zM53 41h1v1h-1zM22 11h1v1h-1zM81 24h1v1h-1zM56 9h1v1h-1zM79 20h1v1h-1zM86 43h1v1h-1zM37 42h1v1h-1zM66 50h1v1h-1zM86 17h1v1h-1zM2 11h1v1h-1zM19 59h1v1h-1zM79 3h1v1h-1zM80 23h1v1h-1zM61 14h1v1h-1zM1 58h1v1h-1zM25 12h1v1h-1zM67 48h1v1h-1zM82 52h1v1h-1zM21 23h1v1h-1zM46 46h1v1h-1zM0 36h1v1h-1zM74 27h1v1h-1zM64 44h1v1h-1zM8 52h1v1h-1zM3 20h1v1h-1zM24 22h1v1h-1zM9 37h1v1h-1zM18 14h1v1h-1zM1 59h1v1h-1zM63 48h1v1h-1zM19 27h1v1h-1zM45 26h1v1h-1zM59 38h1v1h-1zM7 1h1v1h-1zM21 11h1v1h-1zM63 10h1v1h-1zM53 30h1v1h-1zM74 15h1v1h-1zM67 42h1v1h-1zM25 49h1v1h-1zM73 41h1v1h-1zM30 9h1v1h-1zM72 26h1v1h-1zM60 46h1v1h-1zM63 10h1v1h-1zM48 22h1v1h-1zM84 52h1v1h-1zM26 25h1v1h-1zM6 57h1v1h-1zM78 28h1v1h-1zM34 49h1v1h-1zM74 8h1v1h-1zM30 52h1v1h-1zM55 33h1v1h-1zM3 43h1v1h-1zM75 48h1v1h-1zM42 16h1v1h-1zM81 33h1v1h-1zM2 55h1v1h-1zM43 28h1v1h-1zM36 48h1v1h-1zM44 57h1v1h-1zM25 58h1v1h-1zM86 39h1v1h-1zM48 56h1v1h-1zM3 50h1v1h-1zM3 46h1v1h-1zM30 53h1v1h-1zM44 54h1v1h-1zM22 46h1v1h-1zM87 44h1v1h-1zM86 14h1v1h-1zM65 54h1v1h-1zM38 32h1v1h-1zM40 55h1v1h-1zM3 1h1v1h-1zM79 54h1v1h-1z"/><path fill="#aaa" d="M40 25h1v1h-1zM40 47h1v1h-1zM43 30h1v1h-1zM25 22h1v1h-1zM44 48h1v1h-1zM12 34h1v1h-1zM62 33h1v1h-1zM63 31h1v1h-1zM29 22h1v1h-1zM77 3h1v1h-1zM35 52h1v1h-1zM70 50h1v1h-1zM43 4h1v1h-1zM80 33h1v1h-1zM49 47h1v1h-1zM40 19h1v1h-1zM87 28h1v1h-1zM68 54h1v1h-1zM6 24h1v1h-1zM29 15h1v1h-1zM43 47h1v1h-1zM1 32h1v1h-1zM44 32h1v1h-1zM41 10h1v1h-1zM9 3h1v1h-1zM78 53h1v1h-1zM83 34h1v1h-1zM79 7h1v1h-1zM68 29h1v1h-1zM72 40h1v1h-1zM63 41h1v1h-1zM80 48h1v1h-1zM63 31h1v1h-1zM69 15h1v1h-1zM35 26h1v1h-1zM38 59h1v1h-1zM66 52h1v1h-1zM40 44h1v1h-1zM16 44h1v1h-1zM44 8h1v1h-1zM22 43h1v1h-1zM79 32h1v1h-1zM82 21h1v1h-1zM67 55h1v1h-1zM4 25h1v1h-1zM43 42h1v1h-1zM47 15h1v1h-1zM47 52h1v1h-1zM32 59h1v1h-1zM65 10h1v1h-1zM12 32h1v1h-1zM19 50h1v1h-1zM1 21h1v1h-1zM87 30h1v1h-1zM82 25h1v1h-1zM10 14h1v1h-1zM42 57h1v1h-1zM72 48h1v1h-1zM45 12h1v1h-1zM2 42h1v1h-1zM49 45h1v1h-1zM54 38h1v1h-1zM59 31h1v1h-1zM52 9h1v1h-1zM33 47h1v1h-1zM68 7h1v1h-1zM27 44h1v1h-1zM33 22h1v1h-1zM2 32h1v1h-1zM85 11h1v1h-1zM77 41h1v1h-1zM81 13h1v1h-1zM79 21h1v1h-1zM20 28h1v1h-1zM79 1h1v1h-1zM82 14h1v1h-1zM85 9h1v1h-1zM23 30h1v1h-1zM12 19h1v1h-1zM59 30h1v1h-1zM24 57h1v1h-1zM2 40h1v1h-1zM80 36h1v1h-1zM89 22h1v1h-1zM4 20h1v1h-1zM13 11h1v1h-1zM79 12h1v1h-1zM87 42h1v1h-1zM49 59h1v1h-1zM52 57h1v1h-1zM38 18h1v1h-1zM15 58h1v1h-1zM14 29h1v1h-1zM11 55h1v1h-1zM20 19h1v1h-1z"/><path fill="#ddd" d="M13 44h1v1h-1zM5 14h1v1h-1zM65 25h1v1h-1zM66 12h1v1h-1zM50 56h1v1h-1zM83 36h1v1h-1zM64 16h1v1h-1zM36 31h1v1h-1zM4 40h1v1h-1zM79 12h1v1h-1zM23 12h1v1h-1zM41 39h1v1h-1zM22 9h1v1h-1zM28 23h1v1h-1zM4 34h1v1h-1zM60 0h1v1h-1zM12 58h1v1h-1zM62 51h1v1h-1zM58 10h1v1h-1zM65 43h1v1h-1zM16 31h1v1h-1zM30 30h1v1h-1zM77 10h1v1h-1zM37 43h1v1h-1zM51 9h1v1h-1zM41 17h1v1h-1zM33 14h1v1h-1zM87 28h1v1h-1zM38 31h1v1h-1zM2 14h1v1h-1zM86 8h1v1h-1zM3 56h1v1h-1zM86 28h1v1h-1zM90 30h1v1h-1zM49 56h1v1h-1zM42 4h1v1h-1zM39 35h1v1h-1zM39 19h1v1h-1zM75 6h1v1h-1zM67 39h1v1h-1zM78 31h1v1h-1zM7 49h1v1h-1zM51 48h1v1h-1zM40 3h1v1h-1zM81 29h1v1h-1zM37 41h1v1h-1zM53 17h1v1h-1zM81 58h1v1h-1zM7 53h1v1h-1zM77 15h1v1h-1zM51 25h1v1h-1zM59 14h1v1h-1zM80 5h1v1h-1zM14 52h1v1h-1zM2 22h1v1h-1zM84 3h1v1h-1zM85 48h1v1h-1zM43 54h1v1h-1zM15 55h1v1h-1zM62 49h1v1h-1zM74 34h1v1h-1zM62 28h1v1h-1zM27 59h1v1h-1zM53 3h1v1h-1zM76 18h1v1h-1zM86 43h1v1h-1zM69 44h1v1h-1zM5 7h1v1h-1zM13 58h1v1h-1zM14 16h1v1h-1zM21 23h1v1h-1zM37 36h1v1h-1zM42 9h1v1h-1zM78 17h1v1h-1zM75 12h1v1h-1zM17 42h1v1h-1zM35 54h1v1h-1zM31 43h1v1h-1zM79 13h1v1h-1zM3 15h1v1h-1zM78 16h1v1h-1zM79 8h1v1h-1zM76 5h1v1h-1zM6 16h1v1h-1zM28 41h1v1h-1zM77 45h1v1h-1zM1 8h1v1h-1zM57 32h1v1h-1zM26 5h1v1h-1zM74 44h1v1h-1zM80 57h1v1h-1zM65 48h1v1h-1zM80 54h1v1h-1zM26 2h1v1h-1zM23 9h1v1h-1zM51 31h1v1h-1zM73 8h1v1h-1zM86 59h1v1h-1zM30 60h1v1h-1zM36 49h1v1h-1zM20 39h1v1h-1zM69 15h1v1h-1zM5 53h1v1h-1zM28 1h1v1h-1z"/><g fill="#8f8f8f"><ellipse cx="12.5" cy="38" rx="2.5" ry="2" transform="rotate(137,12.5,38)"/><ellipse cx="74.5" cy="22" rx="3.5" ry="1.5" transform="rotate(9,74.5,22)"/><ellipse cx="5.5" cy="22.5" rx="3.5" ry="2.5" transform="rotate(149,5.5,22.5)"/><ellipse cx="95.5" cy="22.5" rx="3.5" ry="2.5" transform="rotate(149,95.5,22.5)"/><ellipse cx="27.5" cy="-1.5" rx="2.5" ry="1.5" transform="rotate(86,27.5,-1.5)"/><ellipse cx="27.5" cy="58.5" rx="2.5" ry="1.5" transform="rotate(86,27.5,58.5)"/><ellipse cx="69" cy="13" rx="4" ry="2.5" transform="rotate(83,69,13)"/><ellipse cx="6" cy="36.5" rx="2.5" ry="2.5" transform="rotate(59,6,36.5)"/><ellipse cx="96" cy="36.5" rx="2.5" ry="2.5" transform="rotate(59,96,36.5)"/><ellipse cx="71" cy="47.5" rx="3.5" ry="2.5" transform="rotate(94,71,47.5)"/><ellipse cx="23" cy="2.5" rx="2" ry="2" transform="rotate(57,23,2.5)"/><ellipse cx="23" cy="62.5" rx="2" ry="2" transform="rotate(57,23,62.5)"/><ellipse cx="83" cy="48.5" rx="3" ry="2.5" transform="rotate(111,83,48.5)"/><ellipse cx="25.5" cy="6" rx="3" ry="2" transform="rotate(90,25.5,6)"/><ellipse cx="25.5" cy="66" rx="3" ry="2" transform="rotate(90,25.5,66)"/><ellipse cx="68" cy="12" rx="3.5" ry="2.5" transform="rotate(101,68,12)"/><ellipse cx="43" cy="53" rx="3" ry="2.5" transform="rotate(19,43,53)"/><ellipse cx="80" cy="22.5" rx="2.5" ry="2" transform="rotate(39,80,22.5)"/><ellipse cx="68.5" cy="34.5" rx="2.5" ry="2.5" transform="rotate(141,68.5,34.5)"/><ellipse cx="43.5" cy="8.5" rx="4" ry="2.5" transform="rotate(67,43.5,8.5)"/><ellipse cx="75" cy="7" rx="2.5" ry="2.5" transform="rotate(33,75,7)"/><ellipse cx="36.5" cy="40.5" rx="3" ry="1.5" transform="rotate(132,36.5,40.5)"/><ellipse cx="71" cy="18" rx="3.5" ry="2.5" transform="rotate(63,71,18)"/><ellipse cx="65" cy="37.5" rx="2.5" ry="1" transform="rotate(61,65,37.5)"/><ellipse cx="18" cy="14.5" rx="3.5" ry="1.5" transform="rotate(27,18,14.5)"/><ellipse cx="6" cy="25.5" rx="3" ry="1.5" transform="rotate(175,6,25.5)"/><ellipse cx="9" cy="13" rx="4" ry="2.5" transform="rotate(56,9,13)"/><ellipse cx="64.5" cy="39.5" rx="2" ry="2.5" transform="rotate(52,64.5,39.5)"/><ellipse cx="18" cy="45" rx="4" ry="2" transform="rotate(0,18,45)"/><ellipse cx="16.5" cy="36.5" rx="2.5" ry="1.5" transform="rotate(3,16.5,36.5)"/><ellipse cx="58.5" cy="28.5" rx="3" ry="2" transform="rotate(60,58.5,28.5)"/><ellipse cx="25" cy="17" rx="3" ry="1.5" transform="rotate(46,25,17)"/><ellipse cx="43.5" cy="9" rx="3" ry="2.5" transform="rotate(76,43.5,9)"/><ellipse cx="65.5" cy="12" rx="2" ry="2.5" transform="rotate(75,65.5,12)"/><ellipse cx="24.5" cy="4.5" rx="2" ry="1.5" transform="rotate(80,24.5,4.5)"/><ellipse cx="24.5" cy="64.5" rx="2" ry="1.5" transform="rotate(80,24.5,64.5)"/><ellipse cx="50.5" cy="28" rx="3" ry="2.5" transform="rotate(174,50.5,28)"/><ellipse cx="49" cy="38" rx="2" ry="1.5" transform="rotate(24,49,38)"/><ellipse cx="65" cy="3" rx="2" ry="2" transform="rotate(123,65,3)"/><ellipse cx="65" cy="63" rx="2" ry="2" transform="rotate(123,65,63)"/><ellipse cx="50" cy="13.5" rx="2.5" ry="2.5" transform="rotate(78,50,13.5)"/><ellipse cx="34" cy="7.5" rx="2.5" ry="1.5" transform="rotate(54,34,7.5)"/><ellipse cx="10.5" cy="-3.5" rx="2.5" ry="2.5" transform="rotate(7,10.5,-3.5)"/><ellipse cx="10.5" cy="56.5" rx="2.5" ry="2.5" transform="rotate(7,10.5,56.5)"/><ellipse cx="71.5" cy="4" rx="2.5" ry="1.5" transform="rotate(95,71.5,4)"/><ellipse cx="71.5" cy="64" rx="2.5" ry="1.5" transform="rotate(95,71.5,64)"/><ellipse cx="54" cy="51.5" rx="2.5" ry="1.5" transform="rotate(43,54,51.5)"/><ellipse cx="71.5" cy="21" rx="2" ry="2" transform="rotate(110,71.5,21)"/><ellipse cx="79.5" cy="49" rx="3" ry="2.5" transform="rotate(122,79.5,49)"/><ellipse cx="77" cy="29.5" rx="3.5" ry="2.5" transform="rotate(55,77,29.5)"/><ellipse cx="-0.5" cy="9.5" rx="3" ry="1.5" transform="rotate(75,-0.5,9.5)"/><ellipse cx="89.5" cy="9.5" rx="3" ry="1.5" transform="rotate(75,89.5,9.5)"/><ellipse cx="48" cy="20" rx="3.5" ry="2.5" transform="rotate(23,48,20)"/><ellipse cx="70.5" cy="38" rx="2" ry="2.5" transform="rotate(118,70.5,38)"/><ellipse cx="71" cy="46.5" rx="2" ry="1.5" transform="rotate(85,71,46.5)"/><ellipse cx="2.5" cy="46" rx="2" ry="2.5" transform="rotate(109,2.5,46)"/><ellipse cx="92.5" cy="46" rx="2" ry="2.5" transform="rotate(109,92.5,46)"/></g><g fill="#a0a0a0"><ellipse cx="30.5" cy="31.5" rx="2.5" ry="2.5" transform="rotate(159,30.5,31.5)"/><ellipse cx="-3.5" cy="26" rx="4" ry="2.5" transform="rotate(85,-3.5,26)"/><ellipse cx="86.5" cy="26" rx="4" ry="2.5" transform="rotate(85,86.5,26)"/><ellipse cx="34.5" cy="25.5" rx="2.5" ry="1.5" transform="rotate(10,34.5,25.5)"/><ellipse cx="10.5" cy="26.5" rx="4" ry="2.5" transform="rotate(9,10.5,26.5)"/><ellipse cx="27" cy="50.5" rx="2.5" ry="1.5" transform="rotate(153,27,50.5)"/><ellipse cx="80.5" cy="17.5" rx="4" ry="2.5" transform="rotate(33,80.5,17.5)"/><ellipse cx="24" cy="19" rx="3.5" ry="1.5" transform="rotate(79,24,19)"/><ellipse cx="75.5" cy="53.5" rx="3.5" ry="2.5" transform="rotate(40,75.5,53.5)"/><ellipse cx="38.5" cy="11.5" rx="3.5" ry="2" transform="rotate(67,38.5,11.5)"/><ellipse cx="52.5" cy="41" rx="2.5" ry="1.5" transform="rotate(159,52.5,41)"/><ellipse cx="44" cy="14" rx="4" ry="2" transform="rotate(132,44,14)"/><ellipse cx="75" cy="11.5" rx="2" ry="1.5" transform="rotate(25,75,11.5)"/><ellipse cx="-1.5" cy="11.5" rx="3" ry="2.5" transform="rotate(46,-1.5,11.5)"/><ellipse cx="88.5" cy="11.5" rx="3" ry="2.5" transform="rotate(46,88.5,11.5)"/><ellipse cx="50.5" cy="4" rx="3" ry="1.5" transform="rotate(82,50.5,4)"/><ellipse cx="50.5" cy="64" rx="3" ry="1.5" transform="rotate(82,50.5,64)"/><ellipse cx="38.5" cy="29.5" rx="2.5" ry="2" transform="rotate(144,38.5,29.5)"/><ellipse cx="8.5" cy="49.5" rx="3.5" ry="2.5" transform="rotate(37,8.5,49.5)"/><ellipse cx="62" cy="36" rx="3" ry="2" transform="rotate(119,62,36)"/><ellipse cx="18" cy="32" rx="2" ry="2" transform="rotate(1,18,32)"/><ellipse cx="35.5" cy="14" rx="3.5" ry="2" transform="rotate(131,35.5,14)"/><ellipse cx="9.5" cy="10" rx="3.5" ry="1.5" transform="rotate(85,9.5,10)"/><ellipse cx="50.5" cy="10.5" rx="4" ry="2" transform="rotate(76,50.5,10.5)"/><ellipse cx="72" cy="-2" rx="3.5" ry="1.5" transform="rotate(117,72,-2)"/><ellipse cx="72" cy="58" rx="3.5" ry="1.5" transform="rotate(117,72,58)"/><ellipse cx="80" cy="36" rx="3" ry="2.5" transform="rotate(85,80,36)"/><ellipse cx="68" cy="22.5" rx="3.5" ry="1.5" transform="rotate(44,68,22.5)"/><ellipse cx="29.5" cy="12" rx="3" ry="1.5" transform="rotate(170,29.5,12)"/><ellipse cx="43" cy="48" rx="3.5" ry="1.5" transform="rotate(13,43,48)"/><ellipse cx="79.5" cy="26.5" rx="2.5" ry="2" transform="rotate(158,79.5,26.5)"/><ellipse cx="-1.5" cy="44.5" rx="2" ry="1.5" transform="rotate(19,-1.5,44.5)"/><ellipse cx="88.5" cy="44.5" rx="2" ry="1.5" transform="rotate(19,88.5,44.5)"/><ellipse cx="40.5" cy="53" rx="2" ry="2.5" transform="rotate(1,40.5,53)"/><ellipse cx="8" cy="1.5" rx="2.5" ry="2.5" transform="rotate(99,8,1.5)"/><ellipse cx="8" cy="61.5" rx="2.5" ry="2.5" transform="rotate(99,8,61.5)"/><ellipse cx="47" cy="16" rx="4" ry="3" transform="rotate(72,47,16)"/><ellipse cx="-2" cy="7.5" rx="2" ry="2.5" transform="rotate(112,-2,7.5)"/><ellipse cx="88" cy="7.5" rx="2" ry="2.5" transform="rotate(112,88,7.5)"/><ellipse cx="-5.5" cy="18" rx="3" ry="2" transform="rotate(41,-5.5,18)"/><ellipse cx="84.5" cy="18" rx="3" ry="2" transform="rotate(41,84.5,18)"/><ellipse cx="12" cy="6.5" rx="4" ry="1.5" transform="rotate(180,12,6.5)"/><ellipse cx="69" cy="47.5" rx="4" ry="1.5" transform="rotate(90,69,47.5)"/><ellipse cx="28" cy="34" rx="2" ry="2" transform="rotate(165,28,34)"/><ellipse cx="43" cy="45" rx="3" ry="1" transform="rotate(16,43,45)"/><ellipse cx="61" cy="54" rx="2.5" ry="2.5" transform="rotate(118,61,54)"/><ellipse cx="26.5" cy="29" rx="4" ry="2" transform="rotate(22,26.5,29)"/><ellipse cx="45.5" cy="-0.5" rx="4" ry="2.5" transform="rotate(11,45.5,-0.5)"/><ellipse cx="45.5" cy="59.5" rx="4" ry="2.5" transform="rotate(11,45.5,59.5)"/><ellipse cx="17.5" cy="18.5" rx="3.5" ry="2.5" transform="rotate(79,17.5,18.5)"/><ellipse cx="71.5" cy="26.5" rx="4" ry="2.5" transform="rotate(155,71.5,26.5)"/><ellipse cx="-1" cy="3.5" rx="2.5" ry="2.5" transform="rotate(166,-1,3.5)"/><ellipse cx="-1" cy="63.5" rx="2.5" ry="2.5" transform="rotate(166,-1,63.5)"/><ellipse cx="89" cy="3.5" rx="2.5" ry="2.5" transform="rotate(166,89,3.5)"/><ellipse cx="89" cy="63.5" rx="2.5" ry="2.5" transform="rotate(166,89,63.5)"/><ellipse cx="54.5" cy="8.5" rx="4" ry="1.5" transform="rotate(119,54.5,8.5)"/><ellipse cx="39.5" cy="18" rx="4" ry="2.5" transform="rotate(108,39.5,18)"/><ellipse cx="28.5" cy="3" rx="4" ry="2" transform="rotate(52,28.5,3)"/><ellipse cx="28.5" cy="63" rx="4" ry="2" transform="rotate(52,28.5,63)"/><ellipse cx="50.5" cy="15.5" rx="3.5" ry="2" transform="rotate(156,50.5,15.5)"/></g><g fill="#b3b3b3"><ellipse cx="68.5" cy="24" rx="3" ry="2" transform="rotate(58,68.5,24)"/><ellipse cx="18" cy="17" rx="2" ry="2.5" transform="rotate(23,18,17)"/><ellipse cx="-4" cy="38" rx="4" ry="2" transform="rotate(141,-4,38)"/><ellipse cx="86" cy="38" rx="4" ry="2" transform="rotate(141,86,38)"/><ellipse cx="68" cy="27" rx="2.5" ry="2.5" transform="rotate(126,68,27)"/><ellipse cx="-3.5" cy="25" rx="3.5" ry="2" transform="rotate(169,-3.5,25)"/><ellipse cx="86.5" cy="25" rx="3.5" ry="2" transform="rotate(169,86.5,25)"/><ellipse cx="39" cy="1.5" rx="3.5" ry="2.5" transform="rotate(118,39,1.5)"/><ellipse cx="39" cy="61.5" rx="3.5" ry="2.5" transform="rotate(118,39,61.5)"/><ellipse cx="72" cy="4" rx="3.5" ry="2" transform="rotate(158,72,4)"/><ellipse cx="72" cy="64" rx="3.5" ry="2" transform="rotate(158,72,64)"/><ellipse cx="26.5" cy="34.5" rx="2" ry="2" transform="rotate(102,26.5,34.5)"/><ellipse cx="53.5" cy="41" rx="4" ry="2" transform="rotate(120,53.5,41)"/><ellipse cx="81.5" cy="33" rx="2.5" ry="2" transform="rotate(155,81.5,33)"/><ellipse cx="20.5" cy="6.5" rx="2" ry="2.5" transform="rotate(80,20.5,6.5)"/><ellipse cx="69" cy="44" rx="2" ry="2.5" transform="rotate(129,69,44)"/><ellipse cx="82.5" cy="-5.5" rx="3.5" ry="1.5" transform="rotate(88,82.5,-5.5)"/><ellipse cx="82.5" cy="54.5" rx="3.5" ry="1.5" transform="rotate(88,82.5,54.5)"/><ellipse cx="4.5" cy="32" rx="3.5" ry="2" transform="rotate(60,4.5,32)"/><ellipse cx="94.5" cy="32" rx="3.5" ry="2" transform="rotate(60,94.5,32)"/><ellipse cx="75" cy="37" rx="3" ry="1.5" transform="rotate(150,75,37)"/><ellipse cx="34.5" cy="22.5" rx="3" ry="1.5" transform="rotate(0,34.5,22.5)"/><ellipse cx="72" cy="-1" rx="3" ry="2.5" transform="rotate(139,72,-1)"/><ellipse cx="72" cy="59" rx="3" ry="2.5" transform="rotate(139,72,59)"/><ellipse cx="-0.5" cy="8.5" rx="4" ry="1.5" transform="rotate(145,-0.5,8.5)"/><ellipse cx="89.5" cy="8.5" rx="4" ry="1.5" transform="rotate(145,89.5,8.5)"/><ellipse cx="45" cy="3" rx="3.5" ry="2" transform="rotate(69,45,3)"/><ellipse cx="45" cy="63" rx="3.5" ry="2" transform="rotate(69,45,63)"/><ellipse cx="79.5" cy="22.5" rx="3" ry="2.5" transform="rotate(44,79.5,22.5)"/><ellipse cx="19.5" cy="-2.5" rx="3.5" ry="1.5" transform="rotate(71,19.5,-2.5)"/><ellipse cx="19.5" cy="57.5" rx="3.5" ry="1.5" transform="rotate(71,19.5,57.5)"/><ellipse cx="26.5" cy="28" rx="2" ry="1" transform="rotate(70,26.5,28)"/><ellipse cx="73.5" cy="52.5" rx="2" ry="2" transform="rotate(73,73.5,52.5)"/><ellipse cx="52.5" cy="-2" rx="3.5" ry="1.5" transform="rotate(87,52.5,-2)"/><ellipse cx="52.5" cy="58" rx="3.5" ry="1.5" transform="rotate(87,52.5,58)"/><ellipse cx="56.5" cy="48" rx="2.5" ry="2.5" transform="rotate(51,56.5,48)"/><ellipse cx="34" cy="14.5" rx="3" ry="2" transform="rotate(29,34,14.5)"/><ellipse cx="23.5" cy="47" rx="4" ry="2" transform="rotate(145,23.5,47)"/><ellipse cx="54.5" cy="50" rx="3.5" ry="1.5" transform="rotate(118,54.5,50)"/><ellipse cx="68.5" cy="7" rx="2.5" ry="2.5" transform="rotate(111,68.5,7)"/><ellipse cx="34.5" cy="36.5" rx="2.5" ry="1" transform="rotate(176,34.5,36.5)"/><ellipse cx="46" cy="33" rx="3" ry="1.5" transform="rotate(34,46,33)"/><ellipse cx="44.5" cy="18" rx="2.5" ry="2" transform="rotate(77,44.5,18)"/><ellipse cx="45.5" cy="33.5" rx="4" ry="2.5" transform="rotate(146,45.5,33.5)"/><ellipse cx="50.5" cy="8" rx="2" ry="2.5" transform="rotate(108,50.5,8)"/><ellipse cx="38.5" cy="6" rx="2.5" ry="2.5" transform="rotate(170,38.5,6)"/><ellipse cx="-1" cy="41" rx="3" ry="1.5" transform="rotate(157,-1,41)"/><ellipse cx="89" cy="41" rx="3" ry="1.5" transform="rotate(157,89,41)"/><ellipse cx="64.5" cy="49" rx="3" ry="2.5" transform="rotate(142,64.5,49)"/><ellipse cx="43.5" cy="19" rx="3" ry="2.5" transform="rotate(135,43.5,19)"/><ellipse cx="20" cy="2.5" rx="2.5" ry="1.5" transform="rotate(89,20,2.5)"/><ellipse cx="20" cy="62.5" rx="2.5" ry="1.5" transform="rotate(89,20,62.5)"/><ellipse cx="47.5" cy="26" rx="3.5" ry="2.5" transform="rotate(149,47.5,26)"/><ellipse cx="43.5" cy="6.5" rx="3.5" ry="1.5" transform="rotate(172,43.5,6.5)"/><ellipse cx="38.5" cy="17" rx="3" ry="2" transform="rotate(13,38.5,17)"/><ellipse cx="79" cy="2.5" rx="4" ry="2.5" transform="rotate(165,79,2.5)"/><ellipse cx="79" cy="62.5" rx="4" ry="2.5" transform="rotate(165,79,62.5)"/><ellipse cx="37.5" cy="40.5" rx="3.5" ry="1" transform="rotate(118,37.5,40.5)"/><ellipse cx="38.5" cy="50.5" rx="2.5" ry="1.5" transform="rotate(130,38.5,50.5)"/><ellipse cx="77.5" cy="43.5" rx="2" ry="2.5" transform="rotate(44,77.5,43.5)"/><ellipse cx="78.5" cy="9" rx="3" ry="2" transform="rotate(26,78.5,9)"/><ellipse cx="50" cy="6" rx="3.5" ry="2.5" transform="rotate(89,50,6)"/><ellipse cx="50" cy="66" rx="3.5" ry="2.5" transform="rotate(89,50,66)"/><ellipse cx="-1.5" cy="-4.5" rx="4" ry="2" transform="rotate(118,-1.5,-4.5)"/><ellipse cx="-1.5" cy="55.5" rx="4" ry="2" transform="rotate(118,-1.5,55.5)"/><ellipse cx="88.5" cy="-4.5" rx="4" ry="2" transform="rotate(118,88.5,-4.5)"/><ellipse cx="88.5" cy="55.5" rx="4" ry="2" transform="rotate(118,88.5,55.5)"/><ellipse cx="62.5" cy="3" rx="2.5" ry="3" transform="rotate(55,62.5,3)"/><ellipse cx="62.5" cy="63" rx="2.5" ry="3" transform="rotate(55,62.5,63)"/><ellipse cx="47" cy="32.5" rx="2.5" ry="1.5" transform="rotate(160,47,32.5)"/><ellipse cx="1.5" cy="2" rx="2" ry="2.5" transform="rotate(83,1.5,2)"/><ellipse cx="1.5" cy="62" rx="2" ry="2.5" transform="rotate(83,1.5,62)"/><ellipse cx="91.5" cy="2" rx="2" ry="2.5" transform="rotate(83,91.5,2)"/><ellipse cx="91.5" cy="62" rx="2" ry="2.5" transform="rotate(83,91.5,62)"/><ellipse cx="2.5" cy="3" rx="3.5" ry="3" transform="rotate(17,2.5,3)"/><ellipse cx="2.5" cy="63" rx="3.5" ry="3" transform="rotate(17,2.5,63)"/><ellipse cx="92.5" cy="3" rx="3.5" ry="3" transform="rotate(17,92.5,3)"/><ellipse cx="92.5" cy="63" rx="3.5" ry="3" transform="rotate(17,92.5,63)"/><ellipse cx="76.5" cy="34.5" rx="2.5" ry="1.5" transform="rotate(110,76.5,34.5)"/><ellipse cx="1.5" cy="16" rx="2" ry="2.5" transform="rotate(162,1.5,16)"/><ellipse cx="91.5" cy="16" rx="2" ry="2.5" transform="rotate(162,91.5,16)"/><ellipse cx="-1" cy="22.5" rx="2.5" ry="1.5" transform="rotate(135,-1,22.5)"/><ellipse cx="89" cy="22.5" rx="2.5" ry="1.5" transform="rotate(135,89,22.5)"/><ellipse cx="10.5" cy="21.5" rx="2.5" ry="2" transform="rotate(51,10.5,21.5)"/><ellipse cx="49.5" cy="24" rx="4" ry="2" transform="rotate(59,49.5,24)"/><ellipse cx="26.5" cy="12" rx="2" ry="2.5" transform="rotate(47,26.5,12)"/><ellipse cx="0.5" cy="27.5" rx="4" ry="2" transform="rotate(8,0.5,27.5)"/><ellipse cx="90.5" cy="27.5" rx="4" ry="2" transform="rotate(8,90.5,27.5)"/><ellipse cx="59.5" cy="-1" rx="2" ry="2" transform="rotate(56,59.5,-1)"/><ellipse cx="59.5" cy="59" rx="2" ry="2" transform="rotate(56,59.5,59)"/><ellipse cx="64" cy="0.5" rx="2" ry="2.5" transform="rotate(161,64,0.5)"/><ellipse cx="64" cy="60.5" rx="2" ry="2.5" transform="rotate(161,64,60.5)"/></g><g fill="#7d7d7d"><ellipse cx="16" cy="52.5" rx="3" ry="1.5" transform="rotate(173,16,52.5)"/><ellipse cx="40" cy="30.5" rx="3" ry="2" transform="rotate(95,40,30.5)"/><ellipse cx="7.5" cy="0.5" rx="3" ry="1.5" transform="rotate(82,7.5,0.5)"/><ellipse cx="7.5" cy="60.5" rx="3" ry="1.5" transform="rotate(82,7.5,60.5)"/><ellipse cx="77.5" cy="23" rx="3" ry="2" transform="rotate(65,77.5,23)"/><ellipse cx="25.5" cy="2.5" rx="2" ry="2" transform="rotate(153,25.5,2.5)"/><ellipse cx="25.5" cy="62.5" rx="2" ry="2" transform="rotate(153,25.5,62.5)"/><ellipse cx="37" cy="37" rx="2.5" ry="1.5" transform="rotate(175,37,37)"/><ellipse cx="54" cy="-2.5" rx="2.5" ry="1.5" transform="rotate(23,54,-2.5)"/><ellipse cx="54" cy="57.5" rx="2.5" ry="1.5" transform="rotate(23,54,57.5)"/><ellipse cx="29.5" cy="23" rx="2" ry="1.5" transform="rotate(102,29.5,23)"/><ellipse cx="34.5" cy="17" rx="2" ry="1.5" transform="rotate(131,34.5,17)"/><ellipse cx="-5.5" cy="33.5" rx="3" ry="2.5" transform="rotate(107,-5.5,33.5)"/><ellipse cx="84.5" cy="33.5" rx="3" ry="2.5" transform="rotate(107,84.5,33.5)"/><ellipse cx="41" cy="51.5" rx="2.5" ry="2" transform="rotate(179,41,51.5)"/><ellipse cx="26" cy="3" rx="4" ry="1.5" transform="rotate(36,26,3)"/><ellipse cx="26" cy="63" rx="4" ry="1.5" transform="rotate(36,26,63)"/><ellipse cx="24.5" cy="15.5" rx="2.5" ry="1.5" transform="rotate(49,24.5,15.5)"/><ellipse cx="54" cy="21" rx="4" ry="2" transform="rotate(75,54,21)"/><ellipse cx="62.5" cy="41" rx="4" ry="2" transform="rotate(73,62.5,41)"/><ellipse cx="26.5" cy="14.5" rx="3" ry="1.5" transform="rotate(10,26.5,14.5)"/><ellipse cx="28" cy="45.5" rx="3.5" ry="2" transform="rotate(100,28,45.5)"/><ellipse cx="20" cy="28.5" rx="2" ry="2.5" transform="rotate(6,20,28.5)"/><ellipse cx="58.5" cy="15.5" rx="4" ry="2.5" transform="rotate(92,58.5,15.5)"/><ellipse cx="45" cy="34.5" rx="2" ry="1.5" transform="rotate(13,45,34.5)"/><ellipse cx="71.5" cy="52" rx="2.5" ry="1.5" transform="rotate(171,71.5,52)"/><ellipse cx="67.5" cy="30.5" rx="3.5" ry="2" transform="rotate(161,67.5,30.5)"/><ellipse cx="-6" cy="28" rx="3" ry="2" transform="rotate(37,-6,28)"/><ellipse cx="84" cy="28" rx="3" ry="2" transform="rotate(37,84,28)"/><ellipse cx="45.5" cy="50.5" rx="3.5" ry="2" transform="rotate(63,45.5,50.5)"/><ellipse cx="-2.5" cy="13.5" rx="4" ry="2" transform="rotate(126,-2.5,13.5)"/><ellipse cx="87.5" cy="13.5" rx="4" ry="2" transform="rotate(126,87.5,13.5)"/><ellipse cx="0.5" cy="24" rx="2" ry="1.5" transform="rotate(71,0.5,24)"/><ellipse cx="90.5" cy="24" rx="2" ry="1.5" transform="rotate(71,90.5,24)"/><ellipse cx="45.5" cy="46.5" rx="2.5" ry="2.5" transform="rotate(54,45.5,46.5)"/><ellipse cx="33" cy="44.5" rx="3.5" ry="2" transform="rotate(134,33,44.5)"/><ellipse cx="-2.5" cy="26" rx="3.5" ry="2.5" transform="rotate(125,-2.5,26)"/><ellipse cx="87.5" cy="26" rx="3.5" ry="2.5" transform="rotate(125,87.5,26)"/><ellipse cx="67" cy="36" rx="3.5" ry="1" transform="rotate(13,67,36)"/><ellipse cx="6" cy="21" rx="2" ry="2.5" transform="rotate(143,6,21)"/><ellipse cx="96" cy="21" rx="2" ry="2.5" transform="rotate(143,96,21)"/><ellipse cx="63.5" cy="18" rx="2" ry="1.5" transform="rotate(164,63.5,18)"/><ellipse cx="2.5" cy="52.5" rx="3" ry="2.5" transform="rotate(15,2.5,52.5)"/><ellipse cx="92.5" cy="52.5" rx="3" ry="2.5" transform="rotate(15,92.5,52.5)"/><ellipse cx="25" cy="0" rx="3" ry="2" transform="rotate(96,25,0)"/><ellipse cx="25" cy="60" rx="3" ry="2" transform="rotate(96,25,60)"/><ellipse cx="65.5" cy="49.5" rx="2.5" ry="2.5" transform="rotate(132,65.5,49.5)"/><ellipse cx="77" cy="29.5" rx="3" ry="1.5" transform="rotate(56,77,29.5)"/><ellipse cx="68.5" cy="20.5" rx="3.5" ry="2" transform="rotate(148,68.5,20.5)"/><ellipse cx="7" cy="-5.5" rx="2.5" ry="2.5" transform="rotate(151,7,-5.5)"/><ellipse cx="7" cy="54.5" rx="2.5" ry="2.5" transform="rotate(151,7,54.5)"/><ellipse cx="65" cy="37.5" rx="3.5" ry="1.5" transform="rotate(180,65,37.5)"/><ellipse cx="15.5" cy="2" rx="4" ry="2" transform="rotate(161,15.5,2)"/><ellipse cx="15.5" cy="62" rx="4" ry="2" transform="rotate(161,15.5,62)"/><ellipse cx="17" cy="21" rx="2" ry="1.5" transform="rotate(12,17,21)"/><ellipse cx="53.5" cy="28" rx="2.5" ry="2" transform="rotate(120,53.5,28)"/><ellipse cx="29" cy="29" rx="2.5" ry="2.5" transform="rotate(117,29,29)"/><ellipse cx="64.5" cy="28.5" rx="4" ry="1.5" transform="rotate(148,64.5,28.5)"/><ellipse cx="49.5" cy="23.5" rx="4" ry="1.5" transform="rotate(148,49.5,23.5)"/><ellipse cx="2" cy="3" rx="2.5" ry="1" transform="rotate(83,2,3)"/><ellipse cx="2" cy="63" rx="2.5" ry="1" transform="rotate(83,2,63)"/><ellipse cx="92" cy="3" rx="2.5" ry="1" transform="rotate(83,92,3)"/><ellipse cx="92" cy="63" rx="2.5" ry="1" transform="rotate(83,92,63)"/><ellipse cx="26" cy="19" rx="2.5" ry="2.5" transform="rotate(119,26,19)"/><ellipse cx="7.5" cy="52" rx="2.5" ry="1.5" transform="rotate(91,7.5,52)"/><ellipse cx="43.5" cy="-3" rx="2.5" ry="2" transform="rotate(95,43.5,-3)"/><ellipse cx="43.5" cy="57" rx="2.5" ry="2" transform="rotate(95,43.5,57)"/><ellipse cx="1.5" cy="7.5" rx="2" ry="2" transform="rotate(166,1.5,7.5)"/><ellipse cx="91.5" cy="7.5" rx="2" ry="2" transform="rotate(166,91.5,7.5)"/><ellipse cx="54.5" cy="7" rx="4" ry="2.5" transform="rotate(48,54.5,7)"/><ellipse cx="53" cy="38" rx="4" ry="2" transform="rotate(158,53,38)"/><ellipse cx="-2.5" cy="0" rx="3.5" ry="2.5" transform="rotate(74,-2.5,0)"/><ellipse cx="-2.5" cy="60" rx="3.5" ry="2.5" transform="rotate(74,-2.5,60)"/><ellipse cx="87.5" cy="0" rx="3.5" ry="2.5" transform="rotate(74,87.5,0)"/><ellipse cx="87.5" cy="60" rx="3.5" ry="2.5" transform="rotate(74,87.5,60)"/><ellipse cx="-5.5" cy="53" rx="3.5" ry="1.5" transform="rotate(95,-5.5,53)"/><ellipse cx="84.5" cy="53" rx="3.5" ry="1.5" transform="rotate(95,84.5,53)"/><ellipse cx="74.5" cy="-4.5" rx="4" ry="2.5" transform="rotate(80,74.5,-4.5)"/><ellipse cx="74.5" cy="55.5" rx="4" ry="2.5" transform="rotate(80,74.5,55.5)"/><ellipse cx="49.5" cy="13.5" rx="2" ry="2.5" transform="rotate(147,49.5,13.5)"/><ellipse cx="16.5" cy="36.5" rx="2.5" ry="2.5" transform="rotate(47,16.5,36.5)"/><ellipse cx="8" cy="12.5" rx="4" ry="2" transform="rotate(11,8,12.5)"/><ellipse cx="10.5" cy="40.5" rx="2" ry="1.5" transform="rotate(105,10.5,40.5)"/><ellipse cx="65.5" cy="-5" rx="4" ry="1.5" transform="rotate(66,65.5,-5)"/><ellipse cx="65.5" cy="55" rx="4" ry="1.5" transform="rotate(66,65.5,55)"/></g><g fill="#c0c0c0"><ellipse cx="31.5" cy="20" rx="3" ry="2" transform="rotate(106,31.5,20)"/><ellipse cx="50" cy="17" rx="3" ry="2" transform="rotate(44,50,17)"/><ellipse cx="57.5" cy="38.5" rx="4" ry="2.5" transform="rotate(86,57.5,38.5)"/><ellipse cx="41" cy="10.5" rx="3.5" ry="1.5" transform="rotate(93,41,10.5)"/><ellipse cx="69.5" cy="32" rx="4" ry="2" transform="rotate(21,69.5,32)"/><ellipse cx="0.5" cy="8.5" rx="3.5" ry="2.5" transform="rotate(86,0.5,8.5)"/><ellipse cx="90.5" cy="8.5" rx="3.5" ry="2.5" transform="rotate(86,90.5,8.5)"/><ellipse cx="66.5" cy="47.5" rx="3.5" ry="2" transform="rotate(50,66.5,47.5)"/><ellipse cx="6" cy="-0.5" rx="3.5" ry="1.5" transform="rotate(129,6,-0.5)"/><ellipse cx="6" cy="59.5" rx="3.5" ry="1.5" transform="rotate(129,6,59.5)"/><ellipse cx="50" cy="48" rx="3.5" ry="1.5" transform="rotate(148,50,48)"/><ellipse cx="59" cy="-2" rx="2.5" ry="2" transform="rotate(43,59,-2)"/><ellipse cx="59" cy="58" rx="2.5" ry="2" transform="rotate(43,59,58)"/><ellipse cx="15" cy="0.5" rx="3" ry="2.5" transform="rotate(60,15,0.5)"/><ellipse cx="15" cy="60.5" rx="3" ry="2.5" transform="rotate(60,15,60.5)"/><ellipse cx="39.5" cy="29.5" rx="3" ry="2.5" transform="rotate(45,39.5,29.5)"/><ellipse cx="82.5" cy="8" rx="4" ry="1.5" transform="rotate(85,82.5,8)"/><ellipse cx="80.5" cy="29" rx="3.5" ry="2.5" transform="rotate(165,80.5,29)"/><ellipse cx="24.5" cy="-0.5" rx="2.5" ry="1.5" transform="rotate(14,24.5,-0.5)"/><ellipse cx="24.5" cy="59.5" rx="2.5" ry="1.5" transform="rotate(14,24.5,59.5)"/><ellipse cx="42.5" cy="30.5" rx="3.5" ry="1.5" transform="rotate(95,42.5,30.5)"/><ellipse cx="12.5" cy="13.5" rx="4" ry="2" transform="rotate(11,12.5,13.5)"/><ellipse cx="50.5" cy="49" rx="3.5" ry="2" transform="rotate(112,50.5,49)"/><ellipse cx="52" cy="47.5" rx="4" ry="2.5" transform="rotate(19,52,47.5)"/><ellipse cx="78" cy="20" rx="3" ry="2" transform="rotate(131,78,20)"/><ellipse cx="-4.5" cy="1" rx="3" ry="1.5" transform="rotate(23,-4.5,1)"/><ellipse cx="-4.5" cy="61" rx="3" ry="1.5" transform="rotate(23,-4.5,61)"/><ellipse cx="85.5" cy="1" rx="3" ry="1.5" transform="rotate(23,85.5,1)"/><ellipse cx="85.5" cy="61" rx="3" ry="1.5" transform="rotate(23,85.5,61)"/><ellipse cx="13.5" cy="16.5" rx="4" ry="2.5" transform="rotate(145,13.5,16.5)"/><ellipse cx="29" cy="21.5" rx="3.5" ry="2" transform="rotate(170,29,21.5)"/><ellipse cx="79.5" cy="10.5" rx="3" ry="2" transform="rotate(41,79.5,10.5)"/><ellipse cx="54.5" cy="35" rx="4" ry="2.5" transform="rotate(175,54.5,35)"/><ellipse cx="12.5" cy="15.5" rx="4" ry="2" transform="rotate(11,12.5,15.5)"/><ellipse cx="40.5" cy="42" rx="2.5" ry="2.5" transform="rotate(60,40.5,42)"/><ellipse cx="3.5" cy="21.5" rx="3.5" ry="2.5" transform="rotate(39,3.5,21.5)"/><ellipse cx="93.5" cy="21.5" rx="3.5" ry="2.5" transform="rotate(39,93.5,21.5)"/><ellipse cx="9" cy="25" rx="4" ry="1.5" transform="rotate(160,9,25)"/><ellipse cx="18.5" cy="21.5" rx="4" ry="2" transform="rotate(138,18.5,21.5)"/><ellipse cx="34" cy="49.5" rx="2.5" ry="2" transform="rotate(9,34,49.5)"/><ellipse cx="59.5" cy="16.5" rx="2" ry="2.5" transform="rotate(100,59.5,16.5)"/><ellipse cx="60.5" cy="18" rx="3" ry="1.5" transform="rotate(137,60.5,18)"/><ellipse cx="72.5" cy="7" rx="4" ry="2.5" transform="rotate(173,72.5,7)"/><ellipse cx="56.5" cy="33" rx="4" ry="2" transform="rotate(180,56.5,33)"/><ellipse cx="-5.5" cy="9" rx="4" ry="2" transform="rotate(157,-5.5,9)"/><ellipse cx="84.5" cy="9" rx="4" ry="2" transform="rotate(157,84.5,9)"/><ellipse cx="63" cy="19" rx="3" ry="1.5" transform="rotate(109,63,19)"/><ellipse cx="13" cy="1.5" rx="3.5" ry="2.5" transform="rotate(13,13,1.5)"/><ellipse cx="13" cy="61.5" rx="3.5" ry="2.5" transform="rotate(13,13,61.5)"/><ellipse cx="54.5" cy="12" rx="3" ry="1.5" transform="rotate(11,54.5,12)"/><ellipse cx="79.5" cy="15" rx="4" ry="2.5" transform="rotate(126,79.5,15)"/><ellipse cx="70" cy="13" rx="2.5" ry="2.5" transform="rotate(153,70,13)"/><ellipse cx="50.5" cy="53.5" rx="2.5" ry="2" transform="rotate(125,50.5,53.5)"/><ellipse cx="74" cy="47" rx="4" ry="2" transform="rotate(122,74,47)"/><ellipse cx="84" cy="39.5" rx="3" ry="1.5" transform="rotate(67,84,39.5)"/><ellipse cx="28" cy="-0.5" rx="3.5" ry="2.5" transform="rotate(83,28,-0.5)"/><ellipse cx="28" cy="59.5" rx="3.5" ry="2.5" transform="rotate(83,28,59.5)"/><ellipse cx="19.5" cy="43.5" rx="3" ry="2" transform="rotate(108,19.5,43.5)"/><ellipse cx="-3" cy="50.5" rx="3" ry="1.5" transform="rotate(34,-3,50.5)"/><ellipse cx="87" cy="50.5" rx="3" ry="1.5" transform="rotate(34,87,50.5)"/><ellipse cx="-3.5" cy="18.5" rx="3" ry="2" transform="rotate(27,-3.5,18.5)"/><ellipse cx="86.5" cy="18.5" rx="3" ry="2" transform="rotate(27,86.5,18.5)"/><ellipse cx="81" cy="39" rx="3.5" ry="2.5" transform="rotate(135,81,39)"/><ellipse cx="28" cy="35" rx="2" ry="1.5" transform="rotate(173,28,35)"/><ellipse cx="62" cy="20" rx="2" ry="2.5" transform="rotate(54,62,20)"/><ellipse cx="51.5" cy="5.5" rx="2.5" ry="1.5" transform="rotate(44,51.5,5.5)"/><ellipse cx="51.5" cy="65.5" rx="2.5" ry="1.5" transform="rotate(44,51.5,65.5)"/><ellipse cx="74" cy="14" rx="2.5" ry="2.5" transform="rotate(10,74,14)"/><ellipse cx="19" cy="48" rx="2.5" ry="2.5" transform="rotate(35,19,48)"/><ellipse cx="62.5" cy="11.5" rx="2.5" ry="2" transform="rotate(140,62.5,11.5)"/><ellipse cx="69" cy="-3" rx="3.5" ry="1.5" transform="rotate(58,69,-3)"/><ellipse cx="69" cy="57" rx="3.5" ry="1.5" transform="rotate(58,69,57)"/><ellipse cx="14" cy="50.5" rx="2" ry="2.5" transform="rotate(17,14,50.5)"/><ellipse cx="42" cy="20.5" rx="3.5" ry="2.5" transform="rotate(176,42,20.5)"/><ellipse cx="70" cy="24.5" rx="2.5" ry="2" transform="rotate(88,70,24.5)"/><ellipse cx="21" cy="24" rx="3.5" ry="2" transform="rotate(43,21,24)"/><ellipse cx="50.5" cy="39" rx="3.5" ry="1.5" transform="rotate(55,50.5,39)"/><ellipse cx="15" cy="19" rx="3.5" ry="1.5" transform="rotate(144,15,19)"/><ellipse cx="16" cy="-2" rx="3" ry="2" transform="rotate(28,16,-2)"/><ellipse cx="16" cy="58" rx="3" ry="2" transform="rotate(28,16,58)"/><ellipse cx="69.5" cy="1" rx="2" ry="1.5" transform="rotate(6,69.5,1)"/><ellipse cx="69.5" cy="61" rx="2" ry="1.5" transform="rotate(6,69.5,61)"/><ellipse cx="42.5" cy="45.5" rx="2" ry="2.5" transform="rotate(17,42.5,45.5)"/><ellipse cx="61.5" cy="24.5" rx="4" ry="2" transform="rotate(96,61.5,24.5)"/><ellipse cx="50" cy="44" rx="3.5" ry="1.5" transform="rotate(129,50,44)"/><ellipse cx="60.5" cy="7.5" rx="3" ry="1.5" transform="rotate(33,60.5,7.5)"/><ellipse cx="74.5" cy="-1.5" rx="3" ry="2" transform="rotate(170,74.5,-1.5)"/><ellipse cx="74.5" cy="58.5" rx="3" ry="2" transform="rotate(170,74.5,58.5)"/><ellipse cx="59" cy="46" rx="4" ry="1.5" transform="rotate(156,59,46)"/><ellipse cx="68" cy="-3.5" rx="3.5" ry="1.5" transform="rotate(110,68,-3.5)"/><ellipse cx="68" cy="56.5" rx="3.5" ry="1.5" transform="rotate(110,68,56.5)"/><ellipse cx="3.5" cy="7" rx="3.5" ry="2" transform="rotate(29,3.5,7)"/><ellipse cx="93.5" cy="7" rx="3.5" ry="2" transform="rotate(29,93.5,7)"/><ellipse cx="75" cy="1" rx="3" ry="2" transform="rotate(84,75,1)"/><ellipse cx="75" cy="61" rx="3" ry="2" transform="rotate(84,75,61)"/><ellipse cx="82" cy="28.5" rx="3.5" ry="2" transform="rotate(19,82,28.5)"/></g><g fill="#f5f5f5"><ellipse cx="46.5" cy="5.5" rx="1.5" ry="2" transform="rotate(108,46.5,5.5)"/><ellipse cx="46.5" cy="65.5" rx="1.5" ry="2" transform="rotate(108,46.5,65.5)"/><ellipse cx="48" cy="-3.5" rx="3" ry="2" transform="rotate(143,48,-3.5)"/><ellipse cx="48" cy="56.5" rx="3" ry="2" transform="rotate(143,48,56.5)"/><ellipse cx="67" cy="-1.5" rx="2.5" ry="2.5" transform="rotate(147,67,-1.5)"/><ellipse cx="67" cy="58.5" rx="2.5" ry="2.5" transform="rotate(147,67,58.5)"/><ellipse cx="63" cy="39" rx="3" ry="2.5" transform="rotate(34,63,39)"/><ellipse cx="34" cy="48.5" rx="2.5" ry="1" transform="rotate(24,34,48.5)"/><ellipse cx="55.5" cy="23.5" rx="3" ry="1.5" transform="rotate(103,55.5,23.5)"/><ellipse cx="54" cy="19" rx="1.5" ry="1.5" transform="rotate(66,54,19)"/><ellipse cx="38.5" cy="30" rx="2.5" ry="2" transform="rotate(131,38.5,30)"/><ellipse cx="74.5" cy="18.5" rx="2.5" ry="1.5" transform="rotate(129,74.5,18.5)"/><ellipse cx="37" cy="54" rx="3" ry="2.5" transform="rotate(118,37,54)"/><ellipse cx="56.5" cy="36.5" rx="3" ry="2" transform="rotate(14,56.5,36.5)"/><ellipse cx="6.5" cy="47.5" rx="2" ry="2" transform="rotate(179,6.5,47.5)"/><ellipse cx="58.5" cy="14" rx="2" ry="2" transform="rotate(25,58.5,14)"/><ellipse cx="29" cy="0" rx="1.5" ry="1" transform="rotate(166,29,0)"/><ellipse cx="29" cy="60" rx="1.5" ry="1" transform="rotate(166,29,60)"/></g><g fill="#ffffff"><ellipse cx="32" cy="8.5" rx="3" ry="1" transform="rotate(174,32,8.5)"/><ellipse cx="35.5" cy="36.5" rx="2" ry="1.5" transform="rotate(85,35.5,36.5)"/><ellipse cx="-3" cy="16.5" rx="3.5" ry="1.5" transform="rotate(166,-3,16.5)"/><ellipse cx="87" cy="16.5" rx="3.5" ry="1.5" transform="rotate(166,87,16.5)"/><ellipse cx="53.5" cy="31" rx="3" ry="2" transform="rotate(105,53.5,31)"/><ellipse cx="35.5" cy="36.5" rx="2" ry="1" transform="rotate(27,35.5,36.5)"/><ellipse cx="69" cy="22" rx="1.5" ry="1" transform="rotate(179,69,22)"/><ellipse cx="-2.5" cy="2.5" rx="3" ry="2.5" transform="rotate(45,-2.5,2.5)"/><ellipse cx="-2.5" cy="62.5" rx="3" ry="2.5" transform="rotate(45,-2.5,62.5)"/><ellipse cx="87.5" cy="2.5" rx="3" ry="2.5" transform="rotate(45,87.5,2.5)"/><ellipse cx="87.5" cy="62.5" rx="3" ry="2.5" transform="rotate(45,87.5,62.5)"/><ellipse cx="50" cy="43" rx="3" ry="2" transform="rotate(16,50,43)"/><ellipse cx="74" cy="3" rx="1.5" ry="2" transform="rotate(14,74,3)"/><ellipse cx="74" cy="63" rx="1.5" ry="2" transform="rotate(14,74,63)"/><ellipse cx="0" cy="53.5" rx="1.5" ry="2.5" transform="rotate(110,0,53.5)"/><ellipse cx="90" cy="53.5" rx="1.5" ry="2.5" transform="rotate(110,90,53.5)"/><ellipse cx="6.5" cy="8.5" rx="3" ry="1.5" transform="rotate(46,6.5,8.5)"/><ellipse cx="15.5" cy="-2" rx="2.5" ry="1" transform="rotate(129,15.5,-2)"/><ellipse cx="15.5" cy="58" rx="2.5" ry="1" transform="rotate(129,15.5,58)"/><ellipse cx="1" cy="0" rx="1.5" ry="2" transform="rotate(92,1,0)"/><ellipse cx="1" cy="60" rx="1.5" ry="2" transform="rotate(92,1,60)"/><ellipse cx="91" cy="0" rx="1.5" ry="2" transform="rotate(92,91,0)"/><ellipse cx="91" cy="60" rx="1.5" ry="2" transform="rotate(92,91,60)"/><ellipse cx="59" cy="1" rx="2.5" ry="2" transform="rotate(176,59,1)"/><ellipse cx="59" cy="61" rx="2.5" ry="2" transform="rotate(176,59,61)"/><ellipse cx="70.5" cy="33.5" rx="3" ry="1" transform="rotate(171,70.5,33.5)"/><ellipse cx="72" cy="39" rx="3" ry="1.5" transform="rotate(67,72,39)"/><ellipse cx="65" cy="37" rx="1.5" ry="2" transform="rotate(89,65,37)"/><ellipse cx="35.5" cy="47.5" rx="3.5" ry="1.5" transform="rotate(31,35.5,47.5)"/><ellipse cx="65.5" cy="35" rx="1.5" ry="1.5" transform="rotate(17,65.5,35)"/><ellipse cx="75.5" cy="19" rx="2.5" ry="2" transform="rotate(100,75.5,19)"/><ellipse cx="39.5" cy="-5" rx="2" ry="1.5" transform="rotate(110,39.5,-5)"/><ellipse cx="39.5" cy="55" rx="2" ry="1.5" transform="rotate(110,39.5,55)"/><ellipse cx="24" cy="10" rx="2.5" ry="2" transform="rotate(134,24,10)"/></g><g fill="#e8e8e8"><ellipse cx="77" cy="21.5" rx="1.5" ry="1" transform="rotate(78,77,21.5)"/><ellipse cx="19" cy="23" rx="1.5" ry="2" transform="rotate(61,19,23)"/><ellipse cx="4" cy="3.5" rx="1.5" ry="1.5" transform="rotate(102,4,3.5)"/><ellipse cx="4" cy="63.5" rx="1.5" ry="1.5" transform="rotate(102,4,63.5)"/><ellipse cx="94" cy="3.5" rx="1.5" ry="1.5" transform="rotate(102,94,3.5)"/><ellipse cx="94" cy="63.5" rx="1.5" ry="1.5" transform="rotate(102,94,63.5)"/><ellipse cx="72.5" cy="51.5" rx="2" ry="1" transform="rotate(164,72.5,51.5)"/><ellipse cx="79.5" cy="17.5" rx="1" ry="1" transform="rotate(40,79.5,17.5)"/><ellipse cx="7.5" cy="12" rx="2" ry="1.5" transform="rotate(119,7.5,12)"/><ellipse cx="27" cy="20.5" rx="1.5" ry="1.5" transform="rotate(171,27,20.5)"/><ellipse cx="-4.5" cy="16.5" rx="2.5" ry="1.5" transform="rotate(107,-4.5,16.5)"/><ellipse cx="85.5" cy="16.5" rx="2.5" ry="1.5" transform="rotate(107,85.5,16.5)"/><ellipse cx="-2" cy="27" rx="3.5" ry="1" transform="rotate(101,-2,27)"/><ellipse cx="88" cy="27" rx="3.5" ry="1" transform="rotate(101,88,27)"/><ellipse cx="29.5" cy="-2.5" rx="3" ry="2" transform="rotate(116,29.5,-2.5)"/><ellipse cx="29.5" cy="57.5" rx="3" ry="2" transform="rotate(116,29.5,57.5)"/><ellipse cx="71.5" cy="19" rx="3" ry="1.5" transform="rotate(178,71.5,19)"/><ellipse cx="73" cy="3.5" rx="3.5" ry="1" transform="rotate(95,73,3.5)"/><ellipse cx="73" cy="63.5" rx="3.5" ry="1" transform="rotate(95,73,63.5)"/><ellipse cx="18" cy="3" rx="2" ry="1.5" transform="rotate(145,18,3)"/><ellipse cx="18" cy="63" rx="2" ry="1.5" transform="rotate(145,18,63)"/><ellipse cx="39.5" cy="47.5" rx="3" ry="1.5" transform="rotate(135,39.5,47.5)"/><ellipse cx="72" cy="40.5" rx="2.5" ry="2.5" transform="rotate(45,72,40.5)"/><ellipse cx="49" cy="53" rx="3" ry="1.5" transform="rotate(146,49,53)"/><ellipse cx="7.5" cy="31.5" rx="1.5" ry="2" transform="rotate(166,7.5,31.5)"/><ellipse cx="40" cy="18" rx="2.5" ry="1.5" transform="rotate(84,40,18)"/><ellipse cx="37" cy="11" rx="1.5" ry="1" transform="rotate(153,37,11)"/><ellipse cx="18" cy="-5" rx="1" ry="1" transform="rotate(104,18,-5)"/><ellipse cx="18" cy="55" rx="1" ry="1" transform="rotate(104,18,55)"/></g><g fill="#1a1a1a"><ellipse cx="36.5" cy="38" rx="3" ry="2.5" transform="rotate(166,36.5,38)"/><ellipse cx="31" cy="13" rx="2" ry="1" transform="rotate(62,31,13)"/><ellipse cx="78.5" cy="4.5" rx="2.5" ry="1.5" transform="rotate(157,78.5,4.5)"/><ellipse cx="78.5" cy="64.5" rx="2.5" ry="1.5" transform="rotate(157,78.5,64.5)"/><ellipse cx="56" cy="3.5" rx="2" ry="2" transform="rotate(91,56,3.5)"/><ellipse cx="56" cy="63.5" rx="2" ry="2" transform="rotate(91,56,63.5)"/><ellipse cx="3.5" cy="15" rx="3.5" ry="1.5" transform="rotate(47,3.5,15)"/><ellipse cx="93.5" cy="15" rx="3.5" ry="1.5" transform="rotate(47,93.5,15)"/><ellipse cx="52" cy="31.5" rx="2" ry="1.5" transform="rotate(44,52,31.5)"/><ellipse cx="72" cy="-4" rx="1.5" ry="1.5" transform="rotate(93,72,-4)"/><ellipse cx="72" cy="56" rx="1.5" ry="1.5" transform="rotate(93,72,56)"/><ellipse cx="66" cy="28.5" rx="2" ry="2" transform="rotate(173,66,28.5)"/><ellipse cx="49.5" cy="50.5" rx="2.5" ry="1.5" transform="rotate(75,49.5,50.5)"/><ellipse cx="27" cy="28" rx="2.5" ry="1.5" transform="rotate(171,27,28)"/><ellipse cx="57.5" cy="17.5" rx="3.5" ry="1.5" transform="rotate(120,57.5,17.5)"/></g><g fill="#2a2a2a"><ellipse cx="67" cy="18.5" rx="2" ry="2" transform="rotate(101,67,18.5)"/><ellipse cx="10.5" cy="16.5" rx="3" ry="1.5" transform="rotate(108,10.5,16.5)"/><ellipse cx="55.5" cy="2.5" rx="3" ry="2" transform="rotate(117,55.5,2.5)"/><ellipse cx="55.5" cy="62.5" rx="3" ry="2" transform="rotate(117,55.5,62.5)"/><ellipse cx="72.5" cy="-4.5" rx="2.5" ry="1.5" transform="rotate(86,72.5,-4.5)"/><ellipse cx="72.5" cy="55.5" rx="2.5" ry="1.5" transform="rotate(86,72.5,55.5)"/><ellipse cx="24.5" cy="-3.5" rx="1.5" ry="1.5" transform="rotate(134,24.5,-3.5)"/><ellipse cx="24.5" cy="56.5" rx="1.5" ry="1.5" transform="rotate(134,24.5,56.5)"/><ellipse cx="79.5" cy="-4.5" rx="2" ry="1.5" transform="rotate(101,79.5,-4.5)"/><ellipse cx="79.5" cy="55.5" rx="2" ry="1.5" transform="rotate(101,79.5,55.5)"/><ellipse cx="52.5" cy="46.5" rx="3" ry="2" transform="rotate(24,52.5,46.5)"/><ellipse cx="13" cy="-2" rx="2.5" ry="2" transform="rotate(8,13,-2)"/><ellipse cx="13" cy="58" rx="2.5" ry="2" transform="rotate(8,13,58)"/><ellipse cx="31" cy="12" rx="3.5" ry="1.5" transform="rotate(144,31,12)"/><ellipse cx="-0.5" cy="8.5" rx="2.5" ry="2" transform="rotate(87,-0.5,8.5)"/><ellipse cx="89.5" cy="8.5" rx="2.5" ry="2" transform="rotate(87,89.5,8.5)"/><ellipse cx="64" cy="28.5" rx="2.5" ry="1.5" transform="rotate(23,64,28.5)"/><ellipse cx="26.5" cy="29.5" rx="3" ry="2.5" transform="rotate(147,26.5,29.5)"/><ellipse cx="-0.5" cy="26" rx="3" ry="2" transform="rotate(105,-0.5,26)"/><ellipse cx="89.5" cy="26" rx="3" ry="2" transform="rotate(105,89.5,26)"/><ellipse cx="29" cy="27" rx="1.5" ry="1.5" transform="rotate(149,29,27)"/></g><g fill="#3a3a3a"><ellipse cx="20.5" cy="21" rx="2.5" ry="1.5" transform="rotate(130,20.5,21)"/><ellipse cx="49" cy="8" rx="3" ry="2" transform="rotate(119,49,8)"/><ellipse cx="32.5" cy="-4.5" rx="2.5" ry="2" transform="rotate(48,32.5,-4.5)"/><ellipse cx="32.5" cy="55.5" rx="2.5" ry="2" transform="rotate(48,32.5,55.5)"/><ellipse cx="56.5" cy="54" rx="3" ry="1.5" transform="rotate(96,56.5,54)"/><ellipse cx="26.5" cy="52.5" rx="2" ry="2.5" transform="rotate(28,26.5,52.5)"/><ellipse cx="-1" cy="33.5" rx="3.5" ry="1.5" transform="rotate(100,-1,33.5)"/><ellipse cx="89" cy="33.5" rx="3.5" ry="1.5" transform="rotate(100,89,33.5)"/><ellipse cx="15.5" cy="32.5" rx="1.5" ry="2.5" transform="rotate(9,15.5,32.5)"/><ellipse cx="17" cy="27.5" rx="3.5" ry="1.5" transform="rotate(2,17,27.5)"/><ellipse cx="18.5" cy="-1" rx="2.5" ry="1.5" transform="rotate(91,18.5,-1)"/><ellipse cx="18.5" cy="59" rx="2.5" ry="1.5" transform="rotate(91,18.5,59)"/><ellipse cx="25" cy="52.5" rx="3" ry="2" transform="rotate(72,25,52.5)"/><ellipse cx="27.5" cy="32" rx="3" ry="2" transform="rotate(126,27.5,32)"/><ellipse cx="45" cy="-4.5" rx="2" ry="1" transform="rotate(32,45,-4.5)"/><ellipse cx="45" cy="55.5" rx="2" ry="1" transform="rotate(32,45,55.5)"/><ellipse cx="71.5" cy="46.5" rx="1.5" ry="1.5" transform="rotate(45,71.5,46.5)"/><ellipse cx="79.5" cy="1.5" rx="3" ry="1.5" transform="rotate(26,79.5,1.5)"/><ellipse cx="79.5" cy="61.5" rx="3" ry="1.5" transform="rotate(26,79.5,61.5)"/></g><g fill="#4a4a4a"><ellipse cx="55" cy="10.5" rx="3" ry="2.5" transform="rotate(149,55,10.5)"/><ellipse cx="52" cy="8" rx="2" ry="2.5" transform="rotate(56,52,8)"/><ellipse cx="6" cy="3.5" rx="2.5" ry="2" transform="rotate(106,6,3.5)"/><ellipse cx="6" cy="63.5" rx="2.5" ry="2" transform="rotate(106,6,63.5)"/><ellipse cx="15.5" cy="18" rx="3" ry="1" transform="rotate(156,15.5,18)"/><ellipse cx="21" cy="-1.5" rx="2" ry="2" transform="rotate(117,21,-1.5)"/><ellipse cx="21" cy="58.5" rx="2" ry="2" transform="rotate(117,21,58.5)"/><ellipse cx="41.5" cy="20.5" rx="2" ry="1.5" transform="rotate(134,41.5,20.5)"/><ellipse cx="60" cy="4.5" rx="3.5" ry="1.5" transform="rotate(39,60,4.5)"/><ellipse cx="60" cy="64.5" rx="3.5" ry="1.5" transform="rotate(39,60,64.5)"/><ellipse cx="33.5" cy="22" rx="2" ry="1" transform="rotate(61,33.5,22)"/><ellipse cx="20" cy="3.5" rx="3" ry="1.5" transform="rotate(169,20,3.5)"/><ellipse cx="20" cy="63.5" rx="3" ry="1.5" transform="rotate(169,20,63.5)"/><ellipse cx="16" cy="7" rx="3.5" ry="1" transform="rotate(71,16,7)"/><ellipse cx="26" cy="43" rx="1.5" ry="2" transform="rotate(46,26,43)"/><ellipse cx="38.5" cy="44" rx="2" ry="2.5" transform="rotate(20,38.5,44)"/><ellipse cx="35" cy="31.5" rx="3" ry="2.5" transform="rotate(118,35,31.5)"/><ellipse cx="82" cy="30.5" rx="2" ry="2" transform="rotate(112,82,30.5)"/><ellipse cx="46" cy="15" rx="2" ry="2" transform="rotate(51,46,15)"/><ellipse cx="48.5" cy="43.5" rx="2.5" ry="2" transform="rotate(174,48.5,43.5)"/><ellipse cx="25.5" cy="53.5" rx="2" ry="1.5" transform="rotate(101,25.5,53.5)"/><ellipse cx="40" cy="18" rx="3" ry="1.5" transform="rotate(57,40,18)"/><ellipse cx="33" cy="10" rx="2" ry="1.5" transform="rotate(117,33,10)"/><ellipse cx="23.5" cy="14" rx="1.5" ry="2" transform="rotate(38,23.5,14)"/></g></pattern><pattern id="con5b" patternUnits="userSpaceOnUse" width="72" height="50"><rect width="72" height="50" fill="#c4c4c4"/><path fill="#eee" d="M34 28h1v1h-1zM42 22h1v1h-1zM36 20h1v1h-1zM33 9h1v1h-1zM63 38h1v1h-1zM38 30h1v1h-1zM64 41h1v1h-1zM66 21h1v1h-1zM68 41h1v1h-1zM59 14h1v1h-1zM37 9h1v1h-1zM12 8h1v1h-1zM65 16h1v1h-1zM16 41h1v1h-1zM3 42h1v1h-1zM46 23h1v1h-1zM70 38h1v1h-1zM27 48h1v1h-1zM2 33h1v1h-1zM45 15h1v1h-1zM71 11h1v1h-1zM46 28h1v1h-1zM51 43h1v1h-1zM32 22h1v1h-1zM17 24h1v1h-1zM7 7h1v1h-1zM55 8h1v1h-1zM13 49h1v1h-1zM25 15h1v1h-1zM30 10h1v1h-1zM35 3h1v1h-1zM69 21h1v1h-1zM42 27h1v1h-1zM48 12h1v1h-1zM8 29h1v1h-1zM55 0h1v1h-1zM27 10h1v1h-1zM54 42h1v1h-1zM21 48h1v1h-1zM58 38h1v1h-1zM1 45h1v1h-1zM46 28h1v1h-1zM42 17h1v1h-1zM6 33h1v1h-1zM8 44h1v1h-1zM24 14h1v1h-1zM54 18h1v1h-1zM3 34h1v1h-1zM7 19h1v1h-1zM13 42h1v1h-1zM24 38h1v1h-1zM39 25h1v1h-1zM55 13h1v1h-1zM71 2h1v1h-1zM3 39h1v1h-1zM58 4h1v1h-1zM19 28h1v1h-1zM39 47h1v1h-1zM32 23h1v1h-1zM43 7h1v1h-1zM7 0h1v1h-1zM7 6h1v1h-1zM61 15h1v1h-1zM66 1h1v1h-1z"/><path fill="#999" d="M27 12h1v1h-1zM55 0h1v1h-1zM53 11h1v1h-1zM48 3h1v1h-1zM13 35h1v1h-1zM29 25h1v1h-1zM42 19h1v1h-1zM40 26h1v1h-1zM24 26h1v1h-1zM9 1h1v1h-1zM50 45h1v1h-1zM1 32h1v1h-1zM21 18h1v1h-1zM29 18h1v1h-1zM11 35h1v1h-1zM6 26h1v1h-1zM58 48h1v1h-1zM9 13h1v1h-1zM26 47h1v1h-1zM63 4h1v1h-1zM59 46h1v1h-1zM21 13h1v1h-1zM1 22h1v1h-1zM22 45h1v1h-1zM61 30h1v1h-1zM60 16h1v1h-1zM68 47h1v1h-1zM52 32h1v1h-1zM45 5h1v1h-1zM34 10h1v1h-1zM56 8h1v1h-1zM19 34h1v1h-1zM24 26h1v1h-1zM55 41h1v1h-1zM26 49h1v1h-1zM46 3h1v1h-1zM72 13h1v1h-1zM65 31h1v1h-1zM66 11h1v1h-1zM30 17h1v1h-1zM40 7h1v1h-1zM27 22h1v1h-1zM25 8h1v1h-1zM44 30h1v1h-1zM53 4h1v1h-1zM13 47h1v1h-1zM22 43h1v1h-1zM8 19h1v1h-1zM34 30h1v1h-1zM23 34h1v1h-1zM7 39h1v1h-1zM7 6h1v1h-1zM12 47h1v1h-1zM48 3h1v1h-1zM49 21h1v1h-1zM7 14h1v1h-1zM6 3h1v1h-1zM53 47h1v1h-1zM39 10h1v1h-1zM71 33h1v1h-1zM60 49h1v1h-1zM2 43h1v1h-1zM14 23h1v1h-1zM4 11h1v1h-1zM17 30h1v1h-1zM45 37h1v1h-1zM7 35h1v1h-1zM33 18h1v1h-1zM67 23h1v1h-1zM70 47h1v1h-1zM2 45h1v1h-1z"/><path fill="#fff" d="M65 9h1v1h-1zM29 27h1v1h-1zM56 20h1v1h-1zM25 34h1v1h-1zM20 29h1v1h-1zM14 40h1v1h-1zM3 18h1v1h-1zM1 16h1v1h-1zM28 3h1v1h-1zM48 38h1v1h-1zM5 1h1v1h-1zM69 14h1v1h-1zM58 1h1v1h-1zM23 14h1v1h-1zM19 5h1v1h-1zM6 34h1v1h-1zM33 22h1v1h-1zM13 49h1v1h-1zM58 13h1v1h-1zM11 10h1v1h-1zM14 48h1v1h-1zM30 23h1v1h-1zM26 23h1v1h-1zM39 6h1v1h-1zM6 48h1v1h-1zM4 9h1v1h-1zM24 32h1v1h-1zM72 4h1v1h-1zM18 20h1v1h-1zM60 33h1v1h-1zM51 12h1v1h-1zM2 27h1v1h-1zM42 47h1v1h-1zM13 12h1v1h-1zM26 33h1v1h-1zM32 28h1v1h-1zM68 3h1v1h-1zM3 26h1v1h-1zM69 17h1v1h-1zM54 24h1v1h-1zM13 15h1v1h-1zM18 5h1v1h-1zM38 40h1v1h-1zM43 11h1v1h-1zM20 33h1v1h-1zM68 9h1v1h-1zM19 30h1v1h-1zM46 27h1v1h-1zM29 8h1v1h-1zM63 25h1v1h-1zM65 41h1v1h-1zM19 43h1v1h-1z"/><path fill="#888" d="M48 42h1v1h-1zM71 35h1v1h-1zM69 12h1v1h-1zM23 46h1v1h-1zM57 15h1v1h-1zM15 11h1v1h-1zM39 31h1v1h-1zM52 41h1v1h-1zM20 13h1v1h-1zM7 23h1v1h-1zM17 9h1v1h-1zM21 12h1v1h-1zM66 29h1v1h-1zM35 38h1v1h-1zM27 18h1v1h-1zM25 8h1v1h-1zM56 39h1v1h-1zM72 15h1v1h-1zM25 0h1v1h-1zM54 9h1v1h-1zM17 11h1v1h-1zM61 25h1v1h-1zM35 17h1v1h-1zM2 8h1v1h-1zM34 43h1v1h-1zM7 21h1v1h-1zM2 16h1v1h-1zM39 23h1v1h-1zM2 22h1v1h-1zM1 4h1v1h-1zM55 44h1v1h-1zM59 6h1v1h-1zM59 14h1v1h-1zM59 4h1v1h-1zM31 35h1v1h-1zM55 1h1v1h-1zM46 29h1v1h-1zM64 9h1v1h-1zM64 11h1v1h-1zM41 44h1v1h-1zM24 27h1v1h-1zM45 50h1v1h-1zM16 33h1v1h-1zM2 16h1v1h-1zM72 31h1v1h-1zM27 45h1v1h-1zM12 25h1v1h-1zM35 24h1v1h-1zM68 10h1v1h-1zM6 1h1v1h-1zM50 11h1v1h-1zM12 9h1v1h-1zM40 46h1v1h-1zM28 15h1v1h-1zM46 21h1v1h-1zM22 20h1v1h-1zM5 47h1v1h-1zM34 11h1v1h-1zM57 28h1v1h-1zM61 3h1v1h-1zM28 6h1v1h-1zM44 49h1v1h-1zM58 3h1v1h-1zM61 33h1v1h-1zM8 21h1v1h-1zM20 10h1v1h-1z"/><path fill="#aaa" d="M45 3h1v1h-1zM23 31h1v1h-1zM47 37h1v1h-1zM43 36h1v1h-1zM62 11h1v1h-1zM28 9h1v1h-1zM44 35h1v1h-1zM27 39h1v1h-1zM36 35h1v1h-1zM41 48h1v1h-1zM64 8h1v1h-1zM46 46h1v1h-1zM65 26h1v1h-1zM16 4h1v1h-1zM6 4h1v1h-1zM37 45h1v1h-1zM43 46h1v1h-1zM20 8h1v1h-1zM49 26h1v1h-1zM9 27h1v1h-1zM35 20h1v1h-1zM43 50h1v1h-1zM46 46h1v1h-1zM43 38h1v1h-1zM63 46h1v1h-1zM67 39h1v1h-1zM54 27h1v1h-1zM49 39h1v1h-1zM56 44h1v1h-1zM65 26h1v1h-1zM6 22h1v1h-1zM53 39h1v1h-1zM30 0h1v1h-1zM51 43h1v1h-1zM15 23h1v1h-1zM47 45h1v1h-1zM25 35h1v1h-1zM33 26h1v1h-1zM9 44h1v1h-1zM29 14h1v1h-1zM32 11h1v1h-1zM24 16h1v1h-1zM58 1h1v1h-1zM32 6h1v1h-1zM64 4h1v1h-1zM71 26h1v1h-1zM13 46h1v1h-1zM69 48h1v1h-1zM30 27h1v1h-1zM72 34h1v1h-1zM6 29h1v1h-1zM16 11h1v1h-1zM63 5h1v1h-1zM37 26h1v1h-1zM24 28h1v1h-1zM22 27h1v1h-1zM38 38h1v1h-1zM60 15h1v1h-1zM21 6h1v1h-1zM37 0h1v1h-1z"/><path fill="#ddd" d="M65 19h1v1h-1zM20 14h1v1h-1zM68 49h1v1h-1zM23 13h1v1h-1zM2 43h1v1h-1zM16 36h1v1h-1zM9 46h1v1h-1zM22 7h1v1h-1zM7 1h1v1h-1zM6 4h1v1h-1zM39 44h1v1h-1zM52 36h1v1h-1zM26 23h1v1h-1zM30 23h1v1h-1zM20 11h1v1h-1zM18 19h1v1h-1zM24 11h1v1h-1zM46 26h1v1h-1zM3 33h1v1h-1zM44 41h1v1h-1zM44 50h1v1h-1zM39 38h1v1h-1zM37 7h1v1h-1zM35 28h1v1h-1zM14 45h1v1h-1zM35 13h1v1h-1zM38 10h1v1h-1zM63 27h1v1h-1zM68 23h1v1h-1zM40 37h1v1h-1zM7 38h1v1h-1zM57 24h1v1h-1zM6 4h1v1h-1zM67 39h1v1h-1zM33 43h1v1h-1zM50 23h1v1h-1zM69 20h1v1h-1zM29 22h1v1h-1zM4 18h1v1h-1zM49 9h1v1h-1zM5 22h1v1h-1zM19 38h1v1h-1zM13 22h1v1h-1zM11 8h1v1h-1zM15 38h1v1h-1zM60 2h1v1h-1zM12 42h1v1h-1zM31 11h1v1h-1zM71 13h1v1h-1zM43 44h1v1h-1zM57 20h1v1h-1zM8 22h1v1h-1zM71 2h1v1h-1zM68 11h1v1h-1zM62 28h1v1h-1zM22 21h1v1h-1zM71 18h1v1h-1zM17 48h1v1h-1zM9 40h1v1h-1zM7 17h1v1h-1zM45 19h1v1h-1zM36 30h1v1h-1zM32 4h1v1h-1zM56 30h1v1h-1zM32 32h1v1h-1zM56 15h1v1h-1zM31 45h1v1h-1zM18 2h1v1h-1zM54 22h1v1h-1zM36 23h1v1h-1zM19 34h1v1h-1zM29 43h1v1h-1zM45 15h1v1h-1zM26 42h1v1h-1zM2 8h1v1h-1zM55 9h1v1h-1zM38 42h1v1h-1zM67 13h1v1h-1zM67 48h1v1h-1zM71 3h1v1h-1zM19 43h1v1h-1zM32 12h1v1h-1zM60 26h1v1h-1zM32 47h1v1h-1zM43 33h1v1h-1zM63 46h1v1h-1zM12 39h1v1h-1z"/><g fill="#8f8f8f"><ellipse cx="55" cy="0.5" rx="2" ry="1" transform="rotate(69,55,0.5)"/><ellipse cx="55" cy="50.5" rx="2" ry="1" transform="rotate(69,55,50.5)"/><ellipse cx="32.5" cy="15" rx="3" ry="1" transform="rotate(53,32.5,15)"/><ellipse cx="66" cy="15" rx="2" ry="2" transform="rotate(20,66,15)"/><ellipse cx="42" cy="10" rx="2" ry="1.5" transform="rotate(73,42,10)"/><ellipse cx="42.5" cy="19" rx="2" ry="2" transform="rotate(179,42.5,19)"/><ellipse cx="52.5" cy="32" rx="1.5" ry="1.5" transform="rotate(34,52.5,32)"/><ellipse cx="27" cy="14.5" rx="3" ry="1.5" transform="rotate(174,27,14.5)"/><ellipse cx="29.5" cy="20.5" rx="3" ry="2" transform="rotate(82,29.5,20.5)"/><ellipse cx="42" cy="38.5" rx="2.5" ry="1.5" transform="rotate(153,42,38.5)"/><ellipse cx="34.5" cy="43.5" rx="2" ry="1" transform="rotate(35,34.5,43.5)"/><ellipse cx="62" cy="20" rx="1.5" ry="1.5" transform="rotate(156,62,20)"/><ellipse cx="47" cy="42" rx="2.5" ry="1.5" transform="rotate(177,47,42)"/><ellipse cx="12" cy="29.5" rx="1.5" ry="2" transform="rotate(178,12,29.5)"/><ellipse cx="18.5" cy="16" rx="2.5" ry="1" transform="rotate(94,18.5,16)"/><ellipse cx="59" cy="0.5" rx="3" ry="2" transform="rotate(42,59,0.5)"/><ellipse cx="59" cy="50.5" rx="3" ry="2" transform="rotate(42,59,50.5)"/><ellipse cx="50" cy="30.5" rx="1.5" ry="2" transform="rotate(84,50,30.5)"/><ellipse cx="30.5" cy="16.5" rx="3" ry="1" transform="rotate(128,30.5,16.5)"/><ellipse cx="54" cy="15" rx="2.5" ry="1.5" transform="rotate(82,54,15)"/><ellipse cx="55" cy="39.5" rx="3" ry="1.5" transform="rotate(53,55,39.5)"/><ellipse cx="32.5" cy="14" rx="2.5" ry="1.5" transform="rotate(149,32.5,14)"/><ellipse cx="37.5" cy="6" rx="3" ry="1.5" transform="rotate(58,37.5,6)"/><ellipse cx="45.5" cy="17.5" rx="3" ry="2" transform="rotate(112,45.5,17.5)"/><ellipse cx="52" cy="37" rx="3" ry="1" transform="rotate(45,52,37)"/><ellipse cx="36.5" cy="39" rx="2" ry="1.5" transform="rotate(58,36.5,39)"/><ellipse cx="0.5" cy="-2" rx="2.5" ry="2" transform="rotate(163,0.5,-2)"/><ellipse cx="0.5" cy="48" rx="2.5" ry="2" transform="rotate(163,0.5,48)"/><ellipse cx="72.5" cy="-2" rx="2.5" ry="2" transform="rotate(163,72.5,-2)"/><ellipse cx="72.5" cy="48" rx="2.5" ry="2" transform="rotate(163,72.5,48)"/><ellipse cx="59.5" cy="41.5" rx="3" ry="1.5" transform="rotate(11,59.5,41.5)"/><ellipse cx="39" cy="-4" rx="1.5" ry="1.5" transform="rotate(132,39,-4)"/><ellipse cx="39" cy="46" rx="1.5" ry="1.5" transform="rotate(132,39,46)"/><ellipse cx="64" cy="28.5" rx="2.5" ry="1.5" transform="rotate(72,64,28.5)"/><ellipse cx="0.5" cy="23" rx="2.5" ry="1.5" transform="rotate(157,0.5,23)"/><ellipse cx="72.5" cy="23" rx="2.5" ry="1.5" transform="rotate(157,72.5,23)"/><ellipse cx="20" cy="7.5" rx="1.5" ry="2" transform="rotate(45,20,7.5)"/><ellipse cx="5" cy="23" rx="2.5" ry="1" transform="rotate(36,5,23)"/><ellipse cx="77" cy="23" rx="2.5" ry="1" transform="rotate(36,77,23)"/><ellipse cx="53" cy="29" rx="2" ry="2" transform="rotate(88,53,29)"/><ellipse cx="37" cy="35" rx="2" ry="1" transform="rotate(13,37,35)"/><ellipse cx="43" cy="3.5" rx="2.5" ry="1" transform="rotate(172,43,3.5)"/><ellipse cx="43" cy="53.5" rx="2.5" ry="1" transform="rotate(172,43,53.5)"/><ellipse cx="27.5" cy="16" rx="3" ry="1.5" transform="rotate(71,27.5,16)"/><ellipse cx="15.5" cy="39" rx="1.5" ry="2" transform="rotate(176,15.5,39)"/><ellipse cx="65" cy="-5.5" rx="3" ry="1.5" transform="rotate(1,65,-5.5)"/><ellipse cx="65" cy="44.5" rx="3" ry="1.5" transform="rotate(1,65,44.5)"/><ellipse cx="49" cy="24" rx="1.5" ry="2" transform="rotate(84,49,24)"/><ellipse cx="14" cy="41" rx="2.5" ry="1.5" transform="rotate(70,14,41)"/><ellipse cx="42.5" cy="31.5" rx="2.5" ry="1.5" transform="rotate(49,42.5,31.5)"/><ellipse cx="3" cy="43" rx="2.5" ry="1" transform="rotate(180,3,43)"/><ellipse cx="75" cy="43" rx="2.5" ry="1" transform="rotate(180,75,43)"/><ellipse cx="62.5" cy="9" rx="2" ry="1.5" transform="rotate(32,62.5,9)"/><ellipse cx="40.5" cy="40.5" rx="2" ry="1" transform="rotate(43,40.5,40.5)"/><ellipse cx="45" cy="35.5" rx="2.5" ry="1.5" transform="rotate(153,45,35.5)"/><ellipse cx="38" cy="0.5" rx="1.5" ry="1" transform="rotate(68,38,0.5)"/><ellipse cx="38" cy="50.5" rx="1.5" ry="1" transform="rotate(68,38,50.5)"/><ellipse cx="4" cy="30.5" rx="2.5" ry="1" transform="rotate(16,4,30.5)"/><ellipse cx="76" cy="30.5" rx="2.5" ry="1" transform="rotate(16,76,30.5)"/><ellipse cx="22" cy="17.5" rx="3" ry="1.5" transform="rotate(127,22,17.5)"/><ellipse cx="21" cy="16.5" rx="2.5" ry="1.5" transform="rotate(168,21,16.5)"/><ellipse cx="11.5" cy="10" rx="3" ry="1.5" transform="rotate(73,11.5,10)"/><ellipse cx="48" cy="23.5" rx="1.5" ry="1.5" transform="rotate(105,48,23.5)"/><ellipse cx="17.5" cy="36.5" rx="1.5" ry="2" transform="rotate(58,17.5,36.5)"/><ellipse cx="-5.5" cy="17.5" rx="2.5" ry="1.5" transform="rotate(149,-5.5,17.5)"/><ellipse cx="66.5" cy="17.5" rx="2.5" ry="1.5" transform="rotate(149,66.5,17.5)"/><ellipse cx="26.5" cy="26.5" rx="2" ry="1.5" transform="rotate(129,26.5,26.5)"/><ellipse cx="8.5" cy="-3.5" rx="2" ry="2" transform="rotate(162,8.5,-3.5)"/><ellipse cx="8.5" cy="46.5" rx="2" ry="2" transform="rotate(162,8.5,46.5)"/><ellipse cx="37" cy="36.5" rx="3" ry="1.5" transform="rotate(67,37,36.5)"/><ellipse cx="15" cy="33" rx="1.5" ry="1.5" transform="rotate(70,15,33)"/><ellipse cx="37" cy="9.5" rx="3" ry="2" transform="rotate(126,37,9.5)"/><ellipse cx="35" cy="-0.5" rx="2.5" ry="1" transform="rotate(84,35,-0.5)"/><ellipse cx="35" cy="49.5" rx="2.5" ry="1" transform="rotate(84,35,49.5)"/><ellipse cx="40" cy="4.5" rx="3" ry="1" transform="rotate(115,40,4.5)"/><ellipse cx="40" cy="54.5" rx="3" ry="1" transform="rotate(115,40,54.5)"/><ellipse cx="3" cy="7.5" rx="2" ry="1.5" transform="rotate(180,3,7.5)"/><ellipse cx="75" cy="7.5" rx="2" ry="1.5" transform="rotate(180,75,7.5)"/><ellipse cx="42.5" cy="-5" rx="2" ry="1" transform="rotate(34,42.5,-5)"/><ellipse cx="42.5" cy="45" rx="2" ry="1" transform="rotate(34,42.5,45)"/></g><g fill="#a0a0a0"><ellipse cx="23.5" cy="2" rx="2" ry="1.5" transform="rotate(157,23.5,2)"/><ellipse cx="23.5" cy="52" rx="2" ry="1.5" transform="rotate(157,23.5,52)"/><ellipse cx="11" cy="32.5" rx="2.5" ry="1.5" transform="rotate(66,11,32.5)"/><ellipse cx="42" cy="14" rx="1.5" ry="1.5" transform="rotate(61,42,14)"/><ellipse cx="12" cy="6" rx="1.5" ry="1" transform="rotate(37,12,6)"/><ellipse cx="12" cy="56" rx="1.5" ry="1" transform="rotate(37,12,56)"/><ellipse cx="53.5" cy="1" rx="1.5" ry="1" transform="rotate(152,53.5,1)"/><ellipse cx="53.5" cy="51" rx="1.5" ry="1" transform="rotate(152,53.5,51)"/><ellipse cx="-6" cy="21" rx="2.5" ry="1" transform="rotate(38,-6,21)"/><ellipse cx="66" cy="21" rx="2.5" ry="1" transform="rotate(38,66,21)"/><ellipse cx="56.5" cy="28" rx="2.5" ry="1" transform="rotate(172,56.5,28)"/><ellipse cx="11.5" cy="19" rx="1.5" ry="1" transform="rotate(86,11.5,19)"/><ellipse cx="-2" cy="21" rx="3" ry="1" transform="rotate(27,-2,21)"/><ellipse cx="70" cy="21" rx="3" ry="1" transform="rotate(27,70,21)"/><ellipse cx="59" cy="8" rx="2" ry="2" transform="rotate(104,59,8)"/><ellipse cx="59" cy="41" rx="1.5" ry="2" transform="rotate(1,59,41)"/><ellipse cx="23.5" cy="24.5" rx="2" ry="1.5" transform="rotate(141,23.5,24.5)"/><ellipse cx="41" cy="13.5" rx="1.5" ry="1" transform="rotate(132,41,13.5)"/><ellipse cx="48.5" cy="5" rx="1.5" ry="2" transform="rotate(149,48.5,5)"/><ellipse cx="48.5" cy="55" rx="1.5" ry="2" transform="rotate(149,48.5,55)"/><ellipse cx="-5" cy="23.5" rx="2" ry="1.5" transform="rotate(12,-5,23.5)"/><ellipse cx="67" cy="23.5" rx="2" ry="1.5" transform="rotate(12,67,23.5)"/><ellipse cx="28" cy="6" rx="3" ry="1.5" transform="rotate(151,28,6)"/><ellipse cx="44" cy="26" rx="2" ry="1.5" transform="rotate(143,44,26)"/><ellipse cx="65" cy="9" rx="3" ry="1.5" transform="rotate(110,65,9)"/><ellipse cx="1" cy="0" rx="2.5" ry="1" transform="rotate(29,1,0)"/><ellipse cx="1" cy="50" rx="2.5" ry="1" transform="rotate(29,1,50)"/><ellipse cx="73" cy="0" rx="2.5" ry="1" transform="rotate(29,73,0)"/><ellipse cx="73" cy="50" rx="2.5" ry="1" transform="rotate(29,73,50)"/><ellipse cx="32.5" cy="40" rx="2.5" ry="2" transform="rotate(38,32.5,40)"/><ellipse cx="13.5" cy="18.5" rx="2" ry="2" transform="rotate(136,13.5,18.5)"/><ellipse cx="29.5" cy="8.5" rx="1.5" ry="1" transform="rotate(178,29.5,8.5)"/><ellipse cx="-5.5" cy="27" rx="2.5" ry="1" transform="rotate(82,-5.5,27)"/><ellipse cx="66.5" cy="27" rx="2.5" ry="1" transform="rotate(82,66.5,27)"/><ellipse cx="55.5" cy="19" rx="2.5" ry="2" transform="rotate(38,55.5,19)"/><ellipse cx="-4.5" cy="11" rx="1.5" ry="1.5" transform="rotate(44,-4.5,11)"/><ellipse cx="67.5" cy="11" rx="1.5" ry="1.5" transform="rotate(44,67.5,11)"/><ellipse cx="64" cy="-3.5" rx="2.5" ry="1.5" transform="rotate(63,64,-3.5)"/><ellipse cx="64" cy="46.5" rx="2.5" ry="1.5" transform="rotate(63,64,46.5)"/><ellipse cx="37" cy="29" rx="2" ry="2" transform="rotate(129,37,29)"/><ellipse cx="58.5" cy="20.5" rx="2.5" ry="1.5" transform="rotate(117,58.5,20.5)"/><ellipse cx="63.5" cy="37" rx="1.5" ry="2" transform="rotate(158,63.5,37)"/><ellipse cx="4.5" cy="0" rx="2.5" ry="1.5" transform="rotate(75,4.5,0)"/><ellipse cx="4.5" cy="50" rx="2.5" ry="1.5" transform="rotate(75,4.5,50)"/><ellipse cx="76.5" cy="0" rx="2.5" ry="1.5" transform="rotate(75,76.5,0)"/><ellipse cx="76.5" cy="50" rx="2.5" ry="1.5" transform="rotate(75,76.5,50)"/><ellipse cx="32" cy="43.5" rx="3" ry="2" transform="rotate(39,32,43.5)"/><ellipse cx="46.5" cy="20" rx="2.5" ry="2" transform="rotate(88,46.5,20)"/><ellipse cx="60.5" cy="4.5" rx="2" ry="1" transform="rotate(105,60.5,4.5)"/><ellipse cx="60.5" cy="54.5" rx="2" ry="1" transform="rotate(105,60.5,54.5)"/><ellipse cx="15" cy="30.5" rx="2" ry="1" transform="rotate(125,15,30.5)"/><ellipse cx="11" cy="3.5" rx="2" ry="1.5" transform="rotate(175,11,3.5)"/><ellipse cx="11" cy="53.5" rx="2" ry="1.5" transform="rotate(175,11,53.5)"/><ellipse cx="34.5" cy="11.5" rx="3" ry="1" transform="rotate(107,34.5,11.5)"/><ellipse cx="2.5" cy="26" rx="2" ry="1.5" transform="rotate(111,2.5,26)"/><ellipse cx="74.5" cy="26" rx="2" ry="1.5" transform="rotate(111,74.5,26)"/><ellipse cx="46" cy="35" rx="2" ry="1.5" transform="rotate(64,46,35)"/><ellipse cx="6" cy="6" rx="1.5" ry="1.5" transform="rotate(19,6,6)"/><ellipse cx="6" cy="56" rx="1.5" ry="1.5" transform="rotate(19,6,56)"/><ellipse cx="3.5" cy="28.5" rx="2.5" ry="2" transform="rotate(159,3.5,28.5)"/><ellipse cx="75.5" cy="28.5" rx="2.5" ry="2" transform="rotate(159,75.5,28.5)"/><ellipse cx="38" cy="5.5" rx="1.5" ry="2" transform="rotate(85,38,5.5)"/><ellipse cx="38" cy="55.5" rx="1.5" ry="2" transform="rotate(85,38,55.5)"/><ellipse cx="1.5" cy="-5.5" rx="1.5" ry="1.5" transform="rotate(170,1.5,-5.5)"/><ellipse cx="1.5" cy="44.5" rx="1.5" ry="1.5" transform="rotate(170,1.5,44.5)"/><ellipse cx="73.5" cy="-5.5" rx="1.5" ry="1.5" transform="rotate(170,73.5,-5.5)"/><ellipse cx="73.5" cy="44.5" rx="1.5" ry="1.5" transform="rotate(170,73.5,44.5)"/><ellipse cx="56" cy="21" rx="3" ry="2" transform="rotate(103,56,21)"/><ellipse cx="56.5" cy="30" rx="3" ry="1.5" transform="rotate(105,56.5,30)"/><ellipse cx="16" cy="22" rx="2.5" ry="1.5" transform="rotate(145,16,22)"/><ellipse cx="38" cy="5.5" rx="2.5" ry="2" transform="rotate(66,38,5.5)"/><ellipse cx="38" cy="55.5" rx="2.5" ry="2" transform="rotate(66,38,55.5)"/><ellipse cx="0" cy="15" rx="2.5" ry="1" transform="rotate(45,0,15)"/><ellipse cx="72" cy="15" rx="2.5" ry="1" transform="rotate(45,72,15)"/><ellipse cx="19" cy="10.5" rx="2" ry="1" transform="rotate(121,19,10.5)"/><ellipse cx="14" cy="0.5" rx="2" ry="1.5" transform="rotate(41,14,0.5)"/><ellipse cx="14" cy="50.5" rx="2" ry="1.5" transform="rotate(41,14,50.5)"/><ellipse cx="63" cy="36" rx="2.5" ry="2" transform="rotate(44,63,36)"/><ellipse cx="5" cy="28.5" rx="1.5" ry="1.5" transform="rotate(137,5,28.5)"/><ellipse cx="77" cy="28.5" rx="1.5" ry="1.5" transform="rotate(137,77,28.5)"/><ellipse cx="23.5" cy="27" rx="1.5" ry="1.5" transform="rotate(112,23.5,27)"/><ellipse cx="-3" cy="42.5" rx="2" ry="2" transform="rotate(97,-3,42.5)"/><ellipse cx="69" cy="42.5" rx="2" ry="2" transform="rotate(97,69,42.5)"/><ellipse cx="65.5" cy="18" rx="2.5" ry="1.5" transform="rotate(92,65.5,18)"/><ellipse cx="65.5" cy="8.5" rx="3" ry="1.5" transform="rotate(82,65.5,8.5)"/><ellipse cx="21.5" cy="10" rx="1.5" ry="2" transform="rotate(137,21.5,10)"/><ellipse cx="-3.5" cy="33" rx="3" ry="1.5" transform="rotate(157,-3.5,33)"/><ellipse cx="68.5" cy="33" rx="3" ry="1.5" transform="rotate(157,68.5,33)"/></g><g fill="#b3b3b3"><ellipse cx="18.5" cy="18.5" rx="3" ry="1.5" transform="rotate(37,18.5,18.5)"/><ellipse cx="1.5" cy="36.5" rx="2.5" ry="2" transform="rotate(143,1.5,36.5)"/><ellipse cx="73.5" cy="36.5" rx="2.5" ry="2" transform="rotate(143,73.5,36.5)"/><ellipse cx="9" cy="23" rx="2.5" ry="1.5" transform="rotate(180,9,23)"/><ellipse cx="51.5" cy="-5.5" rx="2" ry="1" transform="rotate(142,51.5,-5.5)"/><ellipse cx="51.5" cy="44.5" rx="2" ry="1" transform="rotate(142,51.5,44.5)"/><ellipse cx="42.5" cy="-2" rx="3" ry="1.5" transform="rotate(166,42.5,-2)"/><ellipse cx="42.5" cy="48" rx="3" ry="1.5" transform="rotate(166,42.5,48)"/><ellipse cx="59.5" cy="5" rx="1.5" ry="2" transform="rotate(102,59.5,5)"/><ellipse cx="59.5" cy="55" rx="1.5" ry="2" transform="rotate(102,59.5,55)"/><ellipse cx="15.5" cy="14" rx="2.5" ry="1" transform="rotate(124,15.5,14)"/><ellipse cx="49" cy="15.5" rx="2.5" ry="2" transform="rotate(170,49,15.5)"/><ellipse cx="9.5" cy="38" rx="3" ry="1" transform="rotate(101,9.5,38)"/><ellipse cx="58.5" cy="24.5" rx="3" ry="2" transform="rotate(117,58.5,24.5)"/><ellipse cx="57" cy="14" rx="3" ry="1.5" transform="rotate(125,57,14)"/><ellipse cx="19.5" cy="25.5" rx="2.5" ry="1.5" transform="rotate(118,19.5,25.5)"/><ellipse cx="29.5" cy="23.5" rx="2.5" ry="1" transform="rotate(19,29.5,23.5)"/><ellipse cx="4" cy="-3.5" rx="2.5" ry="1" transform="rotate(156,4,-3.5)"/><ellipse cx="4" cy="46.5" rx="2.5" ry="1" transform="rotate(156,4,46.5)"/><ellipse cx="76" cy="-3.5" rx="2.5" ry="1" transform="rotate(156,76,-3.5)"/><ellipse cx="76" cy="46.5" rx="2.5" ry="1" transform="rotate(156,76,46.5)"/><ellipse cx="53" cy="30" rx="2" ry="1.5" transform="rotate(23,53,30)"/><ellipse cx="3.5" cy="26.5" rx="2.5" ry="1.5" transform="rotate(43,3.5,26.5)"/><ellipse cx="75.5" cy="26.5" rx="2.5" ry="1.5" transform="rotate(43,75.5,26.5)"/><ellipse cx="49.5" cy="22" rx="2.5" ry="1" transform="rotate(7,49.5,22)"/><ellipse cx="44.5" cy="14.5" rx="2.5" ry="1.5" transform="rotate(110,44.5,14.5)"/><ellipse cx="58.5" cy="4" rx="2" ry="1" transform="rotate(7,58.5,4)"/><ellipse cx="58.5" cy="54" rx="2" ry="1" transform="rotate(7,58.5,54)"/><ellipse cx="60" cy="20" rx="2" ry="1.5" transform="rotate(0,60,20)"/><ellipse cx="3.5" cy="38" rx="1.5" ry="2" transform="rotate(28,3.5,38)"/><ellipse cx="75.5" cy="38" rx="1.5" ry="2" transform="rotate(28,75.5,38)"/><ellipse cx="-5.5" cy="-3.5" rx="3" ry="1" transform="rotate(52,-5.5,-3.5)"/><ellipse cx="-5.5" cy="46.5" rx="3" ry="1" transform="rotate(52,-5.5,46.5)"/><ellipse cx="66.5" cy="-3.5" rx="3" ry="1" transform="rotate(52,66.5,-3.5)"/><ellipse cx="66.5" cy="46.5" rx="3" ry="1" transform="rotate(52,66.5,46.5)"/><ellipse cx="65.5" cy="-3.5" rx="2.5" ry="1.5" transform="rotate(66,65.5,-3.5)"/><ellipse cx="65.5" cy="46.5" rx="2.5" ry="1.5" transform="rotate(66,65.5,46.5)"/><ellipse cx="34.5" cy="14.5" rx="2" ry="1" transform="rotate(41,34.5,14.5)"/><ellipse cx="24" cy="-2" rx="3" ry="2" transform="rotate(133,24,-2)"/><ellipse cx="24" cy="48" rx="3" ry="2" transform="rotate(133,24,48)"/><ellipse cx="49.5" cy="33.5" rx="2" ry="2" transform="rotate(62,49.5,33.5)"/><ellipse cx="19.5" cy="5.5" rx="2.5" ry="2" transform="rotate(117,19.5,5.5)"/><ellipse cx="19.5" cy="55.5" rx="2.5" ry="2" transform="rotate(117,19.5,55.5)"/><ellipse cx="65.5" cy="17" rx="2" ry="1.5" transform="rotate(32,65.5,17)"/><ellipse cx="-2" cy="19" rx="2.5" ry="1.5" transform="rotate(51,-2,19)"/><ellipse cx="70" cy="19" rx="2.5" ry="1.5" transform="rotate(51,70,19)"/><ellipse cx="13" cy="9.5" rx="1.5" ry="1.5" transform="rotate(46,13,9.5)"/><ellipse cx="2.5" cy="24.5" rx="3" ry="2" transform="rotate(169,2.5,24.5)"/><ellipse cx="74.5" cy="24.5" rx="3" ry="2" transform="rotate(169,74.5,24.5)"/><ellipse cx="26" cy="22" rx="3" ry="1.5" transform="rotate(14,26,22)"/><ellipse cx="42" cy="14" rx="1.5" ry="2" transform="rotate(109,42,14)"/><ellipse cx="42.5" cy="10" rx="2" ry="1.5" transform="rotate(172,42.5,10)"/><ellipse cx="62.5" cy="21" rx="3" ry="1" transform="rotate(6,62.5,21)"/><ellipse cx="25" cy="-2" rx="3" ry="1.5" transform="rotate(37,25,-2)"/><ellipse cx="25" cy="48" rx="3" ry="1.5" transform="rotate(37,25,48)"/><ellipse cx="47" cy="34" rx="3" ry="2" transform="rotate(168,47,34)"/><ellipse cx="56" cy="36.5" rx="3" ry="2" transform="rotate(101,56,36.5)"/><ellipse cx="-3" cy="7" rx="1.5" ry="1.5" transform="rotate(64,-3,7)"/><ellipse cx="69" cy="7" rx="1.5" ry="1.5" transform="rotate(64,69,7)"/><ellipse cx="-5" cy="43" rx="1.5" ry="1" transform="rotate(57,-5,43)"/><ellipse cx="67" cy="43" rx="1.5" ry="1" transform="rotate(57,67,43)"/><ellipse cx="0.5" cy="17" rx="3" ry="2" transform="rotate(85,0.5,17)"/><ellipse cx="72.5" cy="17" rx="3" ry="2" transform="rotate(85,72.5,17)"/><ellipse cx="30" cy="41.5" rx="2.5" ry="1.5" transform="rotate(46,30,41.5)"/><ellipse cx="40.5" cy="29.5" rx="1.5" ry="1" transform="rotate(100,40.5,29.5)"/><ellipse cx="-5.5" cy="-0.5" rx="2" ry="1" transform="rotate(91,-5.5,-0.5)"/><ellipse cx="-5.5" cy="49.5" rx="2" ry="1" transform="rotate(91,-5.5,49.5)"/><ellipse cx="66.5" cy="-0.5" rx="2" ry="1" transform="rotate(91,66.5,-0.5)"/><ellipse cx="66.5" cy="49.5" rx="2" ry="1" transform="rotate(91,66.5,49.5)"/><ellipse cx="45" cy="3" rx="2" ry="1.5" transform="rotate(84,45,3)"/><ellipse cx="45" cy="53" rx="2" ry="1.5" transform="rotate(84,45,53)"/><ellipse cx="17" cy="11" rx="2" ry="1.5" transform="rotate(162,17,11)"/><ellipse cx="47" cy="-4.5" rx="2" ry="1.5" transform="rotate(94,47,-4.5)"/><ellipse cx="47" cy="45.5" rx="2" ry="1.5" transform="rotate(94,47,45.5)"/><ellipse cx="52" cy="2" rx="2.5" ry="1.5" transform="rotate(88,52,2)"/><ellipse cx="52" cy="52" rx="2.5" ry="1.5" transform="rotate(88,52,52)"/><ellipse cx="3.5" cy="3.5" rx="1.5" ry="1.5" transform="rotate(89,3.5,3.5)"/><ellipse cx="3.5" cy="53.5" rx="1.5" ry="1.5" transform="rotate(89,3.5,53.5)"/><ellipse cx="75.5" cy="3.5" rx="1.5" ry="1.5" transform="rotate(89,75.5,3.5)"/><ellipse cx="75.5" cy="53.5" rx="1.5" ry="1.5" transform="rotate(89,75.5,53.5)"/></g><g fill="#7d7d7d"><ellipse cx="47" cy="-4" rx="2" ry="1.5" transform="rotate(111,47,-4)"/><ellipse cx="47" cy="46" rx="2" ry="1.5" transform="rotate(111,47,46)"/><ellipse cx="54.5" cy="40" rx="2.5" ry="1" transform="rotate(78,54.5,40)"/><ellipse cx="24.5" cy="11" rx="2.5" ry="2" transform="rotate(99,24.5,11)"/><ellipse cx="29.5" cy="17.5" rx="3" ry="1" transform="rotate(34,29.5,17.5)"/><ellipse cx="36" cy="35" rx="2" ry="1.5" transform="rotate(100,36,35)"/><ellipse cx="61.5" cy="21.5" rx="3" ry="1.5" transform="rotate(124,61.5,21.5)"/><ellipse cx="21.5" cy="2" rx="2.5" ry="1" transform="rotate(9,21.5,2)"/><ellipse cx="21.5" cy="52" rx="2.5" ry="1" transform="rotate(9,21.5,52)"/><ellipse cx="53.5" cy="0" rx="3" ry="1" transform="rotate(176,53.5,0)"/><ellipse cx="53.5" cy="50" rx="3" ry="1" transform="rotate(176,53.5,50)"/><ellipse cx="42" cy="39" rx="2.5" ry="1" transform="rotate(59,42,39)"/><ellipse cx="6.5" cy="21.5" rx="2" ry="2" transform="rotate(40,6.5,21.5)"/><ellipse cx="18.5" cy="36.5" rx="2" ry="1.5" transform="rotate(102,18.5,36.5)"/><ellipse cx="-3" cy="24" rx="2" ry="1.5" transform="rotate(55,-3,24)"/><ellipse cx="69" cy="24" rx="2" ry="1.5" transform="rotate(55,69,24)"/><ellipse cx="25.5" cy="12.5" rx="2.5" ry="1" transform="rotate(147,25.5,12.5)"/><ellipse cx="-5.5" cy="23" rx="2" ry="2" transform="rotate(128,-5.5,23)"/><ellipse cx="66.5" cy="23" rx="2" ry="2" transform="rotate(128,66.5,23)"/><ellipse cx="47.5" cy="11.5" rx="2" ry="1" transform="rotate(34,47.5,11.5)"/><ellipse cx="44.5" cy="27.5" rx="2.5" ry="1.5" transform="rotate(161,44.5,27.5)"/><ellipse cx="2" cy="40.5" rx="2.5" ry="1" transform="rotate(76,2,40.5)"/><ellipse cx="74" cy="40.5" rx="2.5" ry="1" transform="rotate(76,74,40.5)"/><ellipse cx="56" cy="42.5" rx="1.5" ry="1.5" transform="rotate(72,56,42.5)"/><ellipse cx="33" cy="43" rx="2" ry="1" transform="rotate(112,33,43)"/><ellipse cx="18" cy="8.5" rx="2" ry="2" transform="rotate(9,18,8.5)"/><ellipse cx="44" cy="19.5" rx="1.5" ry="2" transform="rotate(97,44,19.5)"/><ellipse cx="30.5" cy="33" rx="3" ry="1" transform="rotate(1,30.5,33)"/><ellipse cx="8" cy="32.5" rx="2" ry="1.5" transform="rotate(170,8,32.5)"/><ellipse cx="10.5" cy="6.5" rx="2.5" ry="1" transform="rotate(87,10.5,6.5)"/><ellipse cx="22.5" cy="4.5" rx="1.5" ry="1.5" transform="rotate(16,22.5,4.5)"/><ellipse cx="22.5" cy="54.5" rx="1.5" ry="1.5" transform="rotate(16,22.5,54.5)"/><ellipse cx="6" cy="7" rx="2.5" ry="2" transform="rotate(153,6,7)"/><ellipse cx="1" cy="-2.5" rx="3" ry="1.5" transform="rotate(141,1,-2.5)"/><ellipse cx="1" cy="47.5" rx="3" ry="1.5" transform="rotate(141,1,47.5)"/><ellipse cx="73" cy="-2.5" rx="3" ry="1.5" transform="rotate(141,73,-2.5)"/><ellipse cx="73" cy="47.5" rx="3" ry="1.5" transform="rotate(141,73,47.5)"/><ellipse cx="36" cy="33" rx="3" ry="1.5" transform="rotate(140,36,33)"/><ellipse cx="16" cy="0" rx="2" ry="1" transform="rotate(72,16,0)"/><ellipse cx="16" cy="50" rx="2" ry="1" transform="rotate(72,16,50)"/><ellipse cx="20.5" cy="12" rx="3" ry="1.5" transform="rotate(150,20.5,12)"/><ellipse cx="46.5" cy="1" rx="2.5" ry="1.5" transform="rotate(92,46.5,1)"/><ellipse cx="46.5" cy="51" rx="2.5" ry="1.5" transform="rotate(92,46.5,51)"/><ellipse cx="26" cy="21" rx="2.5" ry="1.5" transform="rotate(80,26,21)"/><ellipse cx="11.5" cy="9" rx="2.5" ry="1.5" transform="rotate(138,11.5,9)"/><ellipse cx="18.5" cy="7" rx="2.5" ry="1.5" transform="rotate(28,18.5,7)"/><ellipse cx="16.5" cy="6.5" rx="2.5" ry="2" transform="rotate(67,16.5,6.5)"/><ellipse cx="4.5" cy="42" rx="3" ry="2" transform="rotate(151,4.5,42)"/><ellipse cx="76.5" cy="42" rx="3" ry="2" transform="rotate(151,76.5,42)"/><ellipse cx="55" cy="34.5" rx="3" ry="1" transform="rotate(30,55,34.5)"/><ellipse cx="63" cy="1.5" rx="3" ry="2" transform="rotate(48,63,1.5)"/><ellipse cx="63" cy="51.5" rx="3" ry="2" transform="rotate(48,63,51.5)"/><ellipse cx="43" cy="32.5" rx="1.5" ry="2" transform="rotate(140,43,32.5)"/><ellipse cx="32" cy="-1.5" rx="1.5" ry="2" transform="rotate(51,32,-1.5)"/><ellipse cx="32" cy="48.5" rx="1.5" ry="2" transform="rotate(51,32,48.5)"/><ellipse cx="52.5" cy="16.5" rx="1.5" ry="2" transform="rotate(97,52.5,16.5)"/><ellipse cx="63.5" cy="5.5" rx="1.5" ry="1" transform="rotate(72,63.5,5.5)"/><ellipse cx="63.5" cy="55.5" rx="1.5" ry="1" transform="rotate(72,63.5,55.5)"/><ellipse cx="-1.5" cy="9.5" rx="1.5" ry="1" transform="rotate(178,-1.5,9.5)"/><ellipse cx="70.5" cy="9.5" rx="1.5" ry="1" transform="rotate(178,70.5,9.5)"/><ellipse cx="48.5" cy="-4.5" rx="2.5" ry="1.5" transform="rotate(49,48.5,-4.5)"/><ellipse cx="48.5" cy="45.5" rx="2.5" ry="1.5" transform="rotate(49,48.5,45.5)"/><ellipse cx="1.5" cy="2.5" rx="2" ry="1.5" transform="rotate(10,1.5,2.5)"/><ellipse cx="1.5" cy="52.5" rx="2" ry="1.5" transform="rotate(10,1.5,52.5)"/><ellipse cx="73.5" cy="2.5" rx="2" ry="1.5" transform="rotate(10,73.5,2.5)"/><ellipse cx="73.5" cy="52.5" rx="2" ry="1.5" transform="rotate(10,73.5,52.5)"/><ellipse cx="17.5" cy="9" rx="2" ry="1.5" transform="rotate(80,17.5,9)"/><ellipse cx="42.5" cy="1.5" rx="2" ry="1" transform="rotate(58,42.5,1.5)"/><ellipse cx="42.5" cy="51.5" rx="2" ry="1" transform="rotate(58,42.5,51.5)"/><ellipse cx="34.5" cy="7.5" rx="3" ry="1.5" transform="rotate(24,34.5,7.5)"/><ellipse cx="52.5" cy="15" rx="2.5" ry="1" transform="rotate(19,52.5,15)"/><ellipse cx="60" cy="33.5" rx="2.5" ry="1.5" transform="rotate(33,60,33.5)"/><ellipse cx="46.5" cy="25" rx="2" ry="1" transform="rotate(27,46.5,25)"/><ellipse cx="28" cy="36" rx="3" ry="2" transform="rotate(90,28,36)"/><ellipse cx="16.5" cy="24" rx="2" ry="1" transform="rotate(33,16.5,24)"/><ellipse cx="11" cy="36.5" rx="1.5" ry="1.5" transform="rotate(121,11,36.5)"/><ellipse cx="3" cy="-2.5" rx="2" ry="2" transform="rotate(111,3,-2.5)"/><ellipse cx="3" cy="47.5" rx="2" ry="2" transform="rotate(111,3,47.5)"/><ellipse cx="75" cy="-2.5" rx="2" ry="2" transform="rotate(111,75,-2.5)"/><ellipse cx="75" cy="47.5" rx="2" ry="2" transform="rotate(111,75,47.5)"/><ellipse cx="22" cy="16" rx="3" ry="1.5" transform="rotate(41,22,16)"/><ellipse cx="40" cy="39" rx="2.5" ry="1" transform="rotate(114,40,39)"/><ellipse cx="44.5" cy="-3" rx="2.5" ry="1.5" transform="rotate(151,44.5,-3)"/><ellipse cx="44.5" cy="47" rx="2.5" ry="1.5" transform="rotate(151,44.5,47)"/><ellipse cx="20.5" cy="6" rx="1.5" ry="1.5" transform="rotate(5,20.5,6)"/><ellipse cx="10.5" cy="34" rx="3" ry="1" transform="rotate(133,10.5,34)"/><ellipse cx="61" cy="-1.5" rx="2" ry="2" transform="rotate(134,61,-1.5)"/><ellipse cx="61" cy="48.5" rx="2" ry="2" transform="rotate(134,61,48.5)"/><ellipse cx="23.5" cy="17" rx="2" ry="1.5" transform="rotate(68,23.5,17)"/><ellipse cx="33.5" cy="27" rx="3" ry="1" transform="rotate(126,33.5,27)"/></g><g fill="#c0c0c0"><ellipse cx="36" cy="32.5" rx="2" ry="1" transform="rotate(90,36,32.5)"/><ellipse cx="38" cy="42.5" rx="2.5" ry="2" transform="rotate(106,38,42.5)"/><ellipse cx="52.5" cy="26.5" rx="3" ry="1.5" transform="rotate(114,52.5,26.5)"/><ellipse cx="42" cy="6" rx="3" ry="1.5" transform="rotate(40,42,6)"/><ellipse cx="15" cy="23.5" rx="2.5" ry="1" transform="rotate(40,15,23.5)"/><ellipse cx="48" cy="4.5" rx="3" ry="1.5" transform="rotate(96,48,4.5)"/><ellipse cx="48" cy="54.5" rx="3" ry="1.5" transform="rotate(96,48,54.5)"/><ellipse cx="-2.5" cy="1" rx="2" ry="1.5" transform="rotate(125,-2.5,1)"/><ellipse cx="-2.5" cy="51" rx="2" ry="1.5" transform="rotate(125,-2.5,51)"/><ellipse cx="69.5" cy="1" rx="2" ry="1.5" transform="rotate(125,69.5,1)"/><ellipse cx="69.5" cy="51" rx="2" ry="1.5" transform="rotate(125,69.5,51)"/><ellipse cx="58.5" cy="13.5" rx="2.5" ry="1.5" transform="rotate(76,58.5,13.5)"/><ellipse cx="28" cy="27.5" rx="2.5" ry="1.5" transform="rotate(15,28,27.5)"/><ellipse cx="32.5" cy="4.5" rx="2" ry="1" transform="rotate(73,32.5,4.5)"/><ellipse cx="32.5" cy="54.5" rx="2" ry="1" transform="rotate(73,32.5,54.5)"/><ellipse cx="33.5" cy="1" rx="3" ry="2" transform="rotate(129,33.5,1)"/><ellipse cx="33.5" cy="51" rx="3" ry="2" transform="rotate(129,33.5,51)"/><ellipse cx="49.5" cy="8" rx="3" ry="2" transform="rotate(33,49.5,8)"/><ellipse cx="50.5" cy="17.5" rx="2" ry="1" transform="rotate(17,50.5,17.5)"/><ellipse cx="56.5" cy="36" rx="2" ry="1" transform="rotate(53,56.5,36)"/><ellipse cx="28" cy="2" rx="1.5" ry="1" transform="rotate(95,28,2)"/><ellipse cx="28" cy="52" rx="1.5" ry="1" transform="rotate(95,28,52)"/><ellipse cx="60.5" cy="0.5" rx="3" ry="1.5" transform="rotate(20,60.5,0.5)"/><ellipse cx="60.5" cy="50.5" rx="3" ry="1.5" transform="rotate(20,60.5,50.5)"/><ellipse cx="65" cy="18" rx="2.5" ry="1.5" transform="rotate(60,65,18)"/><ellipse cx="-2.5" cy="24.5" rx="3" ry="1" transform="rotate(24,-2.5,24.5)"/><ellipse cx="69.5" cy="24.5" rx="3" ry="1" transform="rotate(24,69.5,24.5)"/><ellipse cx="9.5" cy="40.5" rx="1.5" ry="1" transform="rotate(75,9.5,40.5)"/><ellipse cx="11" cy="37.5" rx="3" ry="1.5" transform="rotate(15,11,37.5)"/><ellipse cx="19" cy="-2.5" rx="1.5" ry="2" transform="rotate(99,19,-2.5)"/><ellipse cx="19" cy="47.5" rx="1.5" ry="2" transform="rotate(99,19,47.5)"/><ellipse cx="11" cy="39" rx="1.5" ry="1.5" transform="rotate(63,11,39)"/><ellipse cx="19" cy="-1.5" rx="2.5" ry="1" transform="rotate(32,19,-1.5)"/><ellipse cx="19" cy="48.5" rx="2.5" ry="1" transform="rotate(32,19,48.5)"/><ellipse cx="-3" cy="0" rx="2.5" ry="2" transform="rotate(0,-3,0)"/><ellipse cx="-3" cy="50" rx="2.5" ry="2" transform="rotate(0,-3,50)"/><ellipse cx="69" cy="0" rx="2.5" ry="2" transform="rotate(0,69,0)"/><ellipse cx="69" cy="50" rx="2.5" ry="2" transform="rotate(0,69,50)"/><ellipse cx="47.5" cy="40" rx="2.5" ry="2" transform="rotate(56,47.5,40)"/><ellipse cx="55" cy="-2" rx="1.5" ry="1" transform="rotate(36,55,-2)"/><ellipse cx="55" cy="48" rx="1.5" ry="1" transform="rotate(36,55,48)"/><ellipse cx="23" cy="0" rx="3" ry="1.5" transform="rotate(52,23,0)"/><ellipse cx="23" cy="50" rx="3" ry="1.5" transform="rotate(52,23,50)"/><ellipse cx="-3.5" cy="15" rx="2.5" ry="2" transform="rotate(9,-3.5,15)"/><ellipse cx="68.5" cy="15" rx="2.5" ry="2" transform="rotate(9,68.5,15)"/><ellipse cx="53" cy="43" rx="1.5" ry="2" transform="rotate(136,53,43)"/><ellipse cx="16" cy="39.5" rx="2" ry="1.5" transform="rotate(131,16,39.5)"/><ellipse cx="51" cy="39" rx="2" ry="1" transform="rotate(74,51,39)"/><ellipse cx="51.5" cy="23" rx="2" ry="2" transform="rotate(82,51.5,23)"/><ellipse cx="40" cy="-4" rx="2.5" ry="1.5" transform="rotate(178,40,-4)"/><ellipse cx="40" cy="46" rx="2.5" ry="1.5" transform="rotate(178,40,46)"/><ellipse cx="25" cy="43" rx="1.5" ry="1.5" transform="rotate(117,25,43)"/><ellipse cx="48" cy="40" rx="1.5" ry="2" transform="rotate(122,48,40)"/><ellipse cx="59" cy="31.5" rx="2" ry="1" transform="rotate(180,59,31.5)"/><ellipse cx="50" cy="6" rx="2" ry="1.5" transform="rotate(88,50,6)"/><ellipse cx="63.5" cy="27" rx="1.5" ry="1.5" transform="rotate(10,63.5,27)"/><ellipse cx="-3" cy="37" rx="2.5" ry="1.5" transform="rotate(98,-3,37)"/><ellipse cx="69" cy="37" rx="2.5" ry="1.5" transform="rotate(98,69,37)"/><ellipse cx="11" cy="26.5" rx="2.5" ry="1.5" transform="rotate(56,11,26.5)"/><ellipse cx="38.5" cy="2.5" rx="1.5" ry="1.5" transform="rotate(136,38.5,2.5)"/><ellipse cx="38.5" cy="52.5" rx="1.5" ry="1.5" transform="rotate(136,38.5,52.5)"/><ellipse cx="61.5" cy="13" rx="2" ry="1" transform="rotate(118,61.5,13)"/><ellipse cx="-2.5" cy="0.5" rx="2.5" ry="1" transform="rotate(108,-2.5,0.5)"/><ellipse cx="-2.5" cy="50.5" rx="2.5" ry="1" transform="rotate(108,-2.5,50.5)"/><ellipse cx="69.5" cy="0.5" rx="2.5" ry="1" transform="rotate(108,69.5,0.5)"/><ellipse cx="69.5" cy="50.5" rx="2.5" ry="1" transform="rotate(108,69.5,50.5)"/><ellipse cx="24" cy="-1.5" rx="2" ry="1" transform="rotate(35,24,-1.5)"/><ellipse cx="24" cy="48.5" rx="2" ry="1" transform="rotate(35,24,48.5)"/><ellipse cx="22" cy="21.5" rx="2" ry="1.5" transform="rotate(107,22,21.5)"/><ellipse cx="15.5" cy="22" rx="2.5" ry="2" transform="rotate(6,15.5,22)"/><ellipse cx="30.5" cy="11" rx="1.5" ry="1.5" transform="rotate(84,30.5,11)"/><ellipse cx="39.5" cy="-4" rx="2.5" ry="1" transform="rotate(127,39.5,-4)"/><ellipse cx="39.5" cy="46" rx="2.5" ry="1" transform="rotate(127,39.5,46)"/><ellipse cx="1.5" cy="30" rx="2.5" ry="2" transform="rotate(116,1.5,30)"/><ellipse cx="73.5" cy="30" rx="2.5" ry="2" transform="rotate(116,73.5,30)"/><ellipse cx="29" cy="40" rx="3" ry="1.5" transform="rotate(86,29,40)"/><ellipse cx="16" cy="18.5" rx="3" ry="1.5" transform="rotate(79,16,18.5)"/><ellipse cx="19" cy="33" rx="2" ry="1.5" transform="rotate(81,19,33)"/></g><g fill="#f5f5f5"><ellipse cx="22" cy="43" rx="2" ry="1.5" transform="rotate(81,22,43)"/><ellipse cx="14" cy="36.5" rx="2" ry="1.5" transform="rotate(73,14,36.5)"/><ellipse cx="48" cy="15.5" rx="1.5" ry="1" transform="rotate(77,48,15.5)"/><ellipse cx="-3" cy="43" rx="1.5" ry="1.5" transform="rotate(125,-3,43)"/><ellipse cx="69" cy="43" rx="1.5" ry="1.5" transform="rotate(125,69,43)"/><ellipse cx="31" cy="38" rx="1" ry="1.5" transform="rotate(141,31,38)"/><ellipse cx="9.5" cy="9" rx="2" ry="1.5" transform="rotate(120,9.5,9)"/><ellipse cx="30" cy="22.5" rx="1.5" ry="1" transform="rotate(150,30,22.5)"/><ellipse cx="38" cy="33.5" rx="1.5" ry="1" transform="rotate(177,38,33.5)"/><ellipse cx="17" cy="27.5" rx="2" ry="1.5" transform="rotate(62,17,27.5)"/><ellipse cx="44.5" cy="6" rx="1.5" ry="1" transform="rotate(148,44.5,6)"/><ellipse cx="44.5" cy="56" rx="1.5" ry="1" transform="rotate(148,44.5,56)"/><ellipse cx="62.5" cy="36" rx="1" ry="1" transform="rotate(145,62.5,36)"/><ellipse cx="15.5" cy="26.5" rx="2" ry="1" transform="rotate(101,15.5,26.5)"/><ellipse cx="26" cy="34" rx="2" ry="1.5" transform="rotate(152,26,34)"/><ellipse cx="50.5" cy="22" rx="1.5" ry="1" transform="rotate(5,50.5,22)"/><ellipse cx="53.5" cy="34" rx="1" ry="1" transform="rotate(164,53.5,34)"/><ellipse cx="0" cy="-4.5" rx="2" ry="1" transform="rotate(79,0,-4.5)"/><ellipse cx="0" cy="45.5" rx="2" ry="1" transform="rotate(79,0,45.5)"/><ellipse cx="72" cy="-4.5" rx="2" ry="1" transform="rotate(79,72,-4.5)"/><ellipse cx="72" cy="45.5" rx="2" ry="1" transform="rotate(79,72,45.5)"/><ellipse cx="15" cy="38.5" rx="2.5" ry="1.5" transform="rotate(157,15,38.5)"/><ellipse cx="13" cy="38" rx="1.5" ry="1.5" transform="rotate(116,13,38)"/><ellipse cx="-3" cy="15.5" rx="2" ry="1.5" transform="rotate(168,-3,15.5)"/><ellipse cx="69" cy="15.5" rx="2" ry="1.5" transform="rotate(168,69,15.5)"/><ellipse cx="10.5" cy="21.5" rx="1.5" ry="1.5" transform="rotate(107,10.5,21.5)"/><ellipse cx="54.5" cy="18" rx="1.5" ry="1.5" transform="rotate(111,54.5,18)"/><ellipse cx="27" cy="31" rx="2.5" ry="1.5" transform="rotate(122,27,31)"/><ellipse cx="0.5" cy="0" rx="1.5" ry="1" transform="rotate(151,0.5,0)"/><ellipse cx="0.5" cy="50" rx="1.5" ry="1" transform="rotate(151,0.5,50)"/><ellipse cx="72.5" cy="0" rx="1.5" ry="1" transform="rotate(151,72.5,0)"/><ellipse cx="72.5" cy="50" rx="1.5" ry="1" transform="rotate(151,72.5,50)"/><ellipse cx="11" cy="3.5" rx="2" ry="1.5" transform="rotate(97,11,3.5)"/><ellipse cx="11" cy="53.5" rx="2" ry="1.5" transform="rotate(97,11,53.5)"/><ellipse cx="45.5" cy="16" rx="1.5" ry="1" transform="rotate(136,45.5,16)"/><ellipse cx="30" cy="42" rx="2" ry="1" transform="rotate(79,30,42)"/><ellipse cx="35.5" cy="-4.5" rx="1" ry="1.5" transform="rotate(27,35.5,-4.5)"/><ellipse cx="35.5" cy="45.5" rx="1" ry="1.5" transform="rotate(27,35.5,45.5)"/><ellipse cx="-2.5" cy="1" rx="2.5" ry="1" transform="rotate(35,-2.5,1)"/><ellipse cx="-2.5" cy="51" rx="2.5" ry="1" transform="rotate(35,-2.5,51)"/><ellipse cx="69.5" cy="1" rx="2.5" ry="1" transform="rotate(35,69.5,1)"/><ellipse cx="69.5" cy="51" rx="2.5" ry="1" transform="rotate(35,69.5,51)"/><ellipse cx="18.5" cy="26.5" rx="1" ry="1.5" transform="rotate(115,18.5,26.5)"/><ellipse cx="43.5" cy="34.5" rx="1.5" ry="0.5" transform="rotate(115,43.5,34.5)"/><ellipse cx="47.5" cy="-4" rx="2" ry="1" transform="rotate(162,47.5,-4)"/><ellipse cx="47.5" cy="46" rx="2" ry="1" transform="rotate(162,47.5,46)"/><ellipse cx="-0.5" cy="11.5" rx="1" ry="1.5" transform="rotate(70,-0.5,11.5)"/><ellipse cx="71.5" cy="11.5" rx="1" ry="1.5" transform="rotate(70,71.5,11.5)"/><ellipse cx="-6" cy="33.5" rx="1" ry="1" transform="rotate(98,-6,33.5)"/><ellipse cx="66" cy="33.5" rx="1" ry="1" transform="rotate(98,66,33.5)"/><ellipse cx="9" cy="28.5" rx="1.5" ry="1.5" transform="rotate(177,9,28.5)"/><ellipse cx="-3.5" cy="30" rx="1.5" ry="1.5" transform="rotate(149,-3.5,30)"/><ellipse cx="68.5" cy="30" rx="1.5" ry="1.5" transform="rotate(149,68.5,30)"/><ellipse cx="31" cy="30.5" rx="2" ry="1" transform="rotate(163,31,30.5)"/><ellipse cx="-2" cy="24.5" rx="1.5" ry="1.5" transform="rotate(21,-2,24.5)"/><ellipse cx="70" cy="24.5" rx="1.5" ry="1.5" transform="rotate(21,70,24.5)"/><ellipse cx="42" cy="18" rx="2" ry="1" transform="rotate(95,42,18)"/><ellipse cx="37.5" cy="7.5" rx="1" ry="0.5" transform="rotate(22,37.5,7.5)"/><ellipse cx="16.5" cy="2" rx="1.5" ry="1.5" transform="rotate(1,16.5,2)"/><ellipse cx="16.5" cy="52" rx="1.5" ry="1.5" transform="rotate(1,16.5,52)"/><ellipse cx="9" cy="16.5" rx="1" ry="1" transform="rotate(80,9,16.5)"/></g><g fill="#ffffff"><ellipse cx="46.5" cy="36.5" rx="2" ry="1" transform="rotate(152,46.5,36.5)"/><ellipse cx="36.5" cy="35" rx="1.5" ry="1.5" transform="rotate(5,36.5,35)"/><ellipse cx="25.5" cy="16.5" rx="1" ry="1.5" transform="rotate(168,25.5,16.5)"/><ellipse cx="55.5" cy="34" rx="2" ry="1.5" transform="rotate(130,55.5,34)"/><ellipse cx="13.5" cy="-5" rx="2.5" ry="1.5" transform="rotate(80,13.5,-5)"/><ellipse cx="13.5" cy="45" rx="2.5" ry="1.5" transform="rotate(80,13.5,45)"/><ellipse cx="59" cy="-5.5" rx="2.5" ry="1" transform="rotate(132,59,-5.5)"/><ellipse cx="59" cy="44.5" rx="2.5" ry="1" transform="rotate(132,59,44.5)"/><ellipse cx="35" cy="35" rx="2" ry="1" transform="rotate(32,35,35)"/><ellipse cx="42.5" cy="-3" rx="1" ry="1.5" transform="rotate(117,42.5,-3)"/><ellipse cx="42.5" cy="47" rx="1" ry="1.5" transform="rotate(117,42.5,47)"/><ellipse cx="48.5" cy="2.5" rx="1" ry="1" transform="rotate(154,48.5,2.5)"/><ellipse cx="48.5" cy="52.5" rx="1" ry="1" transform="rotate(154,48.5,52.5)"/><ellipse cx="55" cy="2.5" rx="1" ry="1.5" transform="rotate(156,55,2.5)"/><ellipse cx="55" cy="52.5" rx="1" ry="1.5" transform="rotate(156,55,52.5)"/><ellipse cx="59.5" cy="21.5" rx="1" ry="1" transform="rotate(26,59.5,21.5)"/><ellipse cx="5.5" cy="16" rx="1.5" ry="1.5" transform="rotate(116,5.5,16)"/><ellipse cx="77.5" cy="16" rx="1.5" ry="1.5" transform="rotate(116,77.5,16)"/><ellipse cx="-3" cy="23" rx="1" ry="1" transform="rotate(110,-3,23)"/><ellipse cx="69" cy="23" rx="1" ry="1" transform="rotate(110,69,23)"/><ellipse cx="52.5" cy="14.5" rx="2.5" ry="1" transform="rotate(62,52.5,14.5)"/><ellipse cx="19.5" cy="30.5" rx="1.5" ry="1.5" transform="rotate(108,19.5,30.5)"/><ellipse cx="23.5" cy="16.5" rx="2" ry="1.5" transform="rotate(146,23.5,16.5)"/><ellipse cx="42.5" cy="24" rx="1" ry="0.5" transform="rotate(124,42.5,24)"/><ellipse cx="31" cy="27" rx="1.5" ry="1.5" transform="rotate(8,31,27)"/><ellipse cx="33" cy="37" rx="2.5" ry="1" transform="rotate(30,33,37)"/><ellipse cx="-3" cy="19.5" rx="2" ry="1" transform="rotate(92,-3,19.5)"/><ellipse cx="69" cy="19.5" rx="2" ry="1" transform="rotate(92,69,19.5)"/><ellipse cx="25" cy="9" rx="2" ry="1" transform="rotate(114,25,9)"/><ellipse cx="52.5" cy="40" rx="1.5" ry="1.5" transform="rotate(150,52.5,40)"/><ellipse cx="64" cy="20.5" rx="2" ry="1" transform="rotate(74,64,20.5)"/><ellipse cx="23" cy="2" rx="2" ry="1" transform="rotate(138,23,2)"/><ellipse cx="23" cy="52" rx="2" ry="1" transform="rotate(138,23,52)"/><ellipse cx="37.5" cy="19.5" rx="2" ry="1.5" transform="rotate(11,37.5,19.5)"/><ellipse cx="65.5" cy="40.5" rx="2" ry="1.5" transform="rotate(152,65.5,40.5)"/><ellipse cx="64" cy="5.5" rx="2.5" ry="1.5" transform="rotate(1,64,5.5)"/><ellipse cx="64" cy="55.5" rx="2.5" ry="1.5" transform="rotate(1,64,55.5)"/><ellipse cx="29.5" cy="-4.5" rx="2.5" ry="1" transform="rotate(63,29.5,-4.5)"/><ellipse cx="29.5" cy="45.5" rx="2.5" ry="1" transform="rotate(63,29.5,45.5)"/><ellipse cx="51.5" cy="19.5" rx="1" ry="2" transform="rotate(126,51.5,19.5)"/><ellipse cx="14.5" cy="21" rx="2" ry="1.5" transform="rotate(164,14.5,21)"/><ellipse cx="20" cy="35.5" rx="1.5" ry="1.5" transform="rotate(73,20,35.5)"/><ellipse cx="28" cy="19" rx="2" ry="1.5" transform="rotate(78,28,19)"/><ellipse cx="46.5" cy="33" rx="2" ry="1.5" transform="rotate(73,46.5,33)"/></g><g fill="#e8e8e8"><ellipse cx="25.5" cy="26.5" rx="2" ry="1" transform="rotate(44,25.5,26.5)"/><ellipse cx="6" cy="20" rx="1" ry="1.5" transform="rotate(79,6,20)"/><ellipse cx="40.5" cy="8" rx="2.5" ry="1.5" transform="rotate(136,40.5,8)"/><ellipse cx="56" cy="1.5" rx="1" ry="1.5" transform="rotate(4,56,1.5)"/><ellipse cx="56" cy="51.5" rx="1" ry="1.5" transform="rotate(4,56,51.5)"/><ellipse cx="-1" cy="9.5" rx="2.5" ry="1" transform="rotate(145,-1,9.5)"/><ellipse cx="71" cy="9.5" rx="2.5" ry="1" transform="rotate(145,71,9.5)"/><ellipse cx="24.5" cy="29.5" rx="1" ry="1.5" transform="rotate(62,24.5,29.5)"/><ellipse cx="18" cy="42" rx="1.5" ry="1" transform="rotate(154,18,42)"/><ellipse cx="66" cy="30" rx="1.5" ry="1.5" transform="rotate(151,66,30)"/><ellipse cx="27" cy="8.5" rx="1.5" ry="1.5" transform="rotate(97,27,8.5)"/><ellipse cx="8" cy="29.5" rx="1" ry="1" transform="rotate(18,8,29.5)"/><ellipse cx="49.5" cy="25" rx="1" ry="1" transform="rotate(55,49.5,25)"/><ellipse cx="36" cy="6" rx="1.5" ry="1.5" transform="rotate(3,36,6)"/><ellipse cx="36" cy="56" rx="1.5" ry="1.5" transform="rotate(3,36,56)"/><ellipse cx="40.5" cy="16" rx="1" ry="1" transform="rotate(42,40.5,16)"/><ellipse cx="4" cy="27" rx="1" ry="1" transform="rotate(3,4,27)"/><ellipse cx="76" cy="27" rx="1" ry="1" transform="rotate(3,76,27)"/><ellipse cx="20" cy="13" rx="1" ry="2" transform="rotate(64,20,13)"/><ellipse cx="11" cy="38.5" rx="2.5" ry="1" transform="rotate(35,11,38.5)"/><ellipse cx="50" cy="38.5" rx="2" ry="1" transform="rotate(113,50,38.5)"/><ellipse cx="8.5" cy="32.5" rx="2.5" ry="1.5" transform="rotate(158,8.5,32.5)"/><ellipse cx="64.5" cy="-1.5" rx="2.5" ry="1.5" transform="rotate(118,64.5,-1.5)"/><ellipse cx="64.5" cy="48.5" rx="2.5" ry="1.5" transform="rotate(118,64.5,48.5)"/><ellipse cx="33.5" cy="8.5" rx="1.5" ry="1" transform="rotate(157,33.5,8.5)"/><ellipse cx="21" cy="-3.5" rx="2" ry="1" transform="rotate(115,21,-3.5)"/><ellipse cx="21" cy="46.5" rx="2" ry="1" transform="rotate(115,21,46.5)"/><ellipse cx="63.5" cy="-1.5" rx="1" ry="1.5" transform="rotate(20,63.5,-1.5)"/><ellipse cx="63.5" cy="48.5" rx="1" ry="1.5" transform="rotate(20,63.5,48.5)"/><ellipse cx="57.5" cy="16" rx="1" ry="1" transform="rotate(157,57.5,16)"/><ellipse cx="28" cy="9.5" rx="1" ry="1" transform="rotate(86,28,9.5)"/><ellipse cx="26" cy="4.5" rx="2.5" ry="1.5" transform="rotate(5,26,4.5)"/><ellipse cx="26" cy="54.5" rx="2.5" ry="1.5" transform="rotate(5,26,54.5)"/><ellipse cx="46" cy="-5" rx="2.5" ry="1.5" transform="rotate(82,46,-5)"/><ellipse cx="46" cy="45" rx="2.5" ry="1.5" transform="rotate(82,46,45)"/><ellipse cx="47" cy="26" rx="2.5" ry="1.5" transform="rotate(163,47,26)"/><ellipse cx="44" cy="21.5" rx="2" ry="1" transform="rotate(90,44,21.5)"/><ellipse cx="1" cy="43.5" rx="2" ry="1.5" transform="rotate(82,1,43.5)"/><ellipse cx="73" cy="43.5" rx="2" ry="1.5" transform="rotate(82,73,43.5)"/><ellipse cx="7.5" cy="40" rx="2" ry="1" transform="rotate(51,7.5,40)"/><ellipse cx="56" cy="31" rx="1" ry="1" transform="rotate(109,56,31)"/><ellipse cx="28" cy="1.5" rx="2" ry="1.5" transform="rotate(152,28,1.5)"/><ellipse cx="28" cy="51.5" rx="2" ry="1.5" transform="rotate(152,28,51.5)"/><ellipse cx="11" cy="9" rx="1.5" ry="1" transform="rotate(8,11,9)"/><ellipse cx="33" cy="27" rx="1" ry="1.5" transform="rotate(36,33,27)"/><ellipse cx="27" cy="1.5" rx="1.5" ry="1" transform="rotate(66,27,1.5)"/><ellipse cx="27" cy="51.5" rx="1.5" ry="1" transform="rotate(66,27,51.5)"/><ellipse cx="60" cy="30" rx="1" ry="1" transform="rotate(47,60,30)"/><ellipse cx="60" cy="38.5" rx="1.5" ry="1" transform="rotate(32,60,38.5)"/></g><g fill="#1a1a1a"><ellipse cx="40" cy="30.5" rx="1.5" ry="1.5" transform="rotate(168,40,30.5)"/><ellipse cx="65" cy="12" rx="1.5" ry="1" transform="rotate(11,65,12)"/><ellipse cx="-6" cy="-4.5" rx="2.5" ry="1" transform="rotate(146,-6,-4.5)"/><ellipse cx="-6" cy="45.5" rx="2.5" ry="1" transform="rotate(146,-6,45.5)"/><ellipse cx="66" cy="-4.5" rx="2.5" ry="1" transform="rotate(146,66,-4.5)"/><ellipse cx="66" cy="45.5" rx="2.5" ry="1" transform="rotate(146,66,45.5)"/><ellipse cx="56" cy="25" rx="1.5" ry="1" transform="rotate(69,56,25)"/><ellipse cx="58" cy="37.5" rx="1.5" ry="1.5" transform="rotate(4,58,37.5)"/><ellipse cx="1.5" cy="6" rx="1.5" ry="2" transform="rotate(105,1.5,6)"/><ellipse cx="1.5" cy="56" rx="1.5" ry="2" transform="rotate(105,1.5,56)"/><ellipse cx="73.5" cy="6" rx="1.5" ry="2" transform="rotate(105,73.5,6)"/><ellipse cx="73.5" cy="56" rx="1.5" ry="2" transform="rotate(105,73.5,56)"/><ellipse cx="52.5" cy="9" rx="1" ry="1" transform="rotate(161,52.5,9)"/><ellipse cx="-1.5" cy="2" rx="1.5" ry="1" transform="rotate(19,-1.5,2)"/><ellipse cx="-1.5" cy="52" rx="1.5" ry="1" transform="rotate(19,-1.5,52)"/><ellipse cx="70.5" cy="2" rx="1.5" ry="1" transform="rotate(19,70.5,2)"/><ellipse cx="70.5" cy="52" rx="1.5" ry="1" transform="rotate(19,70.5,52)"/><ellipse cx="22" cy="-5" rx="2" ry="1.5" transform="rotate(73,22,-5)"/><ellipse cx="22" cy="45" rx="2" ry="1.5" transform="rotate(73,22,45)"/><ellipse cx="6.5" cy="20" rx="2" ry="1" transform="rotate(118,6.5,20)"/><ellipse cx="31" cy="11.5" rx="1" ry="1.5" transform="rotate(93,31,11.5)"/><ellipse cx="5.5" cy="-4.5" rx="1.5" ry="1.5" transform="rotate(51,5.5,-4.5)"/><ellipse cx="5.5" cy="45.5" rx="1.5" ry="1.5" transform="rotate(51,5.5,45.5)"/><ellipse cx="77.5" cy="-4.5" rx="1.5" ry="1.5" transform="rotate(51,77.5,-4.5)"/><ellipse cx="77.5" cy="45.5" rx="1.5" ry="1.5" transform="rotate(51,77.5,45.5)"/></g><g fill="#2a2a2a"><ellipse cx="18" cy="23.5" rx="1" ry="1.5" transform="rotate(120,18,23.5)"/><ellipse cx="9" cy="30.5" rx="2.5" ry="1.5" transform="rotate(22,9,30.5)"/><ellipse cx="-4.5" cy="28" rx="2.5" ry="1.5" transform="rotate(28,-4.5,28)"/><ellipse cx="67.5" cy="28" rx="2.5" ry="1.5" transform="rotate(28,67.5,28)"/><ellipse cx="22.5" cy="13" rx="2.5" ry="1" transform="rotate(71,22.5,13)"/><ellipse cx="3.5" cy="22" rx="1.5" ry="1.5" transform="rotate(77,3.5,22)"/><ellipse cx="75.5" cy="22" rx="1.5" ry="1.5" transform="rotate(77,75.5,22)"/><ellipse cx="29.5" cy="30" rx="2.5" ry="1.5" transform="rotate(158,29.5,30)"/><ellipse cx="64.5" cy="14.5" rx="2.5" ry="1" transform="rotate(73,64.5,14.5)"/><ellipse cx="61.5" cy="29.5" rx="1" ry="1" transform="rotate(12,61.5,29.5)"/><ellipse cx="50" cy="5" rx="2" ry="1" transform="rotate(68,50,5)"/><ellipse cx="50" cy="55" rx="2" ry="1" transform="rotate(68,50,55)"/><ellipse cx="2.5" cy="15.5" rx="2" ry="1.5" transform="rotate(114,2.5,15.5)"/><ellipse cx="74.5" cy="15.5" rx="2" ry="1.5" transform="rotate(114,74.5,15.5)"/><ellipse cx="53.5" cy="-5.5" rx="1.5" ry="1.5" transform="rotate(65,53.5,-5.5)"/><ellipse cx="53.5" cy="44.5" rx="1.5" ry="1.5" transform="rotate(65,53.5,44.5)"/><ellipse cx="-1" cy="26.5" rx="2.5" ry="1" transform="rotate(89,-1,26.5)"/><ellipse cx="71" cy="26.5" rx="2.5" ry="1" transform="rotate(89,71,26.5)"/><ellipse cx="1" cy="20" rx="1" ry="1" transform="rotate(171,1,20)"/><ellipse cx="73" cy="20" rx="1" ry="1" transform="rotate(171,73,20)"/><ellipse cx="37" cy="38" rx="2" ry="1" transform="rotate(11,37,38)"/><ellipse cx="64.5" cy="6" rx="1" ry="1.5" transform="rotate(58,64.5,6)"/><ellipse cx="64.5" cy="56" rx="1" ry="1.5" transform="rotate(58,64.5,56)"/><ellipse cx="56" cy="36.5" rx="2" ry="1" transform="rotate(13,56,36.5)"/><ellipse cx="46" cy="18" rx="1.5" ry="1" transform="rotate(27,46,18)"/><ellipse cx="33.5" cy="11.5" rx="1" ry="1.5" transform="rotate(85,33.5,11.5)"/></g><g fill="#3a3a3a"><ellipse cx="-5.5" cy="12" rx="1.5" ry="1" transform="rotate(173,-5.5,12)"/><ellipse cx="66.5" cy="12" rx="1.5" ry="1" transform="rotate(173,66.5,12)"/><ellipse cx="8" cy="39.5" rx="2" ry="1" transform="rotate(47,8,39.5)"/><ellipse cx="31.5" cy="38" rx="1" ry="1.5" transform="rotate(126,31.5,38)"/><ellipse cx="62.5" cy="8" rx="2" ry="1" transform="rotate(115,62.5,8)"/><ellipse cx="16" cy="24.5" rx="1.5" ry="1" transform="rotate(28,16,24.5)"/><ellipse cx="24.5" cy="29" rx="1.5" ry="1.5" transform="rotate(158,24.5,29)"/><ellipse cx="16" cy="36.5" rx="2.5" ry="1.5" transform="rotate(5,16,36.5)"/><ellipse cx="2.5" cy="22" rx="2.5" ry="1" transform="rotate(64,2.5,22)"/><ellipse cx="74.5" cy="22" rx="2.5" ry="1" transform="rotate(64,74.5,22)"/><ellipse cx="21" cy="28" rx="2" ry="1.5" transform="rotate(141,21,28)"/><ellipse cx="6" cy="18.5" rx="2.5" ry="1" transform="rotate(2,6,18.5)"/><ellipse cx="78" cy="18.5" rx="2.5" ry="1" transform="rotate(2,78,18.5)"/><ellipse cx="58.5" cy="12.5" rx="2.5" ry="1.5" transform="rotate(55,58.5,12.5)"/><ellipse cx="15.5" cy="33.5" rx="2.5" ry="1" transform="rotate(122,15.5,33.5)"/><ellipse cx="52" cy="14.5" rx="1" ry="1.5" transform="rotate(43,52,14.5)"/><ellipse cx="33" cy="-5.5" rx="1.5" ry="1.5" transform="rotate(25,33,-5.5)"/><ellipse cx="33" cy="44.5" rx="1.5" ry="1.5" transform="rotate(25,33,44.5)"/><ellipse cx="32.5" cy="-2" rx="2" ry="1.5" transform="rotate(153,32.5,-2)"/><ellipse cx="32.5" cy="48" rx="2" ry="1.5" transform="rotate(153,32.5,48)"/><ellipse cx="29" cy="23" rx="1.5" ry="1" transform="rotate(101,29,23)"/><ellipse cx="28" cy="21.5" rx="1.5" ry="1" transform="rotate(29,28,21.5)"/></g><g fill="#4a4a4a"><ellipse cx="56.5" cy="-3" rx="2.5" ry="1.5" transform="rotate(161,56.5,-3)"/><ellipse cx="56.5" cy="47" rx="2.5" ry="1.5" transform="rotate(161,56.5,47)"/><ellipse cx="42" cy="35" rx="2.5" ry="1.5" transform="rotate(179,42,35)"/><ellipse cx="2.5" cy="10" rx="1.5" ry="1" transform="rotate(53,2.5,10)"/><ellipse cx="74.5" cy="10" rx="1.5" ry="1" transform="rotate(53,74.5,10)"/><ellipse cx="7" cy="26.5" rx="2" ry="1.5" transform="rotate(76,7,26.5)"/><ellipse cx="43.5" cy="8" rx="2" ry="2" transform="rotate(22,43.5,8)"/><ellipse cx="62" cy="14" rx="1.5" ry="1" transform="rotate(14,62,14)"/><ellipse cx="17.5" cy="23" rx="2.5" ry="1" transform="rotate(84,17.5,23)"/><ellipse cx="44.5" cy="39.5" rx="2.5" ry="2" transform="rotate(146,44.5,39.5)"/><ellipse cx="41" cy="28" rx="1" ry="1" transform="rotate(168,41,28)"/><ellipse cx="53.5" cy="-4.5" rx="2" ry="1.5" transform="rotate(133,53.5,-4.5)"/><ellipse cx="53.5" cy="45.5" rx="2" ry="1.5" transform="rotate(133,53.5,45.5)"/><ellipse cx="32" cy="13" rx="2.5" ry="1" transform="rotate(72,32,13)"/><ellipse cx="18.5" cy="16.5" rx="1.5" ry="1.5" transform="rotate(51,18.5,16.5)"/><ellipse cx="66" cy="34" rx="2.5" ry="1" transform="rotate(180,66,34)"/></g></pattern><pattern id="gr" patternUnits="userSpaceOnUse" width="40" height="40"><rect width="40" height="40" fill="#878787"/><path fill="#747474" d="M38 38h1v1h-1zM10 8h1v1h-1zM20 36h1v1h-1zM22 9h1v1h-1zM37 25h1v1h-1zM31 14h1v1h-1zM4 23h1v1h-1zM11 9h1v1h-1zM10 8h1v1h-1zM17 29h1v1h-1zM27 3h1v1h-1zM1 29h1v1h-1zM29 21h1v1h-1zM5 13h1v1h-1zM29 3h1v1h-1zM1 16h1v1h-1zM20 4h1v1h-1zM37 23h1v1h-1zM27 19h1v1h-1zM33 32h1v1h-1zM36 25h1v1h-1zM36 10h1v1h-1zM16 8h1v1h-1zM1 26h1v1h-1zM15 9h1v1h-1zM29 39h1v1h-1zM0 22h1v1h-1zM26 16h1v1h-1zM11 38h1v1h-1zM13 15h1v1h-1zM4 7h1v1h-1zM28 29h1v1h-1zM2 6h1v1h-1zM13 23h1v1h-1zM38 9h1v1h-1zM15 18h1v1h-1zM18 24h1v1h-1zM2 8h1v1h-1zM20 5h1v1h-1zM10 19h1v1h-1zM6 22h1v1h-1zM8 16h1v1h-1zM33 24h1v1h-1zM29 38h1v1h-1zM34 14h1v1h-1zM4 32h1v1h-1z"/><path fill="#9a9a9a" d="M4 14h1v1h-1zM17 35h1v1h-1zM30 26h1v1h-1zM29 19h1v1h-1zM38 33h1v1h-1zM2 14h1v1h-1zM15 5h1v1h-1zM15 2h1v1h-1zM26 28h1v1h-1zM27 10h1v1h-1zM37 40h1v1h-1zM11 30h1v1h-1zM4 7h1v1h-1zM15 27h1v1h-1zM16 19h1v1h-1zM3 30h1v1h-1zM40 26h1v1h-1zM7 11h1v1h-1zM21 7h1v1h-1zM16 22h1v1h-1zM8 32h1v1h-1zM40 27h1v1h-1zM25 12h1v1h-1zM35 18h1v1h-1zM9 11h1v1h-1zM4 10h1v1h-1zM30 34h1v1h-1zM14 32h1v1h-1zM18 4h1v1h-1zM17 22h1v1h-1zM11 26h1v1h-1zM4 6h1v1h-1zM10 14h1v1h-1zM17 31h1v1h-1zM37 27h1v1h-1zM7 4h1v1h-1zM8 14h1v1h-1zM1 22h1v1h-1zM2 31h1v1h-1zM28 40h1v1h-1zM25 22h1v1h-1zM37 8h1v1h-1zM19 10h1v1h-1zM23 5h1v1h-1zM26 20h1v1h-1zM6 12h1v1h-1zM2 27h1v1h-1zM19 15h1v1h-1z"/><path fill="#808080" d="M29 27h1v1h-1zM32 29h1v1h-1zM26 24h1v1h-1zM29 20h1v1h-1zM30 5h1v1h-1zM6 1h1v1h-1zM13 35h1v1h-1zM15 28h1v1h-1zM29 20h1v1h-1zM38 6h1v1h-1zM37 33h1v1h-1zM33 4h1v1h-1zM19 27h1v1h-1zM1 3h1v1h-1zM28 28h1v1h-1zM3 33h1v1h-1zM13 38h1v1h-1zM27 31h1v1h-1zM9 14h1v1h-1zM16 33h1v1h-1zM20 28h1v1h-1zM7 38h1v1h-1zM13 6h1v1h-1zM0 4h1v1h-1zM21 10h1v1h-1zM25 25h1v1h-1zM17 16h1v1h-1zM36 19h1v1h-1zM39 6h1v1h-1zM27 1h1v1h-1zM23 5h1v1h-1zM35 21h1v1h-1zM8 13h1v1h-1zM19 28h1v1h-1zM3 24h1v1h-1zM8 28h1v1h-1z"/><path fill="#929292" d="M23 6h1v1h-1zM38 22h1v1h-1zM15 37h1v1h-1zM22 40h1v1h-1zM32 14h1v1h-1zM35 36h1v1h-1zM35 25h1v1h-1zM30 36h1v1h-1zM34 28h1v1h-1zM13 4h1v1h-1zM10 24h1v1h-1zM28 10h1v1h-1zM1 24h1v1h-1zM12 35h1v1h-1zM19 30h1v1h-1zM11 21h1v1h-1zM29 29h1v1h-1zM7 22h1v1h-1zM27 27h1v1h-1zM22 38h1v1h-1zM18 28h1v1h-1zM7 20h1v1h-1zM37 28h1v1h-1zM9 25h1v1h-1zM7 4h1v1h-1zM0 27h1v1h-1zM10 23h1v1h-1zM18 35h1v1h-1zM7 30h1v1h-1zM5 7h1v1h-1zM15 22h1v1h-1zM12 26h1v1h-1zM18 7h1v1h-1zM11 22h1v1h-1zM3 12h1v1h-1zM14 8h1v1h-1zM27 20h1v1h-1zM34 18h1v1h-1zM9 1h1v1h-1zM19 34h1v1h-1zM25 8h1v1h-1zM32 22h1v1h-1zM11 21h1v1h-1zM23 17h1v1h-1zM28 31h1v1h-1zM35 39h1v1h-1zM23 18h1v1h-1zM7 24h1v1h-1zM14 18h1v1h-1zM38 29h1v1h-1zM5 18h1v1h-1z"/><path fill="#6a6a6a" d="M26 32h1v1h-1zM7 7h1v1h-1zM20 37h1v1h-1zM14 29h1v1h-1zM33 22h1v1h-1zM12 22h1v1h-1zM32 38h1v1h-1zM23 16h1v1h-1zM24 25h1v1h-1zM29 17h1v1h-1zM21 37h1v1h-1zM16 6h1v1h-1zM35 14h1v1h-1zM37 13h1v1h-1zM38 29h1v1h-1zM11 37h1v1h-1zM14 36h1v1h-1zM33 26h1v1h-1zM20 8h1v1h-1zM21 34h1v1h-1zM38 22h1v1h-1zM11 29h1v1h-1zM33 24h1v1h-1zM13 15h1v1h-1zM14 31h1v1h-1zM16 19h1v1h-1zM35 22h1v1h-1zM24 24h1v1h-1zM10 19h1v1h-1zM1 28h1v1h-1zM11 29h1v1h-1zM28 11h1v1h-1zM9 13h1v1h-1zM24 28h1v1h-1zM16 26h1v1h-1zM10 2h1v1h-1zM33 4h1v1h-1z"/><path fill="#a3a3a3" d="M20 40h1v1h-1zM6 30h1v1h-1zM21 32h1v1h-1zM12 38h1v1h-1zM36 8h1v1h-1zM38 25h1v1h-1zM38 4h1v1h-1zM6 4h1v1h-1zM9 37h1v1h-1zM4 1h1v1h-1zM19 12h1v1h-1zM4 12h1v1h-1zM11 15h1v1h-1zM5 15h1v1h-1zM3 34h1v1h-1zM10 17h1v1h-1zM28 3h1v1h-1zM36 32h1v1h-1zM39 16h1v1h-1zM4 21h1v1h-1zM29 19h1v1h-1zM1 24h1v1h-1zM11 10h1v1h-1zM14 22h1v1h-1zM30 26h1v1h-1zM33 15h1v1h-1zM28 35h1v1h-1zM10 25h1v1h-1zM23 8h1v1h-1zM37 18h1v1h-1zM30 30h1v1h-1zM37 30h1v1h-1zM12 25h1v1h-1zM37 35h1v1h-1zM3 12h1v1h-1zM27 4h1v1h-1zM33 21h1v1h-1zM25 34h1v1h-1zM21 31h1v1h-1zM39 9h1v1h-1zM26 25h1v1h-1zM31 4h1v1h-1zM26 5h1v1h-1zM29 24h1v1h-1zM9 25h1v1h-1zM21 32h1v1h-1zM6 31h1v1h-1zM27 2h1v1h-1z"/></pattern><pattern id="gr5" patternUnits="userSpaceOnUse" width="40" height="40"><rect width="40" height="40" fill="#777777"/><path fill="#747474" d="M26 36h1v1h-1zM22 23h1v1h-1zM25 5h1v1h-1zM12 24h1v1h-1zM24 28h1v1h-1zM28 2h1v1h-1zM1 38h1v1h-1zM18 17h1v1h-1zM26 23h1v1h-1zM14 27h1v1h-1zM33 15h1v1h-1zM10 19h1v1h-1zM35 35h1v1h-1zM8 12h1v1h-1zM11 3h1v1h-1zM28 2h1v1h-1zM9 26h1v1h-1zM4 15h1v1h-1zM11 23h1v1h-1zM22 9h1v1h-1zM14 23h1v1h-1zM1 29h1v1h-1zM27 9h1v1h-1zM30 16h1v1h-1zM9 19h1v1h-1zM17 39h1v1h-1zM14 4h1v1h-1zM9 32h1v1h-1zM26 20h1v1h-1zM12 2h1v1h-1zM9 37h1v1h-1zM21 5h1v1h-1zM5 12h1v1h-1zM13 5h1v1h-1zM2 28h1v1h-1zM15 31h1v1h-1zM2 17h1v1h-1zM22 1h1v1h-1zM14 13h1v1h-1zM27 8h1v1h-1zM33 20h1v1h-1zM11 3h1v1h-1zM17 39h1v1h-1zM11 29h1v1h-1z"/><path fill="#9a9a9a" d="M1 19h1v1h-1zM29 16h1v1h-1zM37 31h1v1h-1zM39 0h1v1h-1zM38 7h1v1h-1zM35 25h1v1h-1zM12 14h1v1h-1zM2 7h1v1h-1zM21 16h1v1h-1zM4 17h1v1h-1zM2 17h1v1h-1zM18 40h1v1h-1zM12 16h1v1h-1zM21 21h1v1h-1zM11 40h1v1h-1zM7 30h1v1h-1zM39 7h1v1h-1zM12 14h1v1h-1zM22 19h1v1h-1zM24 23h1v1h-1zM15 17h1v1h-1zM15 38h1v1h-1zM10 11h1v1h-1zM32 3h1v1h-1zM28 18h1v1h-1zM24 17h1v1h-1zM30 35h1v1h-1zM21 5h1v1h-1zM1 40h1v1h-1zM1 7h1v1h-1zM4 6h1v1h-1zM18 34h1v1h-1zM18 10h1v1h-1zM37 2h1v1h-1zM3 39h1v1h-1zM24 34h1v1h-1zM36 26h1v1h-1zM32 15h1v1h-1zM13 12h1v1h-1zM1 21h1v1h-1zM7 25h1v1h-1zM24 25h1v1h-1zM5 13h1v1h-1zM2 27h1v1h-1zM9 11h1v1h-1zM12 21h1v1h-1zM20 14h1v1h-1zM22 2h1v1h-1zM1 31h1v1h-1zM21 36h1v1h-1z"/><path fill="#808080" d="M37 11h1v1h-1zM1 32h1v1h-1zM30 32h1v1h-1zM8 21h1v1h-1zM22 12h1v1h-1zM30 14h1v1h-1zM28 13h1v1h-1zM14 31h1v1h-1zM28 27h1v1h-1zM15 28h1v1h-1zM29 38h1v1h-1zM19 31h1v1h-1zM26 32h1v1h-1zM18 15h1v1h-1zM21 37h1v1h-1zM24 10h1v1h-1zM0 16h1v1h-1zM22 12h1v1h-1zM39 24h1v1h-1zM24 10h1v1h-1zM20 17h1v1h-1zM38 12h1v1h-1zM25 18h1v1h-1zM1 21h1v1h-1zM1 5h1v1h-1zM21 13h1v1h-1zM29 1h1v1h-1zM28 36h1v1h-1zM28 5h1v1h-1zM22 10h1v1h-1zM15 33h1v1h-1zM13 25h1v1h-1zM6 10h1v1h-1zM14 30h1v1h-1zM5 27h1v1h-1zM12 19h1v1h-1zM25 18h1v1h-1zM39 27h1v1h-1zM28 32h1v1h-1zM35 3h1v1h-1zM11 27h1v1h-1zM11 37h1v1h-1zM2 4h1v1h-1z"/><path fill="#929292" d="M15 35h1v1h-1zM38 28h1v1h-1zM12 33h1v1h-1zM28 7h1v1h-1zM38 14h1v1h-1zM15 34h1v1h-1zM5 10h1v1h-1zM6 28h1v1h-1zM39 26h1v1h-1zM23 5h1v1h-1zM39 18h1v1h-1zM38 25h1v1h-1zM35 7h1v1h-1zM11 14h1v1h-1zM8 14h1v1h-1zM25 2h1v1h-1zM4 39h1v1h-1zM8 1h1v1h-1zM33 26h1v1h-1zM2 5h1v1h-1zM29 11h1v1h-1zM22 1h1v1h-1zM26 34h1v1h-1zM12 0h1v1h-1zM23 26h1v1h-1zM36 6h1v1h-1zM17 3h1v1h-1zM35 18h1v1h-1zM18 16h1v1h-1zM34 38h1v1h-1zM3 36h1v1h-1zM2 36h1v1h-1zM26 14h1v1h-1zM37 13h1v1h-1zM3 35h1v1h-1zM9 3h1v1h-1zM3 40h1v1h-1zM2 33h1v1h-1zM19 23h1v1h-1zM37 12h1v1h-1zM31 11h1v1h-1zM19 28h1v1h-1zM39 33h1v1h-1zM18 38h1v1h-1zM18 17h1v1h-1zM0 5h1v1h-1zM1 23h1v1h-1zM28 14h1v1h-1zM25 32h1v1h-1zM23 7h1v1h-1zM12 15h1v1h-1zM22 28h1v1h-1zM24 22h1v1h-1z"/><path fill="#6a6a6a" d="M38 30h1v1h-1zM30 3h1v1h-1zM12 38h1v1h-1zM14 14h1v1h-1zM10 19h1v1h-1zM6 2h1v1h-1zM5 33h1v1h-1zM11 31h1v1h-1zM27 19h1v1h-1zM29 7h1v1h-1zM22 14h1v1h-1zM4 23h1v1h-1zM22 13h1v1h-1zM14 30h1v1h-1zM5 0h1v1h-1zM22 17h1v1h-1zM3 9h1v1h-1zM20 36h1v1h-1zM4 5h1v1h-1zM19 13h1v1h-1zM33 6h1v1h-1zM17 34h1v1h-1zM19 36h1v1h-1zM1 29h1v1h-1zM8 2h1v1h-1zM16 2h1v1h-1zM33 33h1v1h-1zM20 16h1v1h-1zM36 40h1v1h-1zM34 38h1v1h-1zM29 4h1v1h-1zM21 39h1v1h-1zM34 34h1v1h-1zM19 19h1v1h-1zM28 4h1v1h-1zM1 27h1v1h-1zM32 15h1v1h-1z"/><path fill="#a3a3a3" d="M25 30h1v1h-1zM37 14h1v1h-1zM12 32h1v1h-1zM13 8h1v1h-1zM33 11h1v1h-1zM14 34h1v1h-1zM11 3h1v1h-1zM25 31h1v1h-1zM6 18h1v1h-1zM34 35h1v1h-1zM17 33h1v1h-1zM20 19h1v1h-1zM6 1h1v1h-1zM24 19h1v1h-1zM18 37h1v1h-1zM24 28h1v1h-1zM19 27h1v1h-1zM27 1h1v1h-1zM0 4h1v1h-1zM24 20h1v1h-1zM15 2h1v1h-1zM12 23h1v1h-1zM7 29h1v1h-1zM32 15h1v1h-1zM33 26h1v1h-1zM33 30h1v1h-1zM38 28h1v1h-1zM36 28h1v1h-1zM7 10h1v1h-1zM18 18h1v1h-1zM38 8h1v1h-1zM23 18h1v1h-1zM26 38h1v1h-1zM1 22h1v1h-1zM15 32h1v1h-1zM4 16h1v1h-1zM39 33h1v1h-1zM31 24h1v1h-1zM36 28h1v1h-1z"/></pattern><pattern id="h1" patternUnits="userSpaceOnUse" width="10.3" height="10.3" patternTransform="rotate(51)"><rect width="10.3" height="10.3" fill="#fff"/><line x1="0" y1="0" x2="0" y2="10.3" stroke="#111" stroke-width="1.9"/></pattern><pattern id="h2" patternUnits="userSpaceOnUse" width="12.5" height="12.5" patternTransform="rotate(53)"><rect width="12.5" height="12.5" fill="#fff"/><line x1="0" y1="0" x2="0" y2="12.5" stroke="#555" stroke-width="1.3"/></pattern><pattern id="h4" patternUnits="userSpaceOnUse" width="3.9" height="3.9" patternTransform="rotate(40)"><rect width="3.9" height="3.9" fill="#fff"/><line x1="0" y1="0" x2="0" y2="3.9" stroke="#8a8a8a" stroke-width="1.0"/></pattern><pattern id="h6" patternUnits="userSpaceOnUse" width="5.2" height="5.2" patternTransform="rotate(64)"><rect width="5.2" height="5.2" fill="#fff"/><line x1="0" y1="0" x2="0" y2="5.2" stroke="#111" stroke-width="2.2"/></pattern><pattern id="h4p" patternUnits="userSpaceOnUse" width="4.6" height="4.6" patternTransform="rotate(-35)"><rect width="4.6" height="4.6" fill="#fff"/><line x1="0" y1="0" x2="0" y2="4.6" stroke="#444" stroke-width="1.3"/></pattern></defs><path d="M36.8,98 L51.8,99.2 Q57,101 56,106.4 L53.8,110.3 L54.4,114.2 L58.4,116.8 L62,118 L62,131 L203.6,131 L203.6,117 L228,117 L221,150 L48,150 L36,112 Z" fill="url(#gr)"/><path d="M48,150 L41,131 L62,131 L203.6,131 L224.5,131 L221,150 Z" fill="#000" fill-opacity="0.1"/><path d="M36,112 L36.8,98 L51.8,99.2 Q57,101 56,106.4 L53.8,110.3 L54.4,114.2 L58.4,116.8 L62,118" fill="none" stroke="#111" stroke-width="1.3"/><path d="M38,118 L62,140 L75,146" fill="none" stroke="#444" stroke-width="0.8"/><rect x="70.8" y="150" width="20.7" height="28" fill="url(#gr)"/><rect x="174" y="150" width="22" height="27" fill="url(#gr)"/><rect x="12" y="150.5" width="58.8" height="28.5" fill="url(#con)" stroke="#111" stroke-width="1.6"/><rect x="91.5" y="150.5" width="82.5" height="28.5" fill="url(#con)" stroke="#111" stroke-width="1.6"/><rect x="196" y="150.5" width="57.69999999999999" height="26.5" fill="url(#con)" stroke="#111" stroke-width="1.6"/><path d="M62,106 L92.4,106 L92.4,73.1 L101.2,73.1 L101.2,67.3 L108,67.3 L108,69.8 A23.55,14.7 0 0 0 155.1,69.8 L155.1,67.3 L162,67.3 L162,73.1 L169.8,73.1 L169.8,106 L203.6,106 L203.6,131 L62,131 Z" fill="url(#h1)" stroke="#111" stroke-width="1.5"/><rect x="103" y="96" width="58" height="24.6" fill="#fff" stroke="#111" stroke-width="1.5"/><rect x="77.3" y="99" width="7" height="78" fill="#666" stroke="#111" stroke-width="1.1"/><rect x="78.3" y="101" width="5" height="30" fill="#9a9a9a"/><line x1="78.3" y1="134" x2="83.3" y2="132" stroke="#ccc" stroke-width="0.9"/><line x1="78.3" y1="137" x2="83.3" y2="135" stroke="#ccc" stroke-width="0.9"/><line x1="78.3" y1="140" x2="83.3" y2="138" stroke="#ccc" stroke-width="0.9"/><line x1="78.3" y1="143" x2="83.3" y2="141" stroke="#ccc" stroke-width="0.9"/><line x1="78.3" y1="146" x2="83.3" y2="144" stroke="#ccc" stroke-width="0.9"/><line x1="78.3" y1="149" x2="83.3" y2="147" stroke="#ccc" stroke-width="0.9"/><line x1="78.3" y1="152" x2="83.3" y2="150" stroke="#ccc" stroke-width="0.9"/><line x1="78.3" y1="155" x2="83.3" y2="153" stroke="#ccc" stroke-width="0.9"/><line x1="78.3" y1="158" x2="83.3" y2="156" stroke="#ccc" stroke-width="0.9"/><line x1="78.3" y1="161" x2="83.3" y2="159" stroke="#ccc" stroke-width="0.9"/><line x1="78.3" y1="164" x2="83.3" y2="162" stroke="#ccc" stroke-width="0.9"/><line x1="78.3" y1="167" x2="83.3" y2="165" stroke="#ccc" stroke-width="0.9"/><line x1="78.3" y1="170" x2="83.3" y2="168" stroke="#ccc" stroke-width="0.9"/><line x1="78.3" y1="173" x2="83.3" y2="171" stroke="#ccc" stroke-width="0.9"/><line x1="78.3" y1="176" x2="83.3" y2="174" stroke="#ccc" stroke-width="0.9"/><path d="M77.3,101.5 A3.5,3.5 0 0 1 84.3,101.5 Z" fill="#111"/><rect x="180.7" y="99" width="7" height="78" fill="#666" stroke="#111" stroke-width="1.1"/><rect x="181.7" y="101" width="5" height="30" fill="#9a9a9a"/><line x1="181.7" y1="134" x2="186.7" y2="132" stroke="#ccc" stroke-width="0.9"/><line x1="181.7" y1="137" x2="186.7" y2="135" stroke="#ccc" stroke-width="0.9"/><line x1="181.7" y1="140" x2="186.7" y2="138" stroke="#ccc" stroke-width="0.9"/><line x1="181.7" y1="143" x2="186.7" y2="141" stroke="#ccc" stroke-width="0.9"/><line x1="181.7" y1="146" x2="186.7" y2="144" stroke="#ccc" stroke-width="0.9"/><line x1="181.7" y1="149" x2="186.7" y2="147" stroke="#ccc" stroke-width="0.9"/><line x1="181.7" y1="152" x2="186.7" y2="150" stroke="#ccc" stroke-width="0.9"/><line x1="181.7" y1="155" x2="186.7" y2="153" stroke="#ccc" stroke-width="0.9"/><line x1="181.7" y1="158" x2="186.7" y2="156" stroke="#ccc" stroke-width="0.9"/><line x1="181.7" y1="161" x2="186.7" y2="159" stroke="#ccc" stroke-width="0.9"/><line x1="181.7" y1="164" x2="186.7" y2="162" stroke="#ccc" stroke-width="0.9"/><line x1="181.7" y1="167" x2="186.7" y2="165" stroke="#ccc" stroke-width="0.9"/><line x1="181.7" y1="170" x2="186.7" y2="168" stroke="#ccc" stroke-width="0.9"/><line x1="181.7" y1="173" x2="186.7" y2="171" stroke="#ccc" stroke-width="0.9"/><line x1="181.7" y1="176" x2="186.7" y2="174" stroke="#ccc" stroke-width="0.9"/><path d="M180.7,101.5 A3.5,3.5 0 0 1 187.7,101.5 Z" fill="#111"/><path d="M31.6,112.3 L36.3,111 L48.5,150 L41.5,150 Z" fill="#1a1a1a"/><circle cx="34.2" cy="115.0" r="0.9" fill="#eee"/><circle cx="35.35" cy="118.6" r="0.9" fill="#eee"/><circle cx="36.5" cy="122.2" r="0.9" fill="#eee"/><circle cx="37.650000000000006" cy="125.8" r="0.9" fill="#eee"/><circle cx="38.800000000000004" cy="129.4" r="0.9" fill="#eee"/><circle cx="39.95" cy="133.0" r="0.9" fill="#eee"/><circle cx="41.1" cy="136.6" r="0.9" fill="#eee"/><circle cx="42.25" cy="140.2" r="0.9" fill="#eee"/><circle cx="43.400000000000006" cy="143.8" r="0.9" fill="#eee"/><circle cx="44.550000000000004" cy="147.4" r="0.9" fill="#eee"/><path d="M19.5,123 L31.5,115.8 L33.5,119.5 L21.5,126.8 Z" fill="#222"/><path d="M22,123.2 L31,117.8" stroke="#aaa" stroke-width="0.7" stroke-dasharray="1.2 1"/><defs><linearGradient id="bk" x1="0" y1="0" x2="0" y2="1"><stop offset="0" stop-color="#fafafa"/><stop offset="0.45" stop-color="#e0e0e0"/><stop offset="1" stop-color="#707070"/></linearGradient></defs><path d="M25,80.5 L48.5,87.4 L37,106.5 L18,101 Q14.5,95 16.5,88.5 Q19,81.5 25,80.5 Z" fill="url(#bk)"/><path d="M36.2,98.5 Q41,91 49.2,87 L52.8,95.2 Q46,96.5 38,100 Z" fill="#111"/><path d="M230.3,111.8 L236.8,112.4 L227,150.3 L219.8,150.3 Z" fill="#1a1a1a"/><rect x="230.5" y="113" width="2.5" height="3" fill="#eee" transform="rotate(15 231.7 114.5)"/><circle cx="231.5" cy="118.0" r="0.9" fill="#eee"/><circle cx="230.45" cy="121.4" r="0.9" fill="#eee"/><circle cx="229.4" cy="124.8" r="0.9" fill="#eee"/><circle cx="228.35" cy="128.2" r="0.9" fill="#eee"/><circle cx="227.3" cy="131.6" r="0.9" fill="#eee"/><circle cx="226.25" cy="135.0" r="0.9" fill="#eee"/><circle cx="225.2" cy="138.4" r="0.9" fill="#eee"/><circle cx="224.15" cy="141.8" r="0.9" fill="#eee"/><circle cx="223.1" cy="145.2" r="0.9" fill="#eee"/><circle cx="222.05" cy="148.6" r="0.9" fill="#eee"/><path d="M233.7,118.2 L248.5,125.5 L246,131 L231.5,123.5 Z" fill="#222"/><path d="M235,121 L246,126.5" stroke="#999" stroke-width="0.7"/><rect x="226.4" y="144.4" width="15" height="5.9" fill="#222"/><path d="M228,147.5 L240,147.5" stroke="#bbb" stroke-width="0.8" stroke-dasharray="1.5 1.2"/><line x1="193" y1="137" x2="216" y2="127" stroke="#333" stroke-width="0.8"/><path d="M220,125 L212,125.5 L215,130 Z" fill="#111"/><line x1="100.3" y1="179" x2="100.3" y2="197" stroke="#999" stroke-width="1"/><line x1="200.6" y1="176" x2="200.6" y2="196" stroke="#999" stroke-width="1"/><path d="M446,38.3 L385.4,38.3 L385.4,87.7 L372.4,113.5 L372.4,142.8 L382.6,142.8 L382.6,117 Q382.6,112.3 387.5,111.9 L446,108.3 Z" fill="url(#h2)" stroke="none"/><path d="M446,38.3 L385.4,38.3 L385.4,87.7 L372.4,113.5 L372.4,142.8 L382.6,142.8 L382.6,117 Q382.6,112.3 387.5,111.9 L446,108.3" fill="none" stroke="#777" stroke-width="1"/><path d="M461.3,38.3 L519.3,38.3 L519.3,81.2 L532,114 L532,142.8 L522.1,142.8 L522.1,117 Q522.1,112.4 517,112.2 L461.3,108.3 Z" fill="url(#h2)" stroke="none"/><path d="M461.3,38.3 L519.3,38.3 L519.3,81.2 L532,114 L532,142.8 L522.1,142.8 L522.1,117 Q522.1,112.4 517,112.2 L461.3,108.3" fill="none" stroke="#777" stroke-width="1"/><rect x="342.9" y="143.5" width="44.9" height="30.5" fill="url(#gr)" stroke="#333" stroke-width="0.8"/><rect x="371" y="165" width="16.8" height="9" fill="url(#con)"/><rect x="320" y="164" width="37" height="10" fill="url(#con)"/><rect x="334.5" y="144.3" width="4" height="20.7" fill="#fff" stroke="#666" stroke-width="0.6"/><rect x="338.3" y="144.3" width="3.8" height="20.7" fill="#111"/><rect x="387.8" y="143.5" width="4.2" height="33.5" fill="#fff" stroke="#666" stroke-width="0.6"/><rect x="392" y="143.5" width="3.5" height="33.5" fill="#111"/><rect x="362" y="136.7" width="4.5" height="38" fill="#eee" stroke="#444" stroke-width="0.8"/><path d="M345,146 q3,-3 6,0 t6,0 t6,0 t6,0 t6,0 t6,0" fill="none" stroke="#eee" stroke-width="1.2"/><path d="M331,135 Q336,131 341,136 L343,133 Q341,142 335,141 Z" fill="#222"/><rect x="517" y="143.5" width="45.5" height="30.5" fill="url(#gr)" stroke="#333" stroke-width="0.8"/><rect x="517" y="165" width="16" height="9" fill="url(#con)"/><rect x="547" y="164" width="38" height="10" fill="url(#con)"/><rect x="509.9" y="143.5" width="3.1" height="33.5" fill="#111"/><rect x="513" y="143.5" width="4" height="33.5" fill="#fff" stroke="#666" stroke-width="0.6"/><rect x="562.5" y="144" width="4.5" height="20" fill="#111"/><rect x="567" y="144" width="4" height="20" fill="#fff" stroke="#666" stroke-width="0.6"/><rect x="537.3" y="136.7" width="5.4" height="38" fill="#eee" stroke="#444" stroke-width="0.8"/><path d="M519,146 q3,-3 6,0 t6,0 t6,0 t6,0 t6,0 t6,0" fill="none" stroke="#eee" stroke-width="1.2"/><path d="M559,134 Q566,129 572,132 L566,138 Q561,143 559,138 Z" fill="#222"/><rect x="676" y="146.3" width="222.6" height="44" fill="url(#con2)"/><rect x="713.8" y="122" width="23.2" height="24" fill="url(#gr)" stroke="#333" stroke-width="0.6"/><rect x="725" y="129" width="12" height="7" fill="#fff" stroke="#555" stroke-width="0.6"/><rect x="847" y="122" width="23.5" height="24" fill="url(#gr)" stroke="#333" stroke-width="0.6"/><rect x="847" y="129" width="11" height="7" fill="#fff" stroke="#555" stroke-width="0.6"/><rect x="748" y="102" width="89.5" height="44" fill="url(#gr)" stroke="#333" stroke-width="0.8"/><rect x="743" y="102" width="5" height="44" fill="#fff" stroke="#555" stroke-width="0.6"/><rect x="837.5" y="102" width="2.5" height="44" fill="#fff" stroke="#555" stroke-width="0.6"/><line x1="748" y1="92" x2="837.5" y2="92" stroke="#555" stroke-width="0.8"/><rect x="734.5" y="145" width="13.5" height="29.5" fill="url(#gr)"/><rect x="837.5" y="145" width="12.5" height="29.5" fill="url(#gr)"/><rect x="736.6" y="89" width="6.6" height="84.4" fill="#fff" stroke="#333" stroke-width="1.2"/><rect x="737.8000000000001" y="89" width="1.6" height="84.4" fill="#888"/><rect x="736.1" y="87" width="7.6" height="3" fill="#fff" stroke="#333" stroke-width="0.8"/><rect x="839.9" y="89" width="6.6" height="84.4" fill="#fff" stroke="#333" stroke-width="1.2"/><rect x="841.1" y="89" width="1.6" height="84.4" fill="#888"/><rect x="839.4" y="87" width="7.6" height="3" fill="#fff" stroke="#333" stroke-width="0.8"/><rect x="708.3" y="86.7" width="5.5" height="58.3" fill="#fff" stroke="#333" stroke-width="1"/><rect x="870.5" y="86.7" width="5.5" height="58.3" fill="#fff" stroke="#333" stroke-width="1"/><rect x="691.6" y="141.8" width="16.4" height="4" fill="#fff" stroke="#555" stroke-width="0.7"/><rect x="876" y="141.8" width="16.4" height="4" fill="#fff" stroke="#555" stroke-width="0.7"/><rect x="757.4" y="141.8" width="3.1" height="9" fill="#fff" stroke="#333" stroke-width="0.8"/><rect x="825.5" y="141.8" width="3.1" height="9" fill="#fff" stroke="#333" stroke-width="0.8"/><rect x="767" y="92" width="3" height="10" fill="#fff" stroke="#333" stroke-width="0.8"/><rect x="816" y="92" width="3" height="10" fill="#fff" stroke="#333" stroke-width="0.8"/><path d="M772,53.3 L815,53.3 L796.4,72.6 L789.8,72.6 Z" fill="#fff" stroke="#444" stroke-width="0.9"/><path d="M779,60.6 L808,60.6 L796.4,72.6 L789.8,72.6 Z" fill="#777"/><rect x="790.8" y="72.6" width="5.5" height="35" fill="#666"/><path d="M791,106 Q789,118 768,124 M796,106 Q798,118 818,124" fill="none" stroke="#222" stroke-width="1"/><rect x="24" y="381.8" width="137" height="21.5" fill="url(#con2)"/><rect x="172.5" y="382" width="113.5" height="21.3" fill="url(#con2)"/><rect x="79.4" y="361" width="81.6" height="20.8" fill="url(#gr5)" stroke="#333" stroke-width="0.8"/><rect x="172.5" y="361" width="75.5" height="21" fill="url(#gr5)"/><rect x="106" y="382" width="21" height="21" fill="url(#gr5)"/><rect x="205.9" y="382" width="19.6" height="21" fill="url(#gr5)"/><path d="M133.2,257.9 L160.8,257.9 L160.8,360 L124.6,360 L124.6,281 L133.2,277 Z" fill="url(#h4)"/><path d="M133.2,257.9 L133.2,277 L124.6,281 L124.6,360" fill="none" stroke="#999" stroke-width="0.8"/><path d="M172.6,257.9 L200.3,257.9 L200.3,274.3 L208.2,279.6 L208.2,360 L172.6,360 Z" fill="url(#h4)"/><path d="M172.6,257.9 L200.3,257.9 L200.3,274.3 L208.2,279.6 L208.2,360" fill="none" stroke="#aaa" stroke-width="0.8" stroke-dasharray="1.5 1"/><path d="M105.5,270 L105.5,360" stroke="#888" stroke-width="0.8"/><rect x="105.5" y="286.8" width="19.1" height="5.3" fill="#fff" stroke="#777" stroke-width="0.8"/><rect x="105.5" y="314" width="19.1" height="5.7" fill="#fff" stroke="#777" stroke-width="0.8"/><rect x="100.4" y="360.2" width="60.6" height="9.8" fill="url(#h4p)" stroke="#555" stroke-width="0.8"/><rect x="172.5" y="360.2" width="58.9" height="9.8" fill="url(#h4p)" stroke="#555" stroke-width="0.8"/><rect x="83.2" y="270" width="13.1" height="111.8" fill="#fff" stroke="#444" stroke-width="1"/><rect x="83.2" y="307.4" width="13.1" height="74.4" fill="url(#gr5)"/><rect x="98" y="269.7" width="6" height="91" fill="#fff" stroke="#777" stroke-width="0.8"/><path d="M71.9,233.3 L105,233.3 L105,251 L96.3,267.5 L83.2,267.5 L71.9,251 Z" fill="#fff" stroke="#777" stroke-width="0.9"/><rect x="83.2" y="267.5" width="13.1" height="2.5" fill="#333"/><path d="M29.8,376.9 L78.8,351.4 L78.8,378 Z" fill="#fff" stroke="#666" stroke-width="0.9"/><path d="M38,374 L75,355 L75,374 Z" fill="#fff" stroke="#888" stroke-width="0.6"/><rect x="29.8" y="376.9" width="49" height="4.9" fill="#fff" stroke="#666" stroke-width="0.8"/><rect x="112" y="354.3" width="9" height="48.7" fill="#fff" stroke="#111" stroke-width="1.4"/><rect x="109.2" y="358" width="14.8" height="4" fill="#fff" stroke="#222" stroke-width="1"/><rect x="211.8" y="354.3" width="9" height="48.7" fill="#fff" stroke="#111" stroke-width="1.4"/><rect x="209.0" y="358" width="14.8" height="4" fill="#fff" stroke="#222" stroke-width="1"/><rect x="248" y="354.3" width="6" height="27.7" fill="#fff" stroke="#666" stroke-width="0.9"/><rect x="326.5" y="317.8" width="239.2" height="90.2" fill="url(#con5b)"/><path d="M339.2,317.8 L548,317.8 L548,363.6 L528.7,363.6 L528.7,402 L513.9,402 L513.9,363.6 L371.8,363.6 L371.8,402 L357,402 L357,363.6 L339.2,363.6 Z" fill="url(#gr5)"/><rect x="349.6" y="316" width="188" height="22.6" fill="#fff"/><polygon points="349.6,338.6 349.6,318 357.5,318 357.5,328.7 371.6,328.7 371.6,318 401.4,318 401.4,320.3 399,320.3 399,328.7 413.4,328.7 413.4,320.3 411.1,320.3 411.1,318 439,318 439,320.3 436.3,320.3 436.3,328.7 451.2,328.7 451.2,320.3 448.9,320.3 448.9,318 477,318 477,320.3 474.5,320.3 474.5,328.7 488,328.7 488,320.3 485.8,320.3 485.8,318 512.4,318 512.4,328.7 524,328.7 524,318 537.6,318 537.6,338.6 506.6,338.6 506.6,328.7 492,328.7 492,338.6 470.4,338.6 470.4,328.7 455.3,328.7 455.3,338.6 432.9,338.6 432.9,328.7 417.6,328.7 417.6,338.6 393.5,338.6 393.5,328.7 379.5,328.7 379.5,338.6" fill="none" stroke="#333" stroke-width="0.9"/><rect x="379.5" y="328.7" width="14.0" height="9.9" fill="url(#gr5)"/><rect x="417.6" y="328.7" width="15.299999999999955" height="9.9" fill="url(#gr5)"/><rect x="455.3" y="328.7" width="15.099999999999966" height="9.9" fill="url(#gr5)"/><rect x="492" y="328.7" width="14.600000000000023" height="9.9" fill="url(#gr5)"/><path d="M379.5,338.6 L379.5,328.7 L393.5,328.7 L393.5,338.6 M417.6,338.6 L417.6,328.7 L432.9,328.7 L432.9,338.6 M455.3,338.6 L455.3,328.7 L470.4,328.7 L470.4,338.6 M492,338.6 L492,328.7 L506.6,328.7 L506.6,338.6" fill="none" stroke="#222" stroke-width="1"/><rect x="363.8" y="340" width="3.6" height="60.6" fill="#fff"/><rect x="519.8" y="340" width="3.6" height="60.6" fill="#fff"/><line x1="384.3" y1="318" x2="384.3" y2="328.7" stroke="#333" stroke-width="0.8"/><line x1="389.1" y1="318" x2="389.1" y2="328.7" stroke="#333" stroke-width="0.8"/><line x1="497.6" y1="318" x2="497.6" y2="328.7" stroke="#333" stroke-width="0.8"/><line x1="502.40000000000003" y1="318" x2="502.40000000000003" y2="328.7" stroke="#333" stroke-width="0.8"/><path d="M360.5,328 L360.5,323 L368.5,323 L368.5,328 M362.5,323 L362.5,321 L366.5,321 L366.5,323" fill="#fff" stroke="#333" stroke-width="0.8"/><path d="M517.5,328 L517.5,323 L525.5,323 L525.5,328 M519.5,323 L519.5,321 L523.5,321 L523.5,323" fill="#fff" stroke="#333" stroke-width="0.8"/><rect x="423.3" y="288" width="2.8" height="42" fill="#555"/><rect x="416.8" y="267.3" width="15.7" height="20.7" fill="#fff" stroke="#333" stroke-width="0.9"/><rect x="417.3" y="273.8" width="14.7" height="13.7" fill="url(#gr5)"/><path d="M460.7,316 L460.7,299 Q460.7,296 464,296 L479,296 M463.4,316 L463.4,300 Q463.4,298.5 466,298.5 L479,298.5" fill="none" stroke="#555" stroke-width="0.8"/><ellipse cx="462" cy="316" rx="3" ry="1.8" fill="#fff" stroke="#333" stroke-width="0.8"/><path d="M647.6,315.7 L684.7,315.7 L684.7,362.4 L731.8,362.4 L731.8,315.3 L773.9,315.3 L773.9,379.8 L871,379.8 L871,410.3 L647.6,410.3 Z" fill="url(#con5)"/><path d="M684.7,324.1 L701.4,324.1 L701.4,351.6 L718.3,351.6 L718.3,318 A26.2,25 0 0 1 744.5,292.9 L766,292.9 A21.3,21 0 0 1 787.3,314 L787.3,356.9 L862,356.9 L862,379.8 L773.9,379.8 L773.9,315.3 L731.8,315.3 L731.8,362.4 L684.7,362.4 Z" fill="url(#gr)" stroke="#222" stroke-width="0.9"/><path d="M701.4,351.6 L701.4,309 A32,25.5 0 0 1 733.4,283.5 L774,283.5 A31.5,27.5 0 0 1 805.5,311 L805.5,356.9 L862,356.9 L862,369 L787.3,369 L787.3,314 A21.3,21 0 0 0 766,292.9 L744.5,292.9 A26.2,25 0 0 0 718.3,318 L718.3,351.6 Z" fill="url(#h6)" stroke="#111" stroke-width="1.2"/><rect x="773.9" y="369" width="89" height="10.8" fill="url(#gr)"/><path d="M731.8,362.4 L731.8,315.3 L773.9,315.3 L773.9,369" fill="none" stroke="#111" stroke-width="1.2"/><path d="M694.5,344.7 L694.5,354.5 L731,354.5" fill="none" stroke="#111" stroke-width="1"/><line x1="726.9" y1="316" x2="726.9" y2="326" stroke="#111" stroke-width="1"/><path d="M745,295 Q758,308 770,298" fill="none" stroke="#222" stroke-width="0.8"/><rect x="838.2" y="356" width="7" height="54" fill="#fff" stroke="#111" stroke-width="1.3"/><rect x="834.5" y="353.8" width="13.7" height="4.2" fill="#fff" stroke="#333" stroke-width="0.9"/><path d="M773.8,277.6 Q780,267 790.7,267.6 L827.5,274.5 M780,280 Q787,273 795.3,273 L827.5,280.7" fill="none" stroke="#555" stroke-width="0.9"/><path d="M772,276 L779,279.5 L777,284 L770,281 Z" fill="#fff" stroke="#555" stroke-width="0.7"/></svg>

<svg width="912" height="459" style="position:absolute;left:0;top:0">
<g stroke="#555" stroke-width="0.8" fill="none">
<path d="M755,63 L781,92"/><path d="M760,86 L770,92"/><path d="M803,82 L797,92"/><path d="M842,68 L815,92"/>
<path d="M809,41 L800,60"/>
<path d="M128,241 L97,268"/><path d="M128,259 L101,270"/><path d="M67,284 L87,294"/>
<path d="M443,266 L432,276"/><path d="M372,305 L384,318"/><path d="M450,307 L460,316"/><path d="M487,289 L470,297"/><path d="M512,305 L500,318"/>
</g></svg>
<div class="cap" style="left:66.5px;top:197.5px;width:128.5px;font-size:17px"><span>图</span><span>1</span><span>自</span><span>重</span><span>法</span><span>灌</span><span>浆</span></div><div class="cap" style="left:386.3px;top:197.5px;width:140.5px;font-size:17px"><span>图</span><span>2</span><span>自</span><span>重</span><span>法</span><span>灌</span><span>浆</span></div><div class="cap" style="left:713.2px;top:200.5px;width:160.8px;font-size:17px"><span>图</span><span>3</span><span>高</span><span>位</span><span>漏</span><span>斗</span><span>灌</span><span>浆</span></div><div class="cap" style="left:67.8px;top:422px;width:159.2px;font-size:17px"><span>图</span><span>4</span><span>高</span><span>位</span><span>漏</span><span>斗</span><span>灌</span><span>浆</span></div><div class="cap" style="left:378.9px;top:423px;width:139.5px;font-size:17px"><span>图</span><span>5</span><span>压</span><span>力</span><span>法</span><span>灌</span><span>浆</span></div><div class="cap" style="left:692.6px;top:423.5px;width:139.5px;font-size:17px"><span>图</span><span>6</span><span>压</span><span>力</span><span>法</span><span>灌</span><span>浆</span></div><div class="lab" style="left:794.8px;top:31.2px;font-size:9px;letter-spacing:0px">高位漏斗</div><div class="lab" style="left:720.5px;top:53px;font-size:9.3px;letter-spacing:0px">设备底座</div><div class="lab" style="left:735px;top:74.5px;font-size:9px;letter-spacing:0px">排气孔</div><div class="lab" style="left:801.5px;top:74.5px;font-size:9px;letter-spacing:0px">灌浆孔</div><div class="lab" style="left:838px;top:59px;font-size:9px;letter-spacing:0px">排气孔</div><div class="lab" style="left:124.6px;top:231.5px;font-size:10.2px;letter-spacing:0.9px">高位漏斗</div><div class="lab" style="left:124.2px;top:249.8px;font-size:10.2px;letter-spacing:0.9px">管接头</div><div class="lab" style="left:35.5px;top:277px;font-size:10.3px;letter-spacing:0.5px">灌浆管</div><div class="lab" style="left:434.2px;top:257px;font-size:8px;letter-spacing:0px">高位漏斗</div><div class="lab" style="left:359.2px;top:297px;font-size:7.2px;letter-spacing:0px">排气孔</div><div class="lab" style="left:434.8px;top:297.5px;font-size:7.3px;letter-spacing:0px">管接头</div><div class="lab" style="left:480px;top:282.5px;font-size:7.8px;letter-spacing:0px">压力灌浆管</div><div class="lab" style="left:503.8px;top:296px;font-size:7.8px;letter-spacing:0px">排气孔</div><div class="lab" style="left:722.4px;top:262.5px;font-size:8.5px;letter-spacing:0px">管接头</div><div class="lab" style="left:834px;top:252.2px;font-size:9.2px;letter-spacing:0px">压力灌浆管</div><div class="lab" style="left:843.7px;top:265px;font-size:9.5px;letter-spacing:0px">压</div><div class="lab" style="left:856.2px;top:265px;font-size:9.5px;letter-spacing:0px">力</div>
</div></body></html>
